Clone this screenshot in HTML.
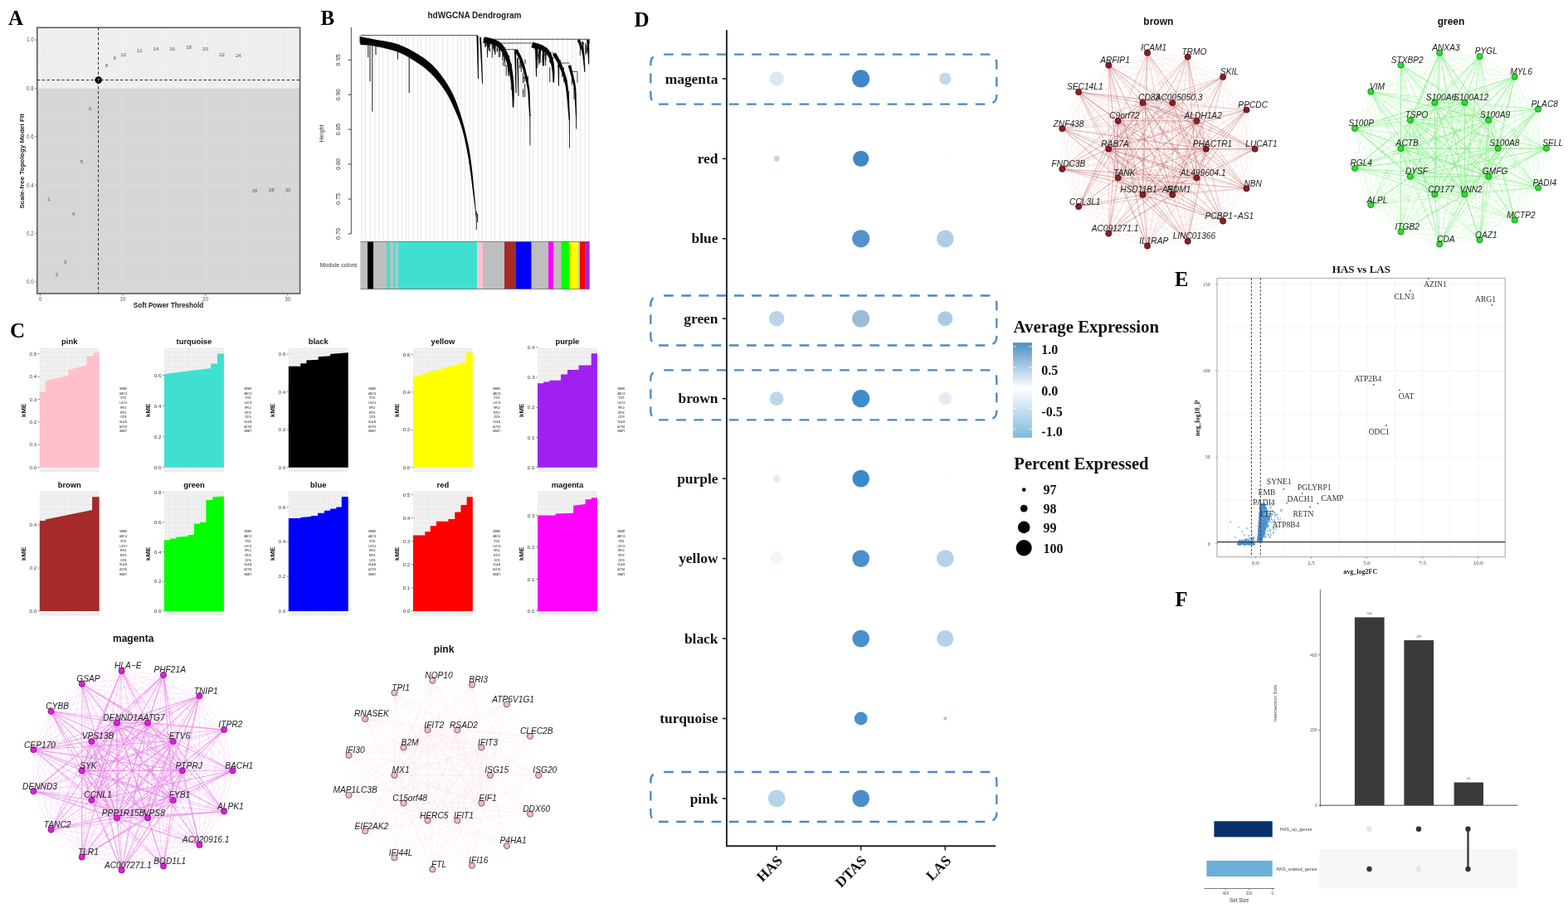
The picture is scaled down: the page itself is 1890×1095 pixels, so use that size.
<!DOCTYPE html>
<html><head><meta charset="utf-8"><title>hdWGCNA figure</title>
<style>
html,body{margin:0;padding:0;background:#fff;}
body{width:1890px;height:1095px;overflow:hidden;}
svg{display:block;}
.S{font-family:'Liberation Sans', Arial, sans-serif;}
.Sb{font-family:'Liberation Sans', Arial, sans-serif;font-weight:bold;}
.Si{font-family:'Liberation Sans', Arial, sans-serif;font-style:italic;}
.R{font-family:'Liberation Serif', 'Times New Roman', serif;}
.Rb{font-family:'Liberation Serif', 'Times New Roman', serif;font-weight:bold;}
</style></head>
<body>
<svg width="1890" height="1095" viewBox="0 0 1890 1095">
<rect width="1890" height="1095" fill="#fff"/>
<text class="Rb" x="10" y="29.6" font-size="25">A</text>
<rect x="44.8" y="33.3" width="316.8" height="73.2" fill="#eeeeee"/>
<rect x="44.8" y="106.5" width="316.8" height="247.5" fill="#d6d6d6"/>
<line x1="48.6" y1="33.3" x2="48.6" y2="106.5" stroke="#f7f7f7" stroke-width="0.9"/>
<line x1="48.6" y1="106.5" x2="48.6" y2="354" stroke="#dcdcdc" stroke-width="0.9"/>
<line x1="98.3" y1="33.3" x2="98.3" y2="106.5" stroke="#f7f7f7" stroke-width="0.5"/>
<line x1="98.3" y1="106.5" x2="98.3" y2="354" stroke="#dcdcdc" stroke-width="0.5"/>
<line x1="148" y1="33.3" x2="148" y2="106.5" stroke="#f7f7f7" stroke-width="0.9"/>
<line x1="148" y1="106.5" x2="148" y2="354" stroke="#dcdcdc" stroke-width="0.9"/>
<line x1="197.7" y1="33.3" x2="197.7" y2="106.5" stroke="#f7f7f7" stroke-width="0.5"/>
<line x1="197.7" y1="106.5" x2="197.7" y2="354" stroke="#dcdcdc" stroke-width="0.5"/>
<line x1="247.4" y1="33.3" x2="247.4" y2="106.5" stroke="#f7f7f7" stroke-width="0.9"/>
<line x1="247.4" y1="106.5" x2="247.4" y2="354" stroke="#dcdcdc" stroke-width="0.9"/>
<line x1="297.1" y1="33.3" x2="297.1" y2="106.5" stroke="#f7f7f7" stroke-width="0.5"/>
<line x1="297.1" y1="106.5" x2="297.1" y2="354" stroke="#dcdcdc" stroke-width="0.5"/>
<line x1="346.8" y1="33.3" x2="346.8" y2="106.5" stroke="#f7f7f7" stroke-width="0.9"/>
<line x1="346.8" y1="106.5" x2="346.8" y2="354" stroke="#dcdcdc" stroke-width="0.9"/>
<line x1="44.8" y1="77.3" x2="361.6" y2="77.3" stroke="#f7f7f7" stroke-width="0.5"/>
<line x1="44.8" y1="48.1" x2="361.6" y2="48.1" stroke="#f7f7f7" stroke-width="0.9"/>
<line x1="44.8" y1="340.1" x2="361.6" y2="340.1" stroke="#dcdcdc" stroke-width="0.9"/>
<line x1="44.8" y1="310.9" x2="361.6" y2="310.9" stroke="#dcdcdc" stroke-width="0.5"/>
<line x1="44.8" y1="281.7" x2="361.6" y2="281.7" stroke="#dcdcdc" stroke-width="0.9"/>
<line x1="44.8" y1="252.5" x2="361.6" y2="252.5" stroke="#dcdcdc" stroke-width="0.5"/>
<line x1="44.8" y1="223.3" x2="361.6" y2="223.3" stroke="#dcdcdc" stroke-width="0.9"/>
<line x1="44.8" y1="194.1" x2="361.6" y2="194.1" stroke="#dcdcdc" stroke-width="0.5"/>
<line x1="44.8" y1="164.9" x2="361.6" y2="164.9" stroke="#dcdcdc" stroke-width="0.9"/>
<line x1="44.8" y1="135.7" x2="361.6" y2="135.7" stroke="#dcdcdc" stroke-width="0.5"/>
<rect x="44.8" y="33.3" width="316.8" height="320.7" fill="none" stroke="#5a5a5a" stroke-width="1.6"/>
<line x1="44.8" y1="96.5" x2="361.6" y2="96.5" stroke="#2a2a2a" stroke-width="1" stroke-dasharray="3.3,2.6"/>
<line x1="118.5" y1="33.3" x2="118.5" y2="354" stroke="#2a2a2a" stroke-width="1" stroke-dasharray="3.3,2.6"/>
<text class="S" x="59" y="241.6" font-size="6" text-anchor="middle" fill="#555">1</text>
<text class="S" x="68.4" y="332.9" font-size="6" text-anchor="middle" fill="#555">2</text>
<text class="S" x="78.4" y="318.3" font-size="6" text-anchor="middle" fill="#555">3</text>
<text class="S" x="88.5" y="260.4" font-size="6" text-anchor="middle" fill="#555">4</text>
<text class="S" x="98.5" y="196.9" font-size="6" text-anchor="middle" fill="#555">5</text>
<text class="S" x="108.6" y="133.4" font-size="6" text-anchor="middle" fill="#555">6</text>
<text class="S" x="128.4" y="80.6" font-size="6" text-anchor="middle" fill="#555">8</text>
<text class="S" x="138.1" y="71.6" font-size="6" text-anchor="middle" fill="#555">9</text>
<text class="S" x="148.5" y="68.1" font-size="6" text-anchor="middle" fill="#555">10</text>
<text class="S" x="167.9" y="62.9" font-size="6" text-anchor="middle" fill="#555">12</text>
<text class="S" x="188.1" y="61.2" font-size="6" text-anchor="middle" fill="#555">14</text>
<text class="S" x="207.5" y="61.2" font-size="6" text-anchor="middle" fill="#555">16</text>
<text class="S" x="227.6" y="58.8" font-size="6" text-anchor="middle" fill="#555">18</text>
<text class="S" x="247.4" y="60.5" font-size="6" text-anchor="middle" fill="#555">20</text>
<text class="S" x="267.5" y="68.1" font-size="6" text-anchor="middle" fill="#555">22</text>
<text class="S" x="287.3" y="68.8" font-size="6" text-anchor="middle" fill="#555">24</text>
<text class="S" x="307.1" y="232.2" font-size="6" text-anchor="middle" fill="#555">26</text>
<text class="S" x="327.2" y="231.2" font-size="6" text-anchor="middle" fill="#555">28</text>
<text class="S" x="347" y="230.5" font-size="6" text-anchor="middle" fill="#555">30</text>
<circle cx="118.7" cy="96.5" r="4.3" fill="#000"/>
<text class="S" x="118.7" y="98.6" font-size="5.5" text-anchor="middle" fill="#ddd">7</text>
<line x1="42.3" y1="340.1" x2="44.8" y2="340.1" stroke="#555" stroke-width="0.8"/>
<text class="S" x="40.8" y="342.3" font-size="6.3" text-anchor="end" fill="#555">0.0</text>
<line x1="42.3" y1="281.7" x2="44.8" y2="281.7" stroke="#555" stroke-width="0.8"/>
<text class="S" x="40.8" y="283.9" font-size="6.3" text-anchor="end" fill="#555">0.2</text>
<line x1="42.3" y1="223.3" x2="44.8" y2="223.3" stroke="#555" stroke-width="0.8"/>
<text class="S" x="40.8" y="225.5" font-size="6.3" text-anchor="end" fill="#555">0.4</text>
<line x1="42.3" y1="164.9" x2="44.8" y2="164.9" stroke="#555" stroke-width="0.8"/>
<text class="S" x="40.8" y="167.1" font-size="6.3" text-anchor="end" fill="#555">0.6</text>
<line x1="42.3" y1="106.5" x2="44.8" y2="106.5" stroke="#555" stroke-width="0.8"/>
<text class="S" x="40.8" y="108.7" font-size="6.3" text-anchor="end" fill="#555">0.8</text>
<line x1="42.3" y1="48.1" x2="44.8" y2="48.1" stroke="#555" stroke-width="0.8"/>
<text class="S" x="40.8" y="50.3" font-size="6.3" text-anchor="end" fill="#555">1.0</text>
<line x1="48.6" y1="354" x2="48.6" y2="356.5" stroke="#555" stroke-width="0.8"/>
<text class="S" x="48.6" y="363" font-size="6.3" text-anchor="middle" fill="#555">0</text>
<line x1="148" y1="354" x2="148" y2="356.5" stroke="#555" stroke-width="0.8"/>
<text class="S" x="148" y="363" font-size="6.3" text-anchor="middle" fill="#555">10</text>
<line x1="247.4" y1="354" x2="247.4" y2="356.5" stroke="#555" stroke-width="0.8"/>
<text class="S" x="247.4" y="363" font-size="6.3" text-anchor="middle" fill="#555">20</text>
<line x1="346.8" y1="354" x2="346.8" y2="356.5" stroke="#555" stroke-width="0.8"/>
<text class="S" x="346.8" y="363" font-size="6.3" text-anchor="middle" fill="#555">30</text>
<text class="Sb" x="203" y="371.3" font-size="8.2" text-anchor="middle" fill="#222">Soft Power Threshold</text>
<text class="Sb" x="28.8" y="194.3" font-size="8.1" text-anchor="middle" fill="#222" transform="rotate(-90 28.8 194.3)">Scale-free Topology Model Fit</text>
<text class="Rb" x="386.5" y="30.2" font-size="25">B</text>
<text class="Sb" x="572" y="21.7" font-size="10" text-anchor="middle" fill="#222">hdWGCNA Dendrogram</text>
<line x1="423.3" y1="33" x2="423.3" y2="282" stroke="#333" stroke-width="0.9"/>
<line x1="419.5" y1="72.3" x2="423.3" y2="72.3" stroke="#333" stroke-width="0.9"/>
<text class="S" x="410" y="72.3" font-size="7.3" text-anchor="middle" fill="#333" transform="rotate(-90 410 72.3)">0.95</text>
<line x1="419.5" y1="114.2" x2="423.3" y2="114.2" stroke="#333" stroke-width="0.9"/>
<text class="S" x="410" y="114.2" font-size="7.3" text-anchor="middle" fill="#333" transform="rotate(-90 410 114.2)">0.90</text>
<line x1="419.5" y1="156.1" x2="423.3" y2="156.1" stroke="#333" stroke-width="0.9"/>
<text class="S" x="410" y="156.1" font-size="7.3" text-anchor="middle" fill="#333" transform="rotate(-90 410 156.1)">0.85</text>
<line x1="419.5" y1="198" x2="423.3" y2="198" stroke="#333" stroke-width="0.9"/>
<text class="S" x="410" y="198" font-size="7.3" text-anchor="middle" fill="#333" transform="rotate(-90 410 198)">0.80</text>
<line x1="419.5" y1="240" x2="423.3" y2="240" stroke="#333" stroke-width="0.9"/>
<text class="S" x="410" y="240" font-size="7.3" text-anchor="middle" fill="#333" transform="rotate(-90 410 240)">0.75</text>
<line x1="419.5" y1="282" x2="423.3" y2="282" stroke="#333" stroke-width="0.9"/>
<text class="S" x="410" y="282" font-size="7.3" text-anchor="middle" fill="#333" transform="rotate(-90 410 282)">0.70</text>
<text class="S" x="390" y="161" font-size="7.3" text-anchor="middle" fill="#333" transform="rotate(-90 390 161)">Height</text>
<path d="M436 44V289M440.43 44V289M446.22 44V289M451.87 44V289M457.12 44V289M461.68 44V289M467.74 44V289M473.84 44V289M479.17 44V289M484.49 44V289M489.1 44V289M493.11 44V289M498.07 44V289M503.6 44V289M507.78 44V289M513.84 44V289M518.44 44V289M523.05 44V289M527.16 44V289M533.75 44V289M539.67 44V289M545.95 44V289M551.55 44V289M555.64 44V289M560.49 44V289M565.79 44V289M570.09 44V289M576.56 44V289M581.52 44V289M585.92 44V289M592.05 44V289M596.37 44V289M602.79 44V289M607.96 44V289M613.4 44V289M618.29 44V289M623.55 44V289M628.04 44V289M632.13 44V289M638.39 44V289M643 44V289M649.02 44V289M653.57 44V289M660.09 44V289M666.41 44V289M672.37 44V289M678.36 44V289M683.87 44V289M689.76 44V289M694.08 44V289M699.32 44V289M705.47 44V289M709.99 44V289" stroke="#e2e2e2" stroke-width="0.9" fill="none"/>
<path d="M434.5 42.6H575.5M582.3 47.3H710.3V53M604 52H641M609.7 59.7H622M662.4 63.8H667.9M676 76H686.4M688.4 86.4H696M696 86.4V100" stroke="#222" stroke-width="0.8" fill="none"/>
<path d="M434.3 44.3 L435.06 44.44 L435.97 44.6 L437 44.79 L438.16 45 L439.44 45.23 L440.82 45.48 L442.3 45.75 L443.87 46.04 L445.52 46.36 L447.25 46.69 L449.05 47.03 L450.9 47.4 L452.87 47.78 L455.02 48.15 L457.3 48.54 L459.7 48.94 L462.17 49.37 L464.71 49.81 L467.26 50.29 L469.81 50.8 L472.33 51.35 L474.79 51.95 L477.16 52.6 L479.4 53.3 L481.56 54.06 L483.68 54.88 L485.77 55.76 L487.83 56.67 L489.85 57.63 L491.84 58.62 L493.8 59.65 L495.73 60.69 L497.62 61.76 L499.48 62.83 L501.3 63.92 L503.1 65 L504.86 66.08 L506.57 67.15 L508.23 68.22 L509.87 69.31 L511.47 70.41 L513.04 71.54 L514.58 72.7 L516.11 73.9 L517.62 75.16 L519.12 76.47 L520.61 77.85 L522.1 79.3 L523.59 80.83 L525.07 82.44 L526.55 84.12 L528.02 85.85 L529.47 87.64 L530.9 89.46 L532.31 91.32 L533.68 93.2 L535.02 95.1 L536.33 97.01 L537.59 98.91 L538.8 100.8 L539.96 102.67 L541.08 104.54 L542.15 106.4 L543.18 108.27 L544.18 110.15 L545.15 112.06 L546.09 114 L547.02 115.98 L547.93 118.01 L548.82 120.1 L549.71 122.26 L550.6 124.5 L551.48 126.81 L552.34 129.19 L553.19 131.63 L554.02 134.13 L554.84 136.67 L555.64 139.26 L556.42 141.89 L557.19 144.56 L557.94 147.26 L558.68 149.99 L559.4 152.74 L560.1 155.5 L560.79 158.26 L561.46 161.01 L562.11 163.77 L562.75 166.54 L563.37 169.34 L563.98 172.19 L564.57 175.09 L565.14 178.07 L565.7 181.14 L566.25 184.31 L566.78 187.59 L567.3 191 L567.81 194.64 L568.31 198.57 L568.8 202.71 L569.27 207 L569.73 211.38 L570.17 215.78 L570.6 220.14 L571.01 224.39 L571.39 228.46 L571.75 232.3 L572.09 235.84 L572.4 239 L572.68 241.87 L572.94 244.55 L573.16 247.05 L573.37 249.37 L573.55 251.52 L573.72 253.5 L573.87 255.31 L574 256.96 L574.11 258.45 L574.22 259.79 L574.31 260.97 L574.4 262 L573.8 262 L573.68 260.97 L573.54 259.78 L573.38 258.44 L573.21 256.94 L573.01 255.29 L572.8 253.47 L572.56 251.48 L572.3 249.33 L572.02 247.01 L571.71 244.52 L571.37 241.85 L571 239 L570.6 235.86 L570.15 232.36 L569.68 228.55 L569.17 224.52 L568.64 220.31 L568.09 216 L567.52 211.65 L566.94 207.31 L566.35 203.07 L565.77 198.98 L565.18 195.1 L564.6 191.5 L564.02 188.11 L563.44 184.8 L562.85 181.59 L562.25 178.46 L561.65 175.42 L561.04 172.47 L560.42 169.6 L559.79 166.81 L559.16 164.11 L558.51 161.49 L557.86 158.96 L557.2 156.5 L556.53 154.16 L555.87 151.97 L555.2 149.91 L554.53 147.94 L553.85 146.07 L553.16 144.25 L552.46 142.48 L551.73 140.72 L550.99 138.97 L550.22 137.19 L549.43 135.38 L548.6 133.5 L547.75 131.58 L546.9 129.64 L546.03 127.7 L545.15 125.76 L544.24 123.82 L543.31 121.88 L542.35 119.94 L541.36 118.02 L540.34 116.11 L539.27 114.22 L538.16 112.35 L537 110.5 L535.79 108.66 L534.51 106.81 L533.19 104.95 L531.83 103.1 L530.43 101.27 L529 99.46 L527.55 97.67 L526.08 95.93 L524.61 94.23 L523.13 92.59 L521.66 91.01 L520.2 89.5 L518.76 88.07 L517.33 86.71 L515.91 85.41 L514.48 84.17 L513.05 82.98 L511.6 81.83 L510.13 80.7 L508.63 79.59 L507.09 78.5 L505.51 77.41 L503.89 76.31 L502.2 75.2 L500.46 74.07 L498.69 72.94 L496.88 71.8 L495.03 70.67 L493.15 69.55 L491.23 68.44 L489.28 67.37 L487.29 66.32 L485.27 65.32 L483.21 64.36 L481.12 63.45 L479 62.6 L476.79 61.8 L474.47 61.05 L472.05 60.33 L469.57 59.65 L467.06 59.01 L464.54 58.41 L462.04 57.85 L459.6 57.33 L457.23 56.84 L454.97 56.39 L452.85 55.98 L450.9 55.6 L449.06 55.27 L447.28 55 L445.55 54.78 L443.9 54.61 L442.33 54.47 L440.84 54.36 L439.46 54.28 L438.18 54.21 L437.01 54.16 L435.97 54.11 L435.07 54.06 L434.3 54Z" fill="#050505"/>
<path d="M574.2 255V277M572.6 258H575.6V268" stroke="#222" stroke-width="1" fill="none"/>
<path d="M448.8 50V134.5M443.8 50V69M453 52V66M479.4 58V71.6M493.2 64V112M446 50V98" stroke="#1a1a1a" stroke-width="1" fill="none"/>
<path d="M434.5 44V52" stroke="#111" stroke-width="2" fill="none"/>
<path d="M574.4 43.02 L574.44 44.33 L574.49 45.98 L574.55 47.92 L574.61 50.09 L574.68 52.46 L574.76 54.96 L574.83 57.54 L574.91 60.16 L574.99 62.77 L575.07 65.32 L575.14 67.75 L575.21 70.02 L575.28 72.25 L575.35 74.59 L575.43 76.99 L575.51 79.42 L575.58 81.84 L575.66 84.2 L575.73 86.47 L575.8 88.6 L575.86 90.57 L575.91 92.31 L575.96 93.81 L576 95.01 L577 94.99 L576.99 93.79 L576.98 92.29 L576.96 90.54 L576.94 88.58 L576.93 86.44 L576.91 84.17 L576.89 81.81 L576.86 79.39 L576.84 76.96 L576.82 74.56 L576.81 72.22 L576.79 69.98 L576.77 67.72 L576.75 65.29 L576.74 62.74 L576.72 60.13 L576.7 57.51 L576.68 54.92 L576.66 52.42 L576.65 50.06 L576.63 47.88 L576.62 45.94 L576.61 44.29 L576.6 42.98Z" fill="#060606"/>
<path d="M578 45.05 L578.09 46.51 L578.2 48.36 L578.33 50.54 L578.48 52.98 L578.64 55.63 L578.81 58.43 L578.98 61.32 L579.15 64.24 L579.32 67.13 L579.49 69.93 L579.64 72.59 L579.77 75.03 L579.89 77.41 L580.02 79.87 L580.14 82.38 L580.27 84.89 L580.38 87.38 L580.5 89.8 L580.6 92.11 L580.7 94.29 L580.79 96.28 L580.87 98.06 L580.94 99.59 L581 100.82 L582 100.78 L581.96 99.55 L581.92 98.02 L581.87 96.24 L581.82 94.25 L581.76 92.07 L581.69 89.75 L581.62 87.33 L581.55 84.84 L581.47 82.32 L581.39 79.81 L581.31 77.35 L581.23 74.97 L581.14 72.52 L581.04 69.86 L580.93 67.05 L580.81 64.16 L580.69 61.24 L580.57 58.34 L580.45 55.54 L580.34 52.89 L580.23 50.44 L580.14 48.26 L580.06 46.41 L580 44.95Z" fill="#060606"/>
<path d="M582.22 51.67 L582.91 51.79 L583.78 51.94 L584.78 52.09 L585.88 52.26 L587.07 52.45 L588.3 52.65 L589.54 52.87 L590.77 53.1 L591.94 53.35 L593.03 53.6 L593.98 53.86 L594.79 54.12 L595.55 54.41 L596.28 54.7 L596.95 54.98 L597.55 55.26 L598.1 55.54 L598.61 55.83 L599.1 56.15 L599.58 56.49 L600.06 56.88 L600.57 57.33 L601.09 57.86 L601.64 58.45 L602.22 59.12 L602.8 59.88 L603.41 60.72 L604.02 61.62 L604.64 62.59 L605.25 63.59 L605.85 64.64 L606.44 65.71 L607.01 66.79 L607.56 67.87 L608.08 68.95 L608.57 70.01 L609.03 71.04 L609.45 72.06 L609.85 73.07 L610.22 74.08 L610.58 75.11 L610.92 76.15 L611.24 77.24 L611.57 78.36 L611.88 79.53 L612.2 80.76 L612.52 82.06 L612.85 83.44 L613.18 84.88 L613.52 86.37 L613.85 87.91 L614.18 89.49 L614.51 91.12 L614.83 92.79 L615.14 94.5 L615.43 96.25 L615.71 98.04 L615.97 99.87 L616.21 101.73 L616.43 103.62 L616.62 105.64 L616.8 107.88 L616.96 110.27 L617.1 112.75 L617.23 115.28 L617.34 117.8 L617.44 120.24 L617.53 122.56 L617.61 124.71 L617.68 126.62 L617.74 128.24 L617.8 129.51 L619.4 129.49 L619.42 128.22 L619.45 126.6 L619.49 124.69 L619.54 122.55 L619.59 120.22 L619.64 117.77 L619.68 115.24 L619.7 112.69 L619.71 110.18 L619.69 107.75 L619.65 105.47 L619.57 103.38 L619.46 101.43 L619.33 99.51 L619.18 97.63 L619 95.78 L618.81 93.98 L618.6 92.21 L618.37 90.49 L618.14 88.81 L617.9 87.17 L617.65 85.58 L617.4 84.05 L617.15 82.56 L616.9 81.14 L616.65 79.78 L616.4 78.48 L616.14 77.23 L615.87 76.02 L615.58 74.85 L615.28 73.69 L614.96 72.55 L614.62 71.42 L614.25 70.29 L613.86 69.15 L613.43 67.99 L612.97 66.82 L612.48 65.63 L611.96 64.42 L611.41 63.22 L610.84 62.02 L610.25 60.84 L609.64 59.69 L609.01 58.56 L608.37 57.48 L607.71 56.44 L607.04 55.46 L606.36 54.55 L605.68 53.72 L605 52.96 L604.31 52.26 L603.61 51.62 L602.88 51.02 L602.14 50.48 L601.38 49.98 L600.6 49.52 L599.8 49.09 L598.98 48.68 L598.14 48.29 L597.21 47.88 L596.12 47.45 L594.92 47.04 L593.65 46.66 L592.34 46.3 L591.02 45.97 L589.7 45.66 L588.43 45.37 L587.23 45.11 L586.13 44.87 L585.16 44.66 L584.38 44.48 L583.78 44.33Z" fill="#060606"/>
<path d="M586.82 50.19 L586.88 50.47 L586.95 50.83 L587.04 51.25 L587.14 51.72 L587.25 52.24 L587.37 52.79 L587.49 53.36 L587.62 53.94 L587.76 54.52 L587.89 55.09 L588.03 55.65 L588.17 56.17 L588.31 56.7 L588.47 57.25 L588.64 57.82 L588.82 58.4 L589 58.97 L589.18 59.54 L589.35 60.08 L589.52 60.6 L589.67 61.07 L589.81 61.48 L589.93 61.84 L590.02 62.12 L590.98 61.88 L590.93 61.58 L590.85 61.21 L590.76 60.78 L590.66 60.29 L590.56 59.77 L590.45 59.21 L590.33 58.63 L590.22 58.05 L590.11 57.46 L590.01 56.89 L589.92 56.34 L589.83 55.83 L589.76 55.31 L589.69 54.77 L589.63 54.2 L589.56 53.62 L589.5 53.03 L589.44 52.46 L589.39 51.91 L589.34 51.39 L589.29 50.91 L589.25 50.48 L589.22 50.11 L589.18 49.81Z" fill="#060606"/>
<path d="M594.9 52.09 L594.94 52.38 L594.99 52.72 L595.04 53.12 L595.1 53.57 L595.16 54.06 L595.23 54.59 L595.3 55.14 L595.37 55.71 L595.45 56.29 L595.52 56.88 L595.59 57.48 L595.66 58.06 L595.73 58.68 L595.8 59.36 L595.88 60.09 L595.96 60.86 L596.05 61.64 L596.13 62.41 L596.21 63.17 L596.28 63.89 L596.35 64.55 L596.41 65.14 L596.46 65.64 L596.5 66.03 L597.5 65.97 L597.49 65.58 L597.48 65.07 L597.47 64.48 L597.46 63.82 L597.45 63.1 L597.44 62.34 L597.42 61.55 L597.41 60.77 L597.39 60 L597.37 59.26 L597.36 58.57 L597.34 57.94 L597.32 57.35 L597.3 56.74 L597.28 56.14 L597.26 55.55 L597.23 54.97 L597.21 54.41 L597.18 53.88 L597.16 53.39 L597.14 52.94 L597.12 52.54 L597.11 52.19 L597.1 51.91Z" fill="#060606"/>
<path d="M619.9 60.03 L619.94 60.96 L619.98 62.07 L620.03 63.34 L620.08 64.77 L620.15 66.34 L620.21 68.03 L620.28 69.83 L620.35 71.73 L620.42 73.71 L620.49 75.76 L620.56 77.87 L620.63 80.02 L620.7 82.36 L620.78 85.02 L620.86 87.92 L620.94 90.97 L621.03 94.11 L621.11 97.26 L621.19 100.34 L621.27 103.27 L621.34 105.98 L621.4 108.39 L621.46 110.42 L621.5 112.01 L622.5 111.99 L622.49 110.41 L622.49 108.37 L622.48 105.96 L622.47 103.25 L622.46 100.32 L622.45 97.24 L622.44 94.09 L622.43 90.95 L622.41 87.89 L622.4 85 L622.39 82.33 L622.37 79.98 L622.35 77.83 L622.33 75.72 L622.31 73.67 L622.28 71.68 L622.25 69.78 L622.23 67.97 L622.2 66.28 L622.17 64.71 L622.15 63.28 L622.13 62.01 L622.11 60.9 L622.1 59.97Z" fill="#060606"/>
<path d="M611 72.05 L611.04 72.53 L611.08 73.14 L611.14 73.84 L611.2 74.64 L611.26 75.5 L611.33 76.42 L611.4 77.37 L611.47 78.34 L611.55 79.31 L611.62 80.26 L611.69 81.17 L611.75 82.04 L611.82 82.9 L611.88 83.82 L611.96 84.77 L612.03 85.74 L612.1 86.7 L612.17 87.66 L612.24 88.57 L612.31 89.44 L612.37 90.23 L612.42 90.94 L612.46 91.54 L612.5 92.02 L613.5 91.98 L613.49 91.49 L613.47 90.89 L613.45 90.18 L613.43 89.38 L613.41 88.51 L613.39 87.59 L613.37 86.64 L613.34 85.67 L613.32 84.7 L613.29 83.75 L613.27 82.83 L613.25 81.96 L613.23 81.1 L613.2 80.18 L613.18 79.22 L613.16 78.25 L613.13 77.28 L613.11 76.33 L613.09 75.41 L613.06 74.55 L613.04 73.75 L613.03 73.04 L613.01 72.43 L613 71.95Z" fill="#060606"/>
<path d="M620.23 61.24 L620.54 61.8 L620.94 62.49 L621.39 63.26 L621.89 64.13 L622.44 65.06 L623.01 66.06 L623.59 67.11 L624.18 68.2 L624.77 69.31 L625.33 70.44 L625.85 71.56 L626.34 72.67 L626.8 73.8 L627.26 74.98 L627.71 76.18 L628.16 77.43 L628.6 78.7 L629.03 80 L629.46 81.33 L629.89 82.69 L630.3 84.08 L630.72 85.49 L631.12 86.92 L631.52 88.37 L631.92 89.87 L632.32 91.43 L632.73 93.03 L633.13 94.66 L633.52 96.32 L633.91 97.99 L634.28 99.67 L634.63 101.34 L634.97 103 L635.27 104.63 L635.55 106.22 L635.8 107.76 L636.01 109.27 L636.18 110.76 L636.33 112.24 L636.45 113.72 L636.55 115.18 L636.63 116.63 L636.7 118.07 L636.77 119.49 L636.83 120.9 L636.9 122.3 L636.98 123.68 L637.06 125.05 L637.16 126.43 L637.26 127.86 L637.36 129.32 L637.47 130.78 L637.57 132.22 L637.66 133.63 L637.75 134.98 L637.84 136.24 L637.92 137.4 L637.99 138.43 L638.05 139.32 L638.1 140.04 L639.5 139.96 L639.47 139.25 L639.44 138.36 L639.4 137.32 L639.36 136.16 L639.31 134.89 L639.26 133.55 L639.21 132.14 L639.16 130.69 L639.1 129.22 L639.05 127.76 L638.99 126.33 L638.94 124.95 L638.89 123.6 L638.86 122.23 L638.84 120.84 L638.82 119.43 L638.8 118 L638.77 116.55 L638.73 115.08 L638.68 113.59 L638.6 112.08 L638.5 110.55 L638.37 109 L638.2 107.44 L638 105.85 L637.76 104.21 L637.5 102.54 L637.22 100.85 L636.91 99.14 L636.59 97.43 L636.26 95.73 L635.91 94.04 L635.55 92.37 L635.2 90.74 L634.84 89.15 L634.48 87.63 L634.12 86.13 L633.76 84.66 L633.38 83.22 L633 81.79 L632.61 80.39 L632.22 79.01 L631.81 77.66 L631.4 76.34 L630.98 75.04 L630.55 73.78 L630.11 72.54 L629.66 71.33 L629.18 70.12 L628.65 68.89 L628.09 67.68 L627.52 66.49 L626.94 65.34 L626.37 64.24 L625.81 63.19 L625.29 62.22 L624.81 61.34 L624.39 60.56 L624.04 59.9 L623.77 59.36Z" fill="#060606"/>
<path d="M638.3 138 L638.33 141.12 L638.35 144.24 L638.38 147.35 L638.4 150.47 L638.43 153.59 L638.45 156.7 L638.48 159.82 L638.5 162.94 L638.53 166.05 L638.55 169.17 L638.58 172.29 L638.6 175.4 L639.4 175.4 L639.39 172.28 L639.38 169.16 L639.37 166.05 L639.37 162.93 L639.36 159.81 L639.35 156.7 L639.34 153.58 L639.33 150.46 L639.32 147.35 L639.32 144.23 L639.31 141.11 L639.3 138Z" fill="#060606"/>
<path d="M623.2 70.02 L623.24 71.24 L623.29 72.79 L623.35 74.61 L623.41 76.66 L623.49 78.88 L623.56 81.22 L623.64 83.63 L623.72 86.07 L623.79 88.47 L623.86 90.8 L623.93 93 L623.99 95.01 L624.05 96.96 L624.1 98.96 L624.16 100.99 L624.22 103.03 L624.27 105.03 L624.32 106.97 L624.37 108.83 L624.41 110.57 L624.46 112.17 L624.49 113.59 L624.52 114.82 L624.55 115.81 L625.45 115.79 L625.44 114.8 L625.43 113.58 L625.41 112.15 L625.39 110.55 L625.38 108.81 L625.35 106.95 L625.33 105.01 L625.31 103 L625.29 100.97 L625.26 98.94 L625.24 96.93 L625.21 94.99 L625.18 92.97 L625.15 90.77 L625.11 88.44 L625.07 86.04 L625.03 83.6 L624.99 81.18 L624.95 78.84 L624.91 76.62 L624.88 74.57 L624.85 72.75 L624.82 71.2 L624.8 69.98Z" fill="#060606"/>
<path d="M640.33 57.39 L640.9 57.51 L641.63 57.65 L642.45 57.8 L643.35 57.96 L644.31 58.14 L645.32 58.33 L646.34 58.54 L647.36 58.76 L648.34 58.99 L649.25 59.23 L650.07 59.48 L650.81 59.74 L651.53 60.03 L652.25 60.33 L652.95 60.64 L653.62 60.95 L654.25 61.27 L654.86 61.6 L655.44 61.95 L655.99 62.32 L656.53 62.71 L657.04 63.14 L657.54 63.6 L658.03 64.1 L658.51 64.66 L658.98 65.28 L659.45 65.96 L659.91 66.68 L660.36 67.44 L660.8 68.24 L661.22 69.08 L661.63 69.94 L662.01 70.83 L662.39 71.73 L662.74 72.65 L663.07 73.57 L663.38 74.49 L663.66 75.45 L663.92 76.43 L664.17 77.45 L664.39 78.49 L664.6 79.56 L664.79 80.63 L664.97 81.72 L665.14 82.82 L665.3 83.92 L665.45 85.02 L665.59 86.11 L665.72 87.23 L665.84 88.42 L665.94 89.67 L666.02 90.95 L666.09 92.24 L666.16 93.51 L666.21 94.74 L666.26 95.9 L666.3 96.98 L666.33 97.93 L666.37 98.75 L666.4 99.4 L668 99.4 L668.03 98.75 L668.07 97.94 L668.12 96.99 L668.17 95.92 L668.23 94.75 L668.29 93.51 L668.35 92.23 L668.39 90.92 L668.43 89.6 L668.44 88.31 L668.44 87.07 L668.41 85.89 L668.36 84.77 L668.31 83.64 L668.25 82.5 L668.18 81.36 L668.1 80.22 L668 79.08 L667.88 77.94 L667.74 76.81 L667.58 75.7 L667.39 74.59 L667.18 73.5 L666.93 72.43 L666.66 71.39 L666.36 70.36 L666.05 69.34 L665.71 68.32 L665.34 67.31 L664.95 66.32 L664.53 65.35 L664.09 64.4 L663.61 63.47 L663.1 62.58 L662.56 61.72 L661.97 60.9 L661.35 60.12 L660.7 59.39 L660.03 58.72 L659.32 58.09 L658.6 57.5 L657.87 56.96 L657.11 56.45 L656.35 55.98 L655.58 55.53 L654.81 55.1 L654.02 54.68 L653.19 54.26 L652.25 53.83 L651.22 53.41 L650.15 53.02 L649.06 52.65 L647.96 52.3 L646.88 51.98 L645.84 51.68 L644.86 51.41 L643.97 51.16 L643.19 50.94 L642.56 50.76 L642.07 50.61Z" fill="#060606"/>
<path d="M644.9 58.02 L644.93 58.84 L644.97 59.86 L645.01 61.06 L645.06 62.41 L645.11 63.87 L645.17 65.42 L645.22 67.04 L645.28 68.68 L645.34 70.33 L645.39 71.96 L645.45 73.52 L645.5 75.01 L645.54 76.51 L645.59 78.1 L645.64 79.76 L645.69 81.45 L645.74 83.15 L645.79 84.82 L645.83 86.43 L645.87 87.95 L645.91 89.35 L645.95 90.6 L645.98 91.66 L646 92.51 L647 92.49 L647.01 91.65 L647.01 90.58 L647.02 89.34 L647.03 87.94 L647.04 86.42 L647.05 84.81 L647.06 83.14 L647.07 81.44 L647.08 79.74 L647.09 78.08 L647.1 76.49 L647.1 74.99 L647.11 73.5 L647.11 71.93 L647.11 70.3 L647.11 68.65 L647.11 67 L647.11 65.39 L647.11 63.83 L647.1 62.37 L647.1 61.02 L647.1 59.82 L647.1 58.8 L647.1 57.98Z" fill="#060606"/>
<path d="M649.7 58.03 L649.73 58.46 L649.76 59.01 L649.79 59.64 L649.84 60.36 L649.88 61.14 L649.93 61.96 L649.98 62.82 L650.03 63.69 L650.08 64.56 L650.12 65.41 L650.16 66.23 L650.2 67.01 L650.23 67.78 L650.27 68.61 L650.3 69.46 L650.33 70.33 L650.35 71.2 L650.38 72.06 L650.41 72.89 L650.43 73.66 L650.45 74.38 L650.47 75.02 L650.49 75.56 L650.5 76 L651.5 76 L651.52 75.57 L651.53 75.02 L651.56 74.38 L651.59 73.67 L651.61 72.89 L651.64 72.06 L651.67 71.21 L651.7 70.33 L651.73 69.46 L651.76 68.6 L651.78 67.77 L651.8 66.99 L651.82 66.21 L651.83 65.38 L651.84 64.52 L651.85 63.65 L651.86 62.77 L651.87 61.91 L651.88 61.09 L651.88 60.31 L651.89 59.59 L651.89 58.95 L651.9 58.41 L651.9 57.97Z" fill="#060606"/>
<path d="M653.9 60 L653.91 60.48 L653.93 61.09 L653.95 61.8 L653.98 62.59 L654 63.46 L654.03 64.38 L654.06 65.33 L654.09 66.3 L654.12 67.27 L654.15 68.22 L654.17 69.13 L654.2 70 L654.23 70.87 L654.25 71.78 L654.28 72.73 L654.31 73.7 L654.34 74.67 L654.37 75.62 L654.4 76.54 L654.42 77.41 L654.45 78.2 L654.47 78.91 L654.49 79.52 L654.5 80 L655.5 80 L655.51 79.52 L655.53 78.91 L655.55 78.2 L655.58 77.41 L655.6 76.54 L655.63 75.62 L655.66 74.67 L655.69 73.7 L655.72 72.73 L655.75 71.78 L655.77 70.87 L655.8 70 L655.83 69.13 L655.85 68.22 L655.88 67.27 L655.91 66.3 L655.94 65.33 L655.97 64.38 L656 63.46 L656.02 62.59 L656.05 61.8 L656.07 61.09 L656.09 60.48 L656.1 60Z" fill="#060606"/>
<path d="M665.93 65.58 L666.35 66.32 L666.88 67.21 L667.49 68.21 L668.16 69.32 L668.9 70.52 L669.66 71.82 L670.46 73.19 L671.25 74.62 L672.04 76.1 L672.81 77.62 L673.53 79.15 L674.2 80.72 L674.86 82.32 L675.53 83.93 L676.19 85.56 L676.85 87.21 L677.5 88.92 L678.14 90.69 L678.76 92.55 L679.37 94.51 L679.95 96.59 L680.51 98.81 L681.03 101.18 L681.53 103.73 L681.99 106.62 L682.44 109.96 L682.88 113.62 L683.29 117.52 L683.68 121.55 L684.05 125.6 L684.39 129.56 L684.7 133.35 L684.98 136.86 L685.24 139.98 L685.46 142.61 L685.65 144.66 L687.15 144.54 L687.03 142.5 L686.9 139.87 L686.76 136.75 L686.6 133.23 L686.43 129.43 L686.23 125.44 L686.01 121.37 L685.76 117.32 L685.49 113.38 L685.18 109.66 L684.85 106.26 L684.47 103.27 L684.06 100.62 L683.6 98.14 L683.11 95.81 L682.58 93.63 L682.03 91.56 L681.45 89.61 L680.85 87.75 L680.24 85.96 L679.63 84.24 L679.02 82.57 L678.41 80.93 L677.8 79.28 L677.15 77.61 L676.43 75.93 L675.68 74.3 L674.91 72.71 L674.13 71.19 L673.36 69.74 L672.62 68.38 L671.92 67.13 L671.28 65.99 L670.71 64.98 L670.24 64.13 L669.87 63.42Z" fill="#060606"/>
<path d="M685.9 140 L685.91 143.23 L685.92 146.47 L685.92 149.7 L685.93 152.93 L685.94 156.17 L685.95 159.4 L685.96 162.63 L685.97 165.87 L685.98 169.1 L685.98 172.33 L685.99 175.57 L686 178.8 L686.8 178.8 L686.81 175.57 L686.82 172.33 L686.82 169.1 L686.83 165.87 L686.84 162.63 L686.85 159.4 L686.86 156.17 L686.87 152.93 L686.88 149.7 L686.88 146.47 L686.89 143.23 L686.9 140Z" fill="#060606"/>
<path d="M672.5 72 L672.51 72.77 L672.52 73.75 L672.54 74.89 L672.55 76.17 L672.57 77.56 L672.59 79.03 L672.61 80.56 L672.63 82.11 L672.65 83.66 L672.67 85.18 L672.69 86.63 L672.7 88 L672.72 89.36 L672.74 90.79 L672.76 92.27 L672.78 93.78 L672.8 95.28 L672.81 96.75 L672.83 98.17 L672.85 99.5 L672.86 100.73 L672.88 101.82 L672.89 102.75 L672.9 103.5 L673.9 103.5 L673.91 102.75 L673.92 101.82 L673.94 100.73 L673.95 99.5 L673.97 98.17 L673.99 96.75 L674 95.28 L674.02 93.78 L674.04 92.27 L674.06 90.79 L674.08 89.36 L674.1 88 L674.11 86.63 L674.13 85.18 L674.15 83.66 L674.17 82.11 L674.19 80.56 L674.21 79.03 L674.23 77.56 L674.25 76.17 L674.26 74.89 L674.28 73.75 L674.29 72.77 L674.3 72Z" fill="#060606"/>
<path d="M684.7 79.23 L685.04 80.45 L685.48 81.98 L686 83.77 L686.59 85.78 L687.22 87.96 L687.88 90.26 L688.54 92.63 L689.19 95.01 L689.8 97.36 L690.36 99.63 L690.85 101.76 L691.24 103.71 L691.55 105.54 L691.81 107.35 L692.03 109.13 L692.21 110.89 L692.35 112.63 L692.47 114.34 L692.57 116.03 L692.65 117.69 L692.73 119.32 L692.81 120.93 L692.9 122.5 L693 124.04 L693.11 125.58 L693.21 127.15 L693.31 128.72 L693.4 130.29 L693.49 131.82 L693.56 133.31 L693.63 134.72 L693.7 136.04 L693.76 137.25 L693.81 138.33 L693.86 139.26 L693.9 140.02 L695.1 139.98 L695.09 139.22 L695.08 138.29 L695.06 137.21 L695.05 136 L695.03 134.67 L695.01 133.26 L694.99 131.77 L694.96 130.23 L694.93 128.66 L694.89 127.07 L694.85 125.5 L694.8 123.96 L694.75 122.42 L694.72 120.86 L694.7 119.26 L694.68 117.62 L694.66 115.95 L694.62 114.25 L694.56 112.5 L694.48 110.73 L694.37 108.92 L694.22 107.08 L694.02 105.2 L693.76 103.29 L693.43 101.26 L693.01 99.05 L692.53 96.72 L691.99 94.32 L691.43 91.89 L690.85 89.48 L690.28 87.14 L689.72 84.94 L689.21 82.9 L688.76 81.09 L688.38 79.57 L688.1 78.37Z" fill="#060606"/>
<path d="M694 138.01 L694.03 139.46 L694.05 140.92 L694.08 142.38 L694.1 143.84 L694.13 145.3 L694.15 146.76 L694.18 148.21 L694.2 149.67 L694.23 151.13 L694.25 152.59 L694.28 154.05 L694.3 155.5 L695.1 155.5 L695.09 154.04 L695.08 152.58 L695.07 151.12 L695.07 149.66 L695.06 148.2 L695.05 146.74 L695.04 145.29 L695.03 143.83 L695.02 142.37 L695.02 140.91 L695.01 139.45 L695 137.99Z" fill="#060606"/>
<path d="M695.67 48.64 L695.81 48.97 L695.99 49.38 L696.19 49.83 L696.42 50.34 L696.67 50.9 L696.93 51.49 L697.2 52.11 L697.48 52.76 L697.76 53.43 L698.03 54.11 L698.3 54.8 L698.57 55.5 L698.84 56.2 L699.12 56.89 L699.41 57.54 L699.69 58.19 L699.97 58.85 L700.25 59.53 L700.52 60.25 L700.8 61.04 L701.06 61.9 L701.32 62.87 L701.58 63.96 L701.82 65.18 L702.07 66.62 L702.32 68.34 L702.57 70.27 L702.83 72.34 L703.08 74.5 L703.32 76.69 L703.54 78.84 L703.76 80.9 L703.95 82.81 L704.13 84.51 L704.28 85.94 L704.4 87.04 L705.4 86.96 L705.34 85.86 L705.28 84.43 L705.22 82.72 L705.14 80.8 L705.05 78.73 L704.96 76.56 L704.86 74.36 L704.74 72.18 L704.62 70.07 L704.48 68.11 L704.34 66.34 L704.18 64.82 L704 63.52 L703.8 62.34 L703.58 61.27 L703.35 60.3 L703.1 59.41 L702.85 58.6 L702.6 57.85 L702.35 57.14 L702.1 56.47 L701.87 55.82 L701.65 55.18 L701.43 54.5 L701.21 53.78 L700.97 53.04 L700.73 52.32 L700.48 51.61 L700.24 50.92 L700 50.26 L699.77 49.64 L699.56 49.07 L699.36 48.54 L699.19 48.08 L699.04 47.68 L698.93 47.36Z" fill="#060606"/>
<path d="M707.1 48.09 L707.15 48.65 L707.22 49.33 L707.3 50.12 L707.38 50.99 L707.47 51.95 L707.57 52.99 L707.67 54.08 L707.78 55.22 L707.88 56.39 L707.98 57.6 L708.08 58.82 L708.17 60.04 L708.26 61.36 L708.35 62.83 L708.45 64.43 L708.55 66.1 L708.65 67.81 L708.75 69.52 L708.84 71.19 L708.93 72.78 L709.02 74.24 L709.09 75.55 L709.15 76.65 L709.2 77.51 L710.2 77.49 L710.2 76.62 L710.21 75.52 L710.21 74.21 L710.22 72.74 L710.23 71.15 L710.24 69.48 L710.24 67.77 L710.25 66.05 L710.25 64.37 L710.25 62.77 L710.24 61.29 L710.23 59.96 L710.22 58.72 L710.19 57.49 L710.17 56.27 L710.14 55.08 L710.1 53.93 L710.07 52.83 L710.03 51.79 L710 50.82 L709.97 49.94 L709.94 49.15 L709.91 48.48 L709.9 47.91Z" fill="#060606"/>
<path d="M701.1 50.09 L701.16 50.57 L701.23 51.16 L701.32 51.84 L701.41 52.61 L701.51 53.44 L701.62 54.33 L701.73 55.27 L701.85 56.23 L701.96 57.2 L702.07 58.17 L702.18 59.13 L702.28 60.07 L702.39 61.03 L702.5 62.08 L702.61 63.2 L702.73 64.35 L702.85 65.52 L702.97 66.67 L703.08 67.8 L703.18 68.86 L703.28 69.84 L703.37 70.71 L703.44 71.46 L703.5 72.04 L704.5 71.96 L704.46 71.37 L704.41 70.63 L704.36 69.75 L704.3 68.77 L704.23 67.7 L704.16 66.58 L704.08 65.41 L704.01 64.24 L703.93 63.08 L703.86 61.96 L703.78 60.91 L703.72 59.93 L703.65 59 L703.57 58.03 L703.49 57.05 L703.41 56.07 L703.33 55.1 L703.26 54.17 L703.18 53.27 L703.11 52.43 L703.04 51.66 L702.98 50.97 L702.94 50.39 L702.9 49.91Z" fill="#060606"/>
<path d="M589.18 51.45V60.23M585.16 52.61V56.75M584.93 52.52V54.54M590.94 51.21V53.34M590.79 53.48V55.73M587.57 52.88V69.25M593.23 52.19V69.44M584.75 53.58V56.92M586.31 51.35V54.88M597.06 51.54V58.95M594.22 52.12V58.92M585 51.18V53.86M594.89 52.28V55.86M605.86 58.17V61.61M607.94 59.89V62.85M605.74 58.68V72.93M607.29 57.02V74.39M601.18 57.93V69.1M601.52 58.42V60.45M606.68 60.35V67.61M608.75 57.2V66.93M615.97 87.6V92.93M617.2 94.89V100.49M616.32 77.21V87.09M616.24 95.86V108.67M628.28 77.72V86.87M626.18 79.23V81.69M626.94 71.18V82.62M627.03 74.95V79.4M632.97 71.61V76.84M630.4 87.67V100.41M659.42 57.67V62.43M649.82 61.31V77.98M645.87 57.06V59.92M647.43 58.91V66.46M647.99 56.02V60.83M650.02 59.4V75.93M656.12 59.09V67.2M655.85 56.32V71.27M657.82 61.25V73.43M650.46 58.39V60.57M655.05 56.37V58.45M646.97 56.97V60.82M644 56V58.37M644.93 58.18V60.19M659.61 59.68V62.04M663.51 72.25V76.37M662.74 81.28V99.06M664.8 74.71V76.83M662.61 72.17V75.29M666.97 68.91V70.91M679.51 81.51V83.85M675.43 72.49V78.95M679.79 87.54V97.29M672.61 78.6V81.05M677.72 81.59V93.3M673.3 76.01V88.55M679.85 87.35V99.74M678.18 85.32V88.14M683.11 95.82V97.84M680.17 94.15V97.22M684.16 109.04V114.24M685.62 109.74V126.33M682.19 92.85V95.67M689.18 94.09V102.32M693.4 106.81V112.49M691.92 105.99V108.11M691.96 108.2V119.99M692.5 99.56V102.07M705.89 53.99V66.25M707.72 54.75V59.33M707.47 58.7V61.16M699.27 51.81V66.91M706.07 51.75V64.68M707.8 57.89V61.85M703.49 51.57V53.58M707.71 57.8V64.23M602.67 54.6V68.76M600.52 53.27V56.28M589.86 53.44V60.95M589.19 54.51V56.79M602.2 54.12V59.48M595.67 57.43V62.26M602.35 55.01V61.54M594.47 52.11V57.21M587.66 52.02V64.24M587.45 54.84V65.26M595.13 53.96V60.25M595.11 56.71V58.89M595.21 53.49V56.72M599.45 55.05V62.09M599.2 57.47V62.62M596.25 55.03V61.23M658.16 61.62V68.17M654.08 65.53V75.35M661.65 65.54V68.62M655.63 65.55V78.84M647.61 58.97V64.1M646.38 59.93V62.01M657.72 64.27V79.15M647.93 63.73V72.7M647.72 65.06V82.04M649.17 65.62V70.16M654.26 65.92V79.01M648.07 61.45V67.71M651.44 59.57V63.19M658.72 58.16V65.07M653.37 58.14V61.9M612.24 71.22V73.29M615.85 76.19V93.3M607.05 66.78V68.81M613.79 66.87V69.14M610.22 78.41V91.14M608.59 64.69V80.21M611.71 74.61V76.74M606.58 74.39V79.28M630.58 108.77V117.21M636.41 91.67V105.4M630.53 107.26V112.55M632.71 101.06V116.8M632.14 92.58V99.03M631.91 92.19V94.61" stroke="#111" stroke-width="0.9" fill="none"/>
<rect x="434.3" y="291.4" width="8.85" height="57.2" fill="#bebebe"/>
<rect x="443" y="291.4" width="7.35" height="57.2" fill="#000000"/>
<rect x="450.2" y="291.4" width="15.95" height="57.2" fill="#bebebe"/>
<rect x="466" y="291.4" width="4.15" height="57.2" fill="#40e0d0"/>
<rect x="470" y="291.4" width="3.65" height="57.2" fill="#bebebe"/>
<rect x="473.5" y="291.4" width="2.65" height="57.2" fill="#40e0d0"/>
<rect x="476" y="291.4" width="3.65" height="57.2" fill="#bebebe"/>
<rect x="479.5" y="291.4" width="95.85" height="57.2" fill="#40e0d0"/>
<rect x="575.2" y="291.4" width="6.95" height="57.2" fill="#ffc0cb"/>
<rect x="582" y="291.4" width="26.15" height="57.2" fill="#bebebe"/>
<rect x="608" y="291.4" width="13.75" height="57.2" fill="#a52a2a"/>
<rect x="621.6" y="291.4" width="19.15" height="57.2" fill="#0000ff"/>
<rect x="640.6" y="291.4" width="20.55" height="57.2" fill="#bebebe"/>
<rect x="661" y="291.4" width="6.45" height="57.2" fill="#ff00ff"/>
<rect x="667.3" y="291.4" width="9.15" height="57.2" fill="#bebebe"/>
<rect x="676.3" y="291.4" width="9.75" height="57.2" fill="#00ff00"/>
<rect x="685.9" y="291.4" width="11.25" height="57.2" fill="#ffff00"/>
<rect x="697" y="291.4" width="2.15" height="57.2" fill="#bebebe"/>
<rect x="699" y="291.4" width="6.85" height="57.2" fill="#ff0000"/>
<rect x="705.7" y="291.4" width="4.95" height="57.2" fill="#a020f0"/>
<path d="M434.3 291.4H710.5M434.3 348.6H710.5" stroke="#555" stroke-width="0.7"/>
<text class="S" x="408" y="321.8" font-size="7.2" text-anchor="middle" fill="#333">Module colors</text>
<text class="Rb" x="12" y="407.3" font-size="25">C</text>
<rect x="47.8" y="419.5" width="71.9" height="149.7" fill="#ebebeb"/>
<path d="M47.8 419.5V569.2M51.39 419.5V569.2M54.99 419.5V569.2M58.58 419.5V569.2M62.18 419.5V569.2M65.78 419.5V569.2M69.37 419.5V569.2M72.97 419.5V569.2M76.56 419.5V569.2M80.16 419.5V569.2M83.75 419.5V569.2M87.34 419.5V569.2M90.94 419.5V569.2M94.53 419.5V569.2M98.13 419.5V569.2M101.72 419.5V569.2M105.32 419.5V569.2M108.92 419.5V569.2M112.51 419.5V569.2M116.11 419.5V569.2M119.7 419.5V569.2M47.8 422.5H119.7M47.8 428H119.7M47.8 433.5H119.7M47.8 439H119.7M47.8 444.5H119.7M47.8 450H119.7M47.8 455.5H119.7M47.8 461H119.7M47.8 466.5H119.7M47.8 472H119.7M47.8 477.5H119.7M47.8 483H119.7M47.8 488.5H119.7M47.8 494H119.7M47.8 499.5H119.7M47.8 505H119.7M47.8 510.5H119.7M47.8 516H119.7M47.8 521.5H119.7M47.8 527H119.7M47.8 532.5H119.7M47.8 538H119.7M47.8 543.5H119.7M47.8 549H119.7M47.8 554.5H119.7M47.8 560H119.7M47.8 565.5H119.7" stroke="#fafafa" stroke-width="0.6" fill="none"/>
<path d="M47.8 563.7 L47.8 472.46 L54.63 472.46 L54.63 459.58 L82.31 452.73 L82.31 445.88 L104.6 440.4 L104.6 429.44 L112.51 429.44 L112.51 425.33 L119.7 425.33 L119.7 563.7Z" fill="#ffc0cb"/>
<line x1="45.6" y1="563.7" x2="47.8" y2="563.7" stroke="#444" stroke-width="0.6"/>
<text class="S" x="44.2" y="565.8" font-size="6.2" text-anchor="end" fill="#3a3a3a">0.0</text>
<line x1="45.6" y1="536.3" x2="47.8" y2="536.3" stroke="#444" stroke-width="0.6"/>
<text class="S" x="44.2" y="538.4" font-size="6.2" text-anchor="end" fill="#3a3a3a">0.1</text>
<line x1="45.6" y1="508.9" x2="47.8" y2="508.9" stroke="#444" stroke-width="0.6"/>
<text class="S" x="44.2" y="511" font-size="6.2" text-anchor="end" fill="#3a3a3a">0.2</text>
<line x1="45.6" y1="481.5" x2="47.8" y2="481.5" stroke="#444" stroke-width="0.6"/>
<text class="S" x="44.2" y="483.6" font-size="6.2" text-anchor="end" fill="#3a3a3a">0.3</text>
<line x1="45.6" y1="454.1" x2="47.8" y2="454.1" stroke="#444" stroke-width="0.6"/>
<text class="S" x="44.2" y="456.2" font-size="6.2" text-anchor="end" fill="#3a3a3a">0.4</text>
<line x1="45.6" y1="426.7" x2="47.8" y2="426.7" stroke="#444" stroke-width="0.6"/>
<text class="S" x="44.2" y="428.8" font-size="6.2" text-anchor="end" fill="#3a3a3a">0.5</text>
<text class="Sb" x="83.75" y="414.5" font-size="9.4" text-anchor="middle" fill="#111">pink</text>
<text class="Sb" x="31.3" y="494.85" font-size="7.8" text-anchor="middle" fill="#111" transform="rotate(-90 31.3 494.85)">kME</text>
<text class="Sb" x="148.7" y="469.9" font-size="2.8" text-anchor="middle" fill="#555">GENE1</text>
<text class="Sb" x="148.7" y="475.62" font-size="2.8" text-anchor="middle" fill="#555">ABC12</text>
<text class="Sb" x="148.7" y="481.34" font-size="2.8" text-anchor="middle" fill="#555">XYZ3</text>
<text class="Sb" x="148.7" y="487.06" font-size="2.8" text-anchor="middle" fill="#555">LOC10</text>
<text class="Sb" x="148.7" y="492.78" font-size="2.8" text-anchor="middle" fill="#555">RPL5</text>
<text class="Sb" x="148.7" y="498.5" font-size="2.8" text-anchor="middle" fill="#555">MT1X</text>
<text class="Sb" x="148.7" y="504.22" font-size="2.8" text-anchor="middle" fill="#555">CD74</text>
<text class="Sb" x="148.7" y="509.94" font-size="2.8" text-anchor="middle" fill="#555">HLA-B</text>
<text class="Sb" x="148.7" y="515.66" font-size="2.8" text-anchor="middle" fill="#555">ACTG1</text>
<text class="Sb" x="148.7" y="521.38" font-size="2.8" text-anchor="middle" fill="#555">NEAT1</text>
<rect x="198" y="419.5" width="71.9" height="149.7" fill="#ebebeb"/>
<path d="M198 419.5V569.2M201.59 419.5V569.2M205.19 419.5V569.2M208.78 419.5V569.2M212.38 419.5V569.2M215.97 419.5V569.2M219.57 419.5V569.2M223.16 419.5V569.2M226.76 419.5V569.2M230.35 419.5V569.2M233.95 419.5V569.2M237.54 419.5V569.2M241.14 419.5V569.2M244.73 419.5V569.2M248.33 419.5V569.2M251.92 419.5V569.2M255.52 419.5V569.2M259.12 419.5V569.2M262.71 419.5V569.2M266.3 419.5V569.2M269.9 419.5V569.2M198 422.5H269.9M198 428H269.9M198 433.5H269.9M198 439H269.9M198 444.5H269.9M198 450H269.9M198 455.5H269.9M198 461H269.9M198 466.5H269.9M198 472H269.9M198 477.5H269.9M198 483H269.9M198 488.5H269.9M198 494H269.9M198 499.5H269.9M198 505H269.9M198 510.5H269.9M198 516H269.9M198 521.5H269.9M198 527H269.9M198 532.5H269.9M198 538H269.9M198 543.5H269.9M198 549H269.9M198 554.5H269.9M198 560H269.9M198 565.5H269.9" stroke="#fafafa" stroke-width="0.6" fill="none"/>
<path d="M198 563.7 L198 450.92 L254.08 444.05 L254.08 438.49 L261.99 438.49 L261.99 426.43 L269.9 426.43 L269.9 563.7Z" fill="#40e0d0"/>
<line x1="195.8" y1="563.7" x2="198" y2="563.7" stroke="#444" stroke-width="0.6"/>
<text class="S" x="194.4" y="565.8" font-size="6.2" text-anchor="end" fill="#3a3a3a">0.0</text>
<line x1="195.8" y1="526.6" x2="198" y2="526.6" stroke="#444" stroke-width="0.6"/>
<text class="S" x="194.4" y="528.7" font-size="6.2" text-anchor="end" fill="#3a3a3a">0.2</text>
<line x1="195.8" y1="489.5" x2="198" y2="489.5" stroke="#444" stroke-width="0.6"/>
<text class="S" x="194.4" y="491.6" font-size="6.2" text-anchor="end" fill="#3a3a3a">0.4</text>
<line x1="195.8" y1="452.4" x2="198" y2="452.4" stroke="#444" stroke-width="0.6"/>
<text class="S" x="194.4" y="454.5" font-size="6.2" text-anchor="end" fill="#3a3a3a">0.6</text>
<text class="Sb" x="233.95" y="414.5" font-size="9.4" text-anchor="middle" fill="#111">turquoise</text>
<text class="Sb" x="181.5" y="494.85" font-size="7.8" text-anchor="middle" fill="#111" transform="rotate(-90 181.5 494.85)">kME</text>
<text class="Sb" x="298.9" y="469.9" font-size="2.8" text-anchor="middle" fill="#555">GENE1</text>
<text class="Sb" x="298.9" y="475.62" font-size="2.8" text-anchor="middle" fill="#555">ABC12</text>
<text class="Sb" x="298.9" y="481.34" font-size="2.8" text-anchor="middle" fill="#555">XYZ3</text>
<text class="Sb" x="298.9" y="487.06" font-size="2.8" text-anchor="middle" fill="#555">LOC10</text>
<text class="Sb" x="298.9" y="492.78" font-size="2.8" text-anchor="middle" fill="#555">RPL5</text>
<text class="Sb" x="298.9" y="498.5" font-size="2.8" text-anchor="middle" fill="#555">MT1X</text>
<text class="Sb" x="298.9" y="504.22" font-size="2.8" text-anchor="middle" fill="#555">CD74</text>
<text class="Sb" x="298.9" y="509.94" font-size="2.8" text-anchor="middle" fill="#555">HLA-B</text>
<text class="Sb" x="298.9" y="515.66" font-size="2.8" text-anchor="middle" fill="#555">ACTG1</text>
<text class="Sb" x="298.9" y="521.38" font-size="2.8" text-anchor="middle" fill="#555">NEAT1</text>
<rect x="347.8" y="419.5" width="71.9" height="149.7" fill="#ebebeb"/>
<path d="M347.8 419.5V569.2M351.4 419.5V569.2M354.99 419.5V569.2M358.59 419.5V569.2M362.18 419.5V569.2M365.78 419.5V569.2M369.37 419.5V569.2M372.97 419.5V569.2M376.56 419.5V569.2M380.16 419.5V569.2M383.75 419.5V569.2M387.35 419.5V569.2M390.94 419.5V569.2M394.54 419.5V569.2M398.13 419.5V569.2M401.73 419.5V569.2M405.32 419.5V569.2M408.92 419.5V569.2M412.51 419.5V569.2M416.11 419.5V569.2M419.7 419.5V569.2M347.8 422.5H419.7M347.8 428H419.7M347.8 433.5H419.7M347.8 439H419.7M347.8 444.5H419.7M347.8 450H419.7M347.8 455.5H419.7M347.8 461H419.7M347.8 466.5H419.7M347.8 472H419.7M347.8 477.5H419.7M347.8 483H419.7M347.8 488.5H419.7M347.8 494H419.7M347.8 499.5H419.7M347.8 505H419.7M347.8 510.5H419.7M347.8 516H419.7M347.8 521.5H419.7M347.8 527H419.7M347.8 532.5H419.7M347.8 538H419.7M347.8 543.5H419.7M347.8 549H419.7M347.8 554.5H419.7M347.8 560H419.7M347.8 565.5H419.7" stroke="#fafafa" stroke-width="0.6" fill="none"/>
<path d="M347.8 563.7 L347.8 441.72 L362.18 441.72 L362.18 438.3 L369.37 438.3 L369.37 434.42 L383.75 433.74 L383.75 430.32 L398.13 429.18 L398.13 426.9 L419.7 425.3 L419.7 563.7Z" fill="#000000"/>
<line x1="345.6" y1="563.7" x2="347.8" y2="563.7" stroke="#444" stroke-width="0.6"/>
<text class="S" x="344.2" y="565.8" font-size="6.2" text-anchor="end" fill="#3a3a3a">0.0</text>
<line x1="345.6" y1="518.1" x2="347.8" y2="518.1" stroke="#444" stroke-width="0.6"/>
<text class="S" x="344.2" y="520.2" font-size="6.2" text-anchor="end" fill="#3a3a3a">0.2</text>
<line x1="345.6" y1="472.5" x2="347.8" y2="472.5" stroke="#444" stroke-width="0.6"/>
<text class="S" x="344.2" y="474.6" font-size="6.2" text-anchor="end" fill="#3a3a3a">0.4</text>
<line x1="345.6" y1="426.9" x2="347.8" y2="426.9" stroke="#444" stroke-width="0.6"/>
<text class="S" x="344.2" y="429" font-size="6.2" text-anchor="end" fill="#3a3a3a">0.6</text>
<text class="Sb" x="383.75" y="414.5" font-size="9.4" text-anchor="middle" fill="#111">black</text>
<text class="Sb" x="331.3" y="494.85" font-size="7.8" text-anchor="middle" fill="#111" transform="rotate(-90 331.3 494.85)">kME</text>
<text class="Sb" x="448.7" y="469.9" font-size="2.8" text-anchor="middle" fill="#555">GENE1</text>
<text class="Sb" x="448.7" y="475.62" font-size="2.8" text-anchor="middle" fill="#555">ABC12</text>
<text class="Sb" x="448.7" y="481.34" font-size="2.8" text-anchor="middle" fill="#555">XYZ3</text>
<text class="Sb" x="448.7" y="487.06" font-size="2.8" text-anchor="middle" fill="#555">LOC10</text>
<text class="Sb" x="448.7" y="492.78" font-size="2.8" text-anchor="middle" fill="#555">RPL5</text>
<text class="Sb" x="448.7" y="498.5" font-size="2.8" text-anchor="middle" fill="#555">MT1X</text>
<text class="Sb" x="448.7" y="504.22" font-size="2.8" text-anchor="middle" fill="#555">CD74</text>
<text class="Sb" x="448.7" y="509.94" font-size="2.8" text-anchor="middle" fill="#555">HLA-B</text>
<text class="Sb" x="448.7" y="515.66" font-size="2.8" text-anchor="middle" fill="#555">ACTG1</text>
<text class="Sb" x="448.7" y="521.38" font-size="2.8" text-anchor="middle" fill="#555">NEAT1</text>
<rect x="497.9" y="419.5" width="71.9" height="149.7" fill="#ebebeb"/>
<path d="M497.9 419.5V569.2M501.5 419.5V569.2M505.09 419.5V569.2M508.68 419.5V569.2M512.28 419.5V569.2M515.88 419.5V569.2M519.47 419.5V569.2M523.06 419.5V569.2M526.66 419.5V569.2M530.25 419.5V569.2M533.85 419.5V569.2M537.44 419.5V569.2M541.04 419.5V569.2M544.63 419.5V569.2M548.23 419.5V569.2M551.82 419.5V569.2M555.42 419.5V569.2M559.01 419.5V569.2M562.61 419.5V569.2M566.2 419.5V569.2M569.8 419.5V569.2M497.9 422.5H569.8M497.9 428H569.8M497.9 433.5H569.8M497.9 439H569.8M497.9 444.5H569.8M497.9 450H569.8M497.9 455.5H569.8M497.9 461H569.8M497.9 466.5H569.8M497.9 472H569.8M497.9 477.5H569.8M497.9 483H569.8M497.9 488.5H569.8M497.9 494H569.8M497.9 499.5H569.8M497.9 505H569.8M497.9 510.5H569.8M497.9 516H569.8M497.9 521.5H569.8M497.9 527H569.8M497.9 532.5H569.8M497.9 538H569.8M497.9 543.5H569.8M497.9 549H569.8M497.9 554.5H569.8M497.9 560H569.8M497.9 565.5H569.8" stroke="#fafafa" stroke-width="0.6" fill="none"/>
<path d="M497.9 563.7 L497.9 454.74 L561.89 436.58 L561.89 425.23 L569.8 425.23 L569.8 563.7Z" fill="#ffff00"/>
<line x1="495.7" y1="563.7" x2="497.9" y2="563.7" stroke="#444" stroke-width="0.6"/>
<text class="S" x="494.3" y="565.8" font-size="6.2" text-anchor="end" fill="#3a3a3a">0.0</text>
<line x1="495.7" y1="518.3" x2="497.9" y2="518.3" stroke="#444" stroke-width="0.6"/>
<text class="S" x="494.3" y="520.4" font-size="6.2" text-anchor="end" fill="#3a3a3a">0.2</text>
<line x1="495.7" y1="472.9" x2="497.9" y2="472.9" stroke="#444" stroke-width="0.6"/>
<text class="S" x="494.3" y="475" font-size="6.2" text-anchor="end" fill="#3a3a3a">0.4</text>
<line x1="495.7" y1="427.5" x2="497.9" y2="427.5" stroke="#444" stroke-width="0.6"/>
<text class="S" x="494.3" y="429.6" font-size="6.2" text-anchor="end" fill="#3a3a3a">0.6</text>
<text class="Sb" x="533.85" y="414.5" font-size="9.4" text-anchor="middle" fill="#111">yellow</text>
<text class="Sb" x="481.4" y="494.85" font-size="7.8" text-anchor="middle" fill="#111" transform="rotate(-90 481.4 494.85)">kME</text>
<text class="Sb" x="598.8" y="469.9" font-size="2.8" text-anchor="middle" fill="#555">GENE1</text>
<text class="Sb" x="598.8" y="475.62" font-size="2.8" text-anchor="middle" fill="#555">ABC12</text>
<text class="Sb" x="598.8" y="481.34" font-size="2.8" text-anchor="middle" fill="#555">XYZ3</text>
<text class="Sb" x="598.8" y="487.06" font-size="2.8" text-anchor="middle" fill="#555">LOC10</text>
<text class="Sb" x="598.8" y="492.78" font-size="2.8" text-anchor="middle" fill="#555">RPL5</text>
<text class="Sb" x="598.8" y="498.5" font-size="2.8" text-anchor="middle" fill="#555">MT1X</text>
<text class="Sb" x="598.8" y="504.22" font-size="2.8" text-anchor="middle" fill="#555">CD74</text>
<text class="Sb" x="598.8" y="509.94" font-size="2.8" text-anchor="middle" fill="#555">HLA-B</text>
<text class="Sb" x="598.8" y="515.66" font-size="2.8" text-anchor="middle" fill="#555">ACTG1</text>
<text class="Sb" x="598.8" y="521.38" font-size="2.8" text-anchor="middle" fill="#555">NEAT1</text>
<rect x="648" y="419.5" width="71.9" height="149.7" fill="#ebebeb"/>
<path d="M648 419.5V569.2M651.6 419.5V569.2M655.19 419.5V569.2M658.78 419.5V569.2M662.38 419.5V569.2M665.98 419.5V569.2M669.57 419.5V569.2M673.16 419.5V569.2M676.76 419.5V569.2M680.36 419.5V569.2M683.95 419.5V569.2M687.54 419.5V569.2M691.14 419.5V569.2M694.74 419.5V569.2M698.33 419.5V569.2M701.92 419.5V569.2M705.52 419.5V569.2M709.12 419.5V569.2M712.71 419.5V569.2M716.3 419.5V569.2M719.9 419.5V569.2M648 422.5H719.9M648 428H719.9M648 433.5H719.9M648 439H719.9M648 444.5H719.9M648 450H719.9M648 455.5H719.9M648 461H719.9M648 466.5H719.9M648 472H719.9M648 477.5H719.9M648 483H719.9M648 488.5H719.9M648 494H719.9M648 499.5H719.9M648 505H719.9M648 510.5H719.9M648 516H719.9M648 521.5H719.9M648 527H719.9M648 532.5H719.9M648 538H719.9M648 543.5H719.9M648 549H719.9M648 554.5H719.9M648 560H719.9M648 565.5H719.9" stroke="#fafafa" stroke-width="0.6" fill="none"/>
<path d="M648 563.7 L648 462.34 L655.19 462.34 L655.19 460.53 L662.38 460.53 L662.38 458.72 L676.04 458.72 L676.04 451.48 L683.95 451.48 L683.95 446.05 L697.61 446.05 L697.61 440.62 L712.71 440.62 L712.71 426.14 L719.9 426.14 L719.9 563.7Z" fill="#a020f0"/>
<line x1="645.8" y1="563.7" x2="648" y2="563.7" stroke="#444" stroke-width="0.6"/>
<text class="S" x="644.4" y="565.8" font-size="6.2" text-anchor="end" fill="#3a3a3a">0.0</text>
<line x1="645.8" y1="527.5" x2="648" y2="527.5" stroke="#444" stroke-width="0.6"/>
<text class="S" x="644.4" y="529.6" font-size="6.2" text-anchor="end" fill="#3a3a3a">0.1</text>
<line x1="645.8" y1="491.3" x2="648" y2="491.3" stroke="#444" stroke-width="0.6"/>
<text class="S" x="644.4" y="493.4" font-size="6.2" text-anchor="end" fill="#3a3a3a">0.2</text>
<line x1="645.8" y1="455.1" x2="648" y2="455.1" stroke="#444" stroke-width="0.6"/>
<text class="S" x="644.4" y="457.2" font-size="6.2" text-anchor="end" fill="#3a3a3a">0.3</text>
<line x1="645.8" y1="418.9" x2="648" y2="418.9" stroke="#444" stroke-width="0.6"/>
<text class="S" x="644.4" y="421" font-size="6.2" text-anchor="end" fill="#3a3a3a">0.4</text>
<text class="Sb" x="683.95" y="414.5" font-size="9.4" text-anchor="middle" fill="#111">purple</text>
<text class="Sb" x="631.5" y="494.85" font-size="7.8" text-anchor="middle" fill="#111" transform="rotate(-90 631.5 494.85)">kME</text>
<text class="Sb" x="748.9" y="469.9" font-size="2.8" text-anchor="middle" fill="#555">GENE1</text>
<text class="Sb" x="748.9" y="475.62" font-size="2.8" text-anchor="middle" fill="#555">ABC12</text>
<text class="Sb" x="748.9" y="481.34" font-size="2.8" text-anchor="middle" fill="#555">XYZ3</text>
<text class="Sb" x="748.9" y="487.06" font-size="2.8" text-anchor="middle" fill="#555">LOC10</text>
<text class="Sb" x="748.9" y="492.78" font-size="2.8" text-anchor="middle" fill="#555">RPL5</text>
<text class="Sb" x="748.9" y="498.5" font-size="2.8" text-anchor="middle" fill="#555">MT1X</text>
<text class="Sb" x="748.9" y="504.22" font-size="2.8" text-anchor="middle" fill="#555">CD74</text>
<text class="Sb" x="748.9" y="509.94" font-size="2.8" text-anchor="middle" fill="#555">HLA-B</text>
<text class="Sb" x="748.9" y="515.66" font-size="2.8" text-anchor="middle" fill="#555">ACTG1</text>
<text class="Sb" x="748.9" y="521.38" font-size="2.8" text-anchor="middle" fill="#555">NEAT1</text>
<rect x="47.8" y="592.2" width="71.9" height="150.3" fill="#ebebeb"/>
<path d="M47.8 592.2V742.5M51.39 592.2V742.5M54.99 592.2V742.5M58.58 592.2V742.5M62.18 592.2V742.5M65.78 592.2V742.5M69.37 592.2V742.5M72.97 592.2V742.5M76.56 592.2V742.5M80.16 592.2V742.5M83.75 592.2V742.5M87.34 592.2V742.5M90.94 592.2V742.5M94.53 592.2V742.5M98.13 592.2V742.5M101.72 592.2V742.5M105.32 592.2V742.5M108.92 592.2V742.5M112.51 592.2V742.5M116.11 592.2V742.5M119.7 592.2V742.5M47.8 595.2H119.7M47.8 600.7H119.7M47.8 606.2H119.7M47.8 611.7H119.7M47.8 617.2H119.7M47.8 622.7H119.7M47.8 628.2H119.7M47.8 633.7H119.7M47.8 639.2H119.7M47.8 644.7H119.7M47.8 650.2H119.7M47.8 655.7H119.7M47.8 661.2H119.7M47.8 666.7H119.7M47.8 672.2H119.7M47.8 677.7H119.7M47.8 683.2H119.7M47.8 688.7H119.7M47.8 694.2H119.7M47.8 699.7H119.7M47.8 705.2H119.7M47.8 710.7H119.7M47.8 716.2H119.7M47.8 721.7H119.7M47.8 727.2H119.7M47.8 732.7H119.7M47.8 738.2H119.7" stroke="#fafafa" stroke-width="0.6" fill="none"/>
<path d="M47.8 736.9 L47.8 627.91 L54.63 627.91 L54.63 626.61 L111.07 614.93 L111.07 599.37 L119.7 599.37 L119.7 736.9Z" fill="#a52a2a"/>
<line x1="45.6" y1="736.9" x2="47.8" y2="736.9" stroke="#444" stroke-width="0.6"/>
<text class="S" x="44.2" y="739" font-size="6.2" text-anchor="end" fill="#3a3a3a">0.0</text>
<line x1="45.6" y1="685" x2="47.8" y2="685" stroke="#444" stroke-width="0.6"/>
<text class="S" x="44.2" y="687.1" font-size="6.2" text-anchor="end" fill="#3a3a3a">0.2</text>
<line x1="45.6" y1="633.1" x2="47.8" y2="633.1" stroke="#444" stroke-width="0.6"/>
<text class="S" x="44.2" y="635.2" font-size="6.2" text-anchor="end" fill="#3a3a3a">0.4</text>
<text class="Sb" x="83.75" y="587.5" font-size="9.4" text-anchor="middle" fill="#111">brown</text>
<text class="Sb" x="31.3" y="667.85" font-size="7.8" text-anchor="middle" fill="#111" transform="rotate(-90 31.3 667.85)">kME</text>
<text class="Sb" x="148.7" y="642.4" font-size="2.8" text-anchor="middle" fill="#555">GENE1</text>
<text class="Sb" x="148.7" y="648.12" font-size="2.8" text-anchor="middle" fill="#555">ABC12</text>
<text class="Sb" x="148.7" y="653.84" font-size="2.8" text-anchor="middle" fill="#555">XYZ3</text>
<text class="Sb" x="148.7" y="659.56" font-size="2.8" text-anchor="middle" fill="#555">LOC10</text>
<text class="Sb" x="148.7" y="665.28" font-size="2.8" text-anchor="middle" fill="#555">RPL5</text>
<text class="Sb" x="148.7" y="671" font-size="2.8" text-anchor="middle" fill="#555">MT1X</text>
<text class="Sb" x="148.7" y="676.72" font-size="2.8" text-anchor="middle" fill="#555">CD74</text>
<text class="Sb" x="148.7" y="682.44" font-size="2.8" text-anchor="middle" fill="#555">HLA-B</text>
<text class="Sb" x="148.7" y="688.16" font-size="2.8" text-anchor="middle" fill="#555">ACTG1</text>
<text class="Sb" x="148.7" y="693.88" font-size="2.8" text-anchor="middle" fill="#555">NEAT1</text>
<rect x="198" y="592.2" width="71.9" height="150.3" fill="#ebebeb"/>
<path d="M198 592.2V742.5M201.59 592.2V742.5M205.19 592.2V742.5M208.78 592.2V742.5M212.38 592.2V742.5M215.97 592.2V742.5M219.57 592.2V742.5M223.16 592.2V742.5M226.76 592.2V742.5M230.35 592.2V742.5M233.95 592.2V742.5M237.54 592.2V742.5M241.14 592.2V742.5M244.73 592.2V742.5M248.33 592.2V742.5M251.92 592.2V742.5M255.52 592.2V742.5M259.12 592.2V742.5M262.71 592.2V742.5M266.3 592.2V742.5M269.9 592.2V742.5M198 595.2H269.9M198 600.7H269.9M198 606.2H269.9M198 611.7H269.9M198 617.2H269.9M198 622.7H269.9M198 628.2H269.9M198 633.7H269.9M198 639.2H269.9M198 644.7H269.9M198 650.2H269.9M198 655.7H269.9M198 661.2H269.9M198 666.7H269.9M198 672.2H269.9M198 677.7H269.9M198 683.2H269.9M198 688.7H269.9M198 694.2H269.9M198 699.7H269.9M198 705.2H269.9M198 710.7H269.9M198 716.2H269.9M198 721.7H269.9M198 727.2H269.9M198 732.7H269.9M198 738.2H269.9" stroke="#fafafa" stroke-width="0.6" fill="none"/>
<path d="M198 736.9 L198 651.22 L205.19 651.22 L205.19 649.43 L212.38 649.43 L212.38 647.65 L226.76 646.76 L226.76 644.97 L233.95 644.97 L233.95 631.59 L241.14 631.59 L241.14 629.8 L248.33 629.8 L248.33 603.02 L256.24 603.02 L256.24 599.45 L269.9 598.56 L269.9 736.9Z" fill="#00ff00"/>
<line x1="195.8" y1="736.9" x2="198" y2="736.9" stroke="#444" stroke-width="0.6"/>
<text class="S" x="194.4" y="739" font-size="6.2" text-anchor="end" fill="#3a3a3a">0.0</text>
<line x1="195.8" y1="701.2" x2="198" y2="701.2" stroke="#444" stroke-width="0.6"/>
<text class="S" x="194.4" y="703.3" font-size="6.2" text-anchor="end" fill="#3a3a3a">0.2</text>
<line x1="195.8" y1="665.5" x2="198" y2="665.5" stroke="#444" stroke-width="0.6"/>
<text class="S" x="194.4" y="667.6" font-size="6.2" text-anchor="end" fill="#3a3a3a">0.4</text>
<line x1="195.8" y1="629.8" x2="198" y2="629.8" stroke="#444" stroke-width="0.6"/>
<text class="S" x="194.4" y="631.9" font-size="6.2" text-anchor="end" fill="#3a3a3a">0.6</text>
<line x1="195.8" y1="594.1" x2="198" y2="594.1" stroke="#444" stroke-width="0.6"/>
<text class="S" x="194.4" y="596.2" font-size="6.2" text-anchor="end" fill="#3a3a3a">0.8</text>
<text class="Sb" x="233.95" y="587.5" font-size="9.4" text-anchor="middle" fill="#111">green</text>
<text class="Sb" x="181.5" y="667.85" font-size="7.8" text-anchor="middle" fill="#111" transform="rotate(-90 181.5 667.85)">kME</text>
<text class="Sb" x="298.9" y="642.4" font-size="2.8" text-anchor="middle" fill="#555">GENE1</text>
<text class="Sb" x="298.9" y="648.12" font-size="2.8" text-anchor="middle" fill="#555">ABC12</text>
<text class="Sb" x="298.9" y="653.84" font-size="2.8" text-anchor="middle" fill="#555">XYZ3</text>
<text class="Sb" x="298.9" y="659.56" font-size="2.8" text-anchor="middle" fill="#555">LOC10</text>
<text class="Sb" x="298.9" y="665.28" font-size="2.8" text-anchor="middle" fill="#555">RPL5</text>
<text class="Sb" x="298.9" y="671" font-size="2.8" text-anchor="middle" fill="#555">MT1X</text>
<text class="Sb" x="298.9" y="676.72" font-size="2.8" text-anchor="middle" fill="#555">CD74</text>
<text class="Sb" x="298.9" y="682.44" font-size="2.8" text-anchor="middle" fill="#555">HLA-B</text>
<text class="Sb" x="298.9" y="688.16" font-size="2.8" text-anchor="middle" fill="#555">ACTG1</text>
<text class="Sb" x="298.9" y="693.88" font-size="2.8" text-anchor="middle" fill="#555">NEAT1</text>
<rect x="347.8" y="592.2" width="71.9" height="150.3" fill="#ebebeb"/>
<path d="M347.8 592.2V742.5M351.4 592.2V742.5M354.99 592.2V742.5M358.59 592.2V742.5M362.18 592.2V742.5M365.78 592.2V742.5M369.37 592.2V742.5M372.97 592.2V742.5M376.56 592.2V742.5M380.16 592.2V742.5M383.75 592.2V742.5M387.35 592.2V742.5M390.94 592.2V742.5M394.54 592.2V742.5M398.13 592.2V742.5M401.73 592.2V742.5M405.32 592.2V742.5M408.92 592.2V742.5M412.51 592.2V742.5M416.11 592.2V742.5M419.7 592.2V742.5M347.8 595.2H419.7M347.8 600.7H419.7M347.8 606.2H419.7M347.8 611.7H419.7M347.8 617.2H419.7M347.8 622.7H419.7M347.8 628.2H419.7M347.8 633.7H419.7M347.8 639.2H419.7M347.8 644.7H419.7M347.8 650.2H419.7M347.8 655.7H419.7M347.8 661.2H419.7M347.8 666.7H419.7M347.8 672.2H419.7M347.8 677.7H419.7M347.8 683.2H419.7M347.8 688.7H419.7M347.8 694.2H419.7M347.8 699.7H419.7M347.8 705.2H419.7M347.8 710.7H419.7M347.8 716.2H419.7M347.8 721.7H419.7M347.8 727.2H419.7M347.8 732.7H419.7M347.8 738.2H419.7" stroke="#fafafa" stroke-width="0.6" fill="none"/>
<path d="M347.8 736.9 L347.8 625.08 L362.18 625.08 L362.18 624.04 L375.12 623 L375.12 621.95 L383.03 621.95 L383.03 618.81 L390.94 618.81 L390.94 615.68 L398.13 615.68 L398.13 613.59 L405.32 613.59 L405.32 611.5 L411.79 611.5 L411.79 598.96 L419.7 598.96 L419.7 736.9Z" fill="#0000ff"/>
<line x1="345.6" y1="736.9" x2="347.8" y2="736.9" stroke="#444" stroke-width="0.6"/>
<text class="S" x="344.2" y="739" font-size="6.2" text-anchor="end" fill="#3a3a3a">0.0</text>
<line x1="345.6" y1="695.1" x2="347.8" y2="695.1" stroke="#444" stroke-width="0.6"/>
<text class="S" x="344.2" y="697.2" font-size="6.2" text-anchor="end" fill="#3a3a3a">0.2</text>
<line x1="345.6" y1="653.3" x2="347.8" y2="653.3" stroke="#444" stroke-width="0.6"/>
<text class="S" x="344.2" y="655.4" font-size="6.2" text-anchor="end" fill="#3a3a3a">0.4</text>
<line x1="345.6" y1="611.5" x2="347.8" y2="611.5" stroke="#444" stroke-width="0.6"/>
<text class="S" x="344.2" y="613.6" font-size="6.2" text-anchor="end" fill="#3a3a3a">0.6</text>
<text class="Sb" x="383.75" y="587.5" font-size="9.4" text-anchor="middle" fill="#111">blue</text>
<text class="Sb" x="331.3" y="667.85" font-size="7.8" text-anchor="middle" fill="#111" transform="rotate(-90 331.3 667.85)">kME</text>
<text class="Sb" x="448.7" y="642.4" font-size="2.8" text-anchor="middle" fill="#555">GENE1</text>
<text class="Sb" x="448.7" y="648.12" font-size="2.8" text-anchor="middle" fill="#555">ABC12</text>
<text class="Sb" x="448.7" y="653.84" font-size="2.8" text-anchor="middle" fill="#555">XYZ3</text>
<text class="Sb" x="448.7" y="659.56" font-size="2.8" text-anchor="middle" fill="#555">LOC10</text>
<text class="Sb" x="448.7" y="665.28" font-size="2.8" text-anchor="middle" fill="#555">RPL5</text>
<text class="Sb" x="448.7" y="671" font-size="2.8" text-anchor="middle" fill="#555">MT1X</text>
<text class="Sb" x="448.7" y="676.72" font-size="2.8" text-anchor="middle" fill="#555">CD74</text>
<text class="Sb" x="448.7" y="682.44" font-size="2.8" text-anchor="middle" fill="#555">HLA-B</text>
<text class="Sb" x="448.7" y="688.16" font-size="2.8" text-anchor="middle" fill="#555">ACTG1</text>
<text class="Sb" x="448.7" y="693.88" font-size="2.8" text-anchor="middle" fill="#555">NEAT1</text>
<rect x="497.9" y="592.2" width="71.9" height="150.3" fill="#ebebeb"/>
<path d="M497.9 592.2V742.5M501.5 592.2V742.5M505.09 592.2V742.5M508.68 592.2V742.5M512.28 592.2V742.5M515.88 592.2V742.5M519.47 592.2V742.5M523.06 592.2V742.5M526.66 592.2V742.5M530.25 592.2V742.5M533.85 592.2V742.5M537.44 592.2V742.5M541.04 592.2V742.5M544.63 592.2V742.5M548.23 592.2V742.5M551.82 592.2V742.5M555.42 592.2V742.5M559.01 592.2V742.5M562.61 592.2V742.5M566.2 592.2V742.5M569.8 592.2V742.5M497.9 595.2H569.8M497.9 600.7H569.8M497.9 606.2H569.8M497.9 611.7H569.8M497.9 617.2H569.8M497.9 622.7H569.8M497.9 628.2H569.8M497.9 633.7H569.8M497.9 639.2H569.8M497.9 644.7H569.8M497.9 650.2H569.8M497.9 655.7H569.8M497.9 661.2H569.8M497.9 666.7H569.8M497.9 672.2H569.8M497.9 677.7H569.8M497.9 683.2H569.8M497.9 688.7H569.8M497.9 694.2H569.8M497.9 699.7H569.8M497.9 705.2H569.8M497.9 710.7H569.8M497.9 716.2H569.8M497.9 721.7H569.8M497.9 727.2H569.8M497.9 732.7H569.8M497.9 738.2H569.8" stroke="#fafafa" stroke-width="0.6" fill="none"/>
<path d="M497.9 736.9 L497.9 645.57 L512.28 645.57 L512.28 641.36 L518.75 641.36 L518.75 634.34 L525.94 634.34 L525.94 628.71 L540.32 628.71 L540.32 625.9 L548.23 625.9 L548.23 617.48 L555.42 617.48 L555.42 609.04 L562.61 609.04 L562.61 599.21 L569.8 599.21 L569.8 736.9Z" fill="#ff0000"/>
<line x1="495.7" y1="736.9" x2="497.9" y2="736.9" stroke="#444" stroke-width="0.6"/>
<text class="S" x="494.3" y="739" font-size="6.2" text-anchor="end" fill="#3a3a3a">0.0</text>
<line x1="495.7" y1="708.8" x2="497.9" y2="708.8" stroke="#444" stroke-width="0.6"/>
<text class="S" x="494.3" y="710.9" font-size="6.2" text-anchor="end" fill="#3a3a3a">0.1</text>
<line x1="495.7" y1="680.7" x2="497.9" y2="680.7" stroke="#444" stroke-width="0.6"/>
<text class="S" x="494.3" y="682.8" font-size="6.2" text-anchor="end" fill="#3a3a3a">0.2</text>
<line x1="495.7" y1="652.6" x2="497.9" y2="652.6" stroke="#444" stroke-width="0.6"/>
<text class="S" x="494.3" y="654.7" font-size="6.2" text-anchor="end" fill="#3a3a3a">0.3</text>
<line x1="495.7" y1="624.5" x2="497.9" y2="624.5" stroke="#444" stroke-width="0.6"/>
<text class="S" x="494.3" y="626.6" font-size="6.2" text-anchor="end" fill="#3a3a3a">0.4</text>
<line x1="495.7" y1="596.4" x2="497.9" y2="596.4" stroke="#444" stroke-width="0.6"/>
<text class="S" x="494.3" y="598.5" font-size="6.2" text-anchor="end" fill="#3a3a3a">0.5</text>
<text class="Sb" x="533.85" y="587.5" font-size="9.4" text-anchor="middle" fill="#111">red</text>
<text class="Sb" x="481.4" y="667.85" font-size="7.8" text-anchor="middle" fill="#111" transform="rotate(-90 481.4 667.85)">kME</text>
<text class="Sb" x="598.8" y="642.4" font-size="2.8" text-anchor="middle" fill="#555">GENE1</text>
<text class="Sb" x="598.8" y="648.12" font-size="2.8" text-anchor="middle" fill="#555">ABC12</text>
<text class="Sb" x="598.8" y="653.84" font-size="2.8" text-anchor="middle" fill="#555">XYZ3</text>
<text class="Sb" x="598.8" y="659.56" font-size="2.8" text-anchor="middle" fill="#555">LOC10</text>
<text class="Sb" x="598.8" y="665.28" font-size="2.8" text-anchor="middle" fill="#555">RPL5</text>
<text class="Sb" x="598.8" y="671" font-size="2.8" text-anchor="middle" fill="#555">MT1X</text>
<text class="Sb" x="598.8" y="676.72" font-size="2.8" text-anchor="middle" fill="#555">CD74</text>
<text class="Sb" x="598.8" y="682.44" font-size="2.8" text-anchor="middle" fill="#555">HLA-B</text>
<text class="Sb" x="598.8" y="688.16" font-size="2.8" text-anchor="middle" fill="#555">ACTG1</text>
<text class="Sb" x="598.8" y="693.88" font-size="2.8" text-anchor="middle" fill="#555">NEAT1</text>
<rect x="648" y="592.2" width="71.9" height="150.3" fill="#ebebeb"/>
<path d="M648 592.2V742.5M651.6 592.2V742.5M655.19 592.2V742.5M658.78 592.2V742.5M662.38 592.2V742.5M665.98 592.2V742.5M669.57 592.2V742.5M673.16 592.2V742.5M676.76 592.2V742.5M680.36 592.2V742.5M683.95 592.2V742.5M687.54 592.2V742.5M691.14 592.2V742.5M694.74 592.2V742.5M698.33 592.2V742.5M701.92 592.2V742.5M705.52 592.2V742.5M709.12 592.2V742.5M712.71 592.2V742.5M716.3 592.2V742.5M719.9 592.2V742.5M648 595.2H719.9M648 600.7H719.9M648 606.2H719.9M648 611.7H719.9M648 617.2H719.9M648 622.7H719.9M648 628.2H719.9M648 633.7H719.9M648 639.2H719.9M648 644.7H719.9M648 650.2H719.9M648 655.7H719.9M648 661.2H719.9M648 666.7H719.9M648 672.2H719.9M648 677.7H719.9M648 683.2H719.9M648 688.7H719.9M648 694.2H719.9M648 699.7H719.9M648 705.2H719.9M648 710.7H719.9M648 716.2H719.9M648 721.7H719.9M648 727.2H719.9M648 732.7H719.9M648 738.2H719.9" stroke="#fafafa" stroke-width="0.6" fill="none"/>
<path d="M648 736.9 L648 621.4 L669.57 621.4 L669.57 619.48 L691.14 618.7 L691.14 609.85 L705.52 607.92 L705.52 602.15 L712.71 602.15 L712.71 600.23 L719.9 600.23 L719.9 736.9Z" fill="#ff00ff"/>
<line x1="645.8" y1="736.9" x2="648" y2="736.9" stroke="#444" stroke-width="0.6"/>
<text class="S" x="644.4" y="739" font-size="6.2" text-anchor="end" fill="#3a3a3a">0.0</text>
<line x1="645.8" y1="698.4" x2="648" y2="698.4" stroke="#444" stroke-width="0.6"/>
<text class="S" x="644.4" y="700.5" font-size="6.2" text-anchor="end" fill="#3a3a3a">0.1</text>
<line x1="645.8" y1="659.9" x2="648" y2="659.9" stroke="#444" stroke-width="0.6"/>
<text class="S" x="644.4" y="662" font-size="6.2" text-anchor="end" fill="#3a3a3a">0.2</text>
<line x1="645.8" y1="621.4" x2="648" y2="621.4" stroke="#444" stroke-width="0.6"/>
<text class="S" x="644.4" y="623.5" font-size="6.2" text-anchor="end" fill="#3a3a3a">0.3</text>
<text class="Sb" x="683.95" y="587.5" font-size="9.4" text-anchor="middle" fill="#111">magenta</text>
<text class="Sb" x="631.5" y="667.85" font-size="7.8" text-anchor="middle" fill="#111" transform="rotate(-90 631.5 667.85)">kME</text>
<text class="Sb" x="748.9" y="642.4" font-size="2.8" text-anchor="middle" fill="#555">GENE1</text>
<text class="Sb" x="748.9" y="648.12" font-size="2.8" text-anchor="middle" fill="#555">ABC12</text>
<text class="Sb" x="748.9" y="653.84" font-size="2.8" text-anchor="middle" fill="#555">XYZ3</text>
<text class="Sb" x="748.9" y="659.56" font-size="2.8" text-anchor="middle" fill="#555">LOC10</text>
<text class="Sb" x="748.9" y="665.28" font-size="2.8" text-anchor="middle" fill="#555">RPL5</text>
<text class="Sb" x="748.9" y="671" font-size="2.8" text-anchor="middle" fill="#555">MT1X</text>
<text class="Sb" x="748.9" y="676.72" font-size="2.8" text-anchor="middle" fill="#555">CD74</text>
<text class="Sb" x="748.9" y="682.44" font-size="2.8" text-anchor="middle" fill="#555">HLA-B</text>
<text class="Sb" x="748.9" y="688.16" font-size="2.8" text-anchor="middle" fill="#555">ACTG1</text>
<text class="Sb" x="748.9" y="693.88" font-size="2.8" text-anchor="middle" fill="#555">NEAT1</text>
<text class="Sb" x="160.7" y="773.7" font-size="12" text-anchor="middle" fill="#111">magenta</text>
<path d="M146.6 808.9L197 814M146.6 808.9L98.7 824.7M146.6 808.9L240.5 839.2M146.6 808.9L61.5 857.8M146.6 808.9L270.1 879.9M146.6 808.9L40.3 904.1M146.6 808.9L280.5 929.3M146.6 808.9L40.3 954.2M146.6 808.9L270.1 978.5M146.6 808.9L61.5 1000.6M146.6 808.9L240.5 1018.9M146.6 808.9L98.7 1033.7M146.6 808.9L197 1044.4M146.6 808.9L146.6 1049.4M197 814L98.7 824.7M197 814L240.5 839.2M197 814L61.5 857.8M197 814L270.1 879.9M197 814L40.3 904.1M197 814L280.5 929.3M197 814L40.3 954.2M197 814L270.1 978.5M197 814L61.5 1000.6M197 814L240.5 1018.9M197 814L98.7 1033.7M197 814L197 1044.4M197 814L146.6 1049.4M98.7 824.7L240.5 839.2M98.7 824.7L61.5 857.8M98.7 824.7L270.1 879.9M98.7 824.7L40.3 904.1M98.7 824.7L280.5 929.3M98.7 824.7L40.3 954.2M98.7 824.7L270.1 978.5M98.7 824.7L61.5 1000.6M98.7 824.7L240.5 1018.9M98.7 824.7L98.7 1033.7M98.7 824.7L197 1044.4M98.7 824.7L146.6 1049.4M240.5 839.2L61.5 857.8M240.5 839.2L270.1 879.9M240.5 839.2L40.3 904.1M240.5 839.2L280.5 929.3M240.5 839.2L40.3 954.2M240.5 839.2L270.1 978.5M240.5 839.2L61.5 1000.6M240.5 839.2L240.5 1018.9M240.5 839.2L98.7 1033.7M240.5 839.2L197 1044.4M240.5 839.2L146.6 1049.4M61.5 857.8L270.1 879.9M61.5 857.8L40.3 904.1M61.5 857.8L280.5 929.3M61.5 857.8L40.3 954.2M61.5 857.8L270.1 978.5M61.5 857.8L61.5 1000.6M61.5 857.8L240.5 1018.9M61.5 857.8L98.7 1033.7M61.5 857.8L197 1044.4M61.5 857.8L146.6 1049.4M270.1 879.9L40.3 904.1M270.1 879.9L280.5 929.3M270.1 879.9L40.3 954.2M270.1 879.9L270.1 978.5M270.1 879.9L61.5 1000.6M270.1 879.9L240.5 1018.9M270.1 879.9L98.7 1033.7M270.1 879.9L197 1044.4M270.1 879.9L146.6 1049.4M40.3 904.1L280.5 929.3M40.3 904.1L40.3 954.2M40.3 904.1L270.1 978.5M40.3 904.1L61.5 1000.6M40.3 904.1L240.5 1018.9M40.3 904.1L98.7 1033.7M40.3 904.1L197 1044.4M40.3 904.1L146.6 1049.4M280.5 929.3L40.3 954.2M280.5 929.3L270.1 978.5M280.5 929.3L61.5 1000.6M280.5 929.3L240.5 1018.9M280.5 929.3L98.7 1033.7M280.5 929.3L197 1044.4M280.5 929.3L146.6 1049.4M40.3 954.2L270.1 978.5M40.3 954.2L61.5 1000.6M40.3 954.2L240.5 1018.9M40.3 954.2L98.7 1033.7M40.3 954.2L197 1044.4M40.3 954.2L146.6 1049.4M270.1 978.5L61.5 1000.6M270.1 978.5L240.5 1018.9M270.1 978.5L98.7 1033.7M270.1 978.5L197 1044.4M270.1 978.5L146.6 1049.4M61.5 1000.6L240.5 1018.9M61.5 1000.6L98.7 1033.7M61.5 1000.6L197 1044.4M61.5 1000.6L146.6 1049.4M240.5 1018.9L98.7 1033.7M240.5 1018.9L197 1044.4M240.5 1018.9L146.6 1049.4M98.7 1033.7L197 1044.4M98.7 1033.7L146.6 1049.4M197 1044.4L146.6 1049.4" stroke="#e870e8" stroke-opacity="0.2" stroke-width="0.85" fill="none"/>
<path d="M146.6 808.9L140.9 871.7M146.6 808.9L178.1 871.7M146.6 808.9L110.3 894M146.6 808.9L208.7 894M146.6 808.9L98.7 929.3M146.6 808.9L220 929.3M146.6 808.9L110.3 965M146.6 808.9L208.7 965M146.6 808.9L140.9 986.4M146.6 808.9L178.1 986.4M197 814L140.9 871.7M197 814L178.1 871.7M197 814L110.3 894M197 814L208.7 894M197 814L98.7 929.3M197 814L220 929.3M197 814L110.3 965M197 814L208.7 965M197 814L140.9 986.4M197 814L178.1 986.4M98.7 824.7L140.9 871.7M98.7 824.7L178.1 871.7M98.7 824.7L110.3 894M98.7 824.7L208.7 894M98.7 824.7L98.7 929.3M98.7 824.7L220 929.3M98.7 824.7L110.3 965M98.7 824.7L208.7 965M98.7 824.7L140.9 986.4M98.7 824.7L178.1 986.4M240.5 839.2L140.9 871.7M240.5 839.2L178.1 871.7M240.5 839.2L110.3 894M240.5 839.2L208.7 894M240.5 839.2L98.7 929.3M240.5 839.2L220 929.3M240.5 839.2L110.3 965M240.5 839.2L208.7 965M240.5 839.2L140.9 986.4M240.5 839.2L178.1 986.4M61.5 857.8L140.9 871.7M61.5 857.8L178.1 871.7M61.5 857.8L110.3 894M61.5 857.8L208.7 894M61.5 857.8L98.7 929.3M61.5 857.8L220 929.3M61.5 857.8L110.3 965M61.5 857.8L208.7 965M61.5 857.8L140.9 986.4M61.5 857.8L178.1 986.4M140.9 871.7L270.1 879.9M140.9 871.7L40.3 904.1M140.9 871.7L280.5 929.3M140.9 871.7L40.3 954.2M140.9 871.7L270.1 978.5M140.9 871.7L61.5 1000.6M140.9 871.7L240.5 1018.9M140.9 871.7L98.7 1033.7M140.9 871.7L197 1044.4M140.9 871.7L146.6 1049.4M178.1 871.7L270.1 879.9M178.1 871.7L40.3 904.1M178.1 871.7L280.5 929.3M178.1 871.7L40.3 954.2M178.1 871.7L270.1 978.5M178.1 871.7L61.5 1000.6M178.1 871.7L240.5 1018.9M178.1 871.7L98.7 1033.7M178.1 871.7L197 1044.4M178.1 871.7L146.6 1049.4M270.1 879.9L110.3 894M270.1 879.9L208.7 894M270.1 879.9L98.7 929.3M270.1 879.9L220 929.3M270.1 879.9L110.3 965M270.1 879.9L208.7 965M270.1 879.9L140.9 986.4M270.1 879.9L178.1 986.4M110.3 894L40.3 904.1M110.3 894L280.5 929.3M110.3 894L40.3 954.2M110.3 894L270.1 978.5M110.3 894L61.5 1000.6M110.3 894L240.5 1018.9M110.3 894L98.7 1033.7M110.3 894L197 1044.4M110.3 894L146.6 1049.4M208.7 894L40.3 904.1M208.7 894L280.5 929.3M208.7 894L40.3 954.2M208.7 894L270.1 978.5M208.7 894L61.5 1000.6M208.7 894L240.5 1018.9M208.7 894L98.7 1033.7M208.7 894L197 1044.4M208.7 894L146.6 1049.4M40.3 904.1L98.7 929.3M40.3 904.1L220 929.3M40.3 904.1L110.3 965M40.3 904.1L208.7 965M40.3 904.1L140.9 986.4M40.3 904.1L178.1 986.4M98.7 929.3L280.5 929.3M98.7 929.3L40.3 954.2M98.7 929.3L270.1 978.5M98.7 929.3L61.5 1000.6M98.7 929.3L240.5 1018.9M98.7 929.3L98.7 1033.7M98.7 929.3L197 1044.4M98.7 929.3L146.6 1049.4M220 929.3L280.5 929.3M220 929.3L40.3 954.2M220 929.3L270.1 978.5M220 929.3L61.5 1000.6M220 929.3L240.5 1018.9M220 929.3L98.7 1033.7M220 929.3L197 1044.4M220 929.3L146.6 1049.4M280.5 929.3L110.3 965M280.5 929.3L208.7 965M280.5 929.3L140.9 986.4M280.5 929.3L178.1 986.4M40.3 954.2L110.3 965M40.3 954.2L208.7 965M40.3 954.2L140.9 986.4M40.3 954.2L178.1 986.4M110.3 965L270.1 978.5M110.3 965L61.5 1000.6M110.3 965L240.5 1018.9M110.3 965L98.7 1033.7M110.3 965L197 1044.4M110.3 965L146.6 1049.4M208.7 965L270.1 978.5M208.7 965L61.5 1000.6M208.7 965L240.5 1018.9M208.7 965L98.7 1033.7M208.7 965L197 1044.4M208.7 965L146.6 1049.4M270.1 978.5L140.9 986.4M270.1 978.5L178.1 986.4M140.9 986.4L61.5 1000.6M140.9 986.4L240.5 1018.9M140.9 986.4L98.7 1033.7M140.9 986.4L197 1044.4M140.9 986.4L146.6 1049.4M178.1 986.4L61.5 1000.6M178.1 986.4L240.5 1018.9M178.1 986.4L98.7 1033.7M178.1 986.4L197 1044.4M178.1 986.4L146.6 1049.4" stroke="#e870e8" stroke-opacity="0.36" stroke-width="0.85" fill="none"/>
<path d="M140.9 871.7L178.1 871.7M140.9 871.7L110.3 894M140.9 871.7L208.7 894M140.9 871.7L98.7 929.3M140.9 871.7L220 929.3M140.9 871.7L110.3 965M140.9 871.7L208.7 965M140.9 871.7L140.9 986.4M140.9 871.7L178.1 986.4M178.1 871.7L110.3 894M178.1 871.7L208.7 894M178.1 871.7L98.7 929.3M178.1 871.7L220 929.3M178.1 871.7L110.3 965M178.1 871.7L208.7 965M178.1 871.7L140.9 986.4M178.1 871.7L178.1 986.4M110.3 894L208.7 894M110.3 894L98.7 929.3M110.3 894L220 929.3M110.3 894L110.3 965M110.3 894L208.7 965M110.3 894L140.9 986.4M110.3 894L178.1 986.4M208.7 894L98.7 929.3M208.7 894L220 929.3M208.7 894L110.3 965M208.7 894L208.7 965M208.7 894L140.9 986.4M208.7 894L178.1 986.4M98.7 929.3L220 929.3M98.7 929.3L110.3 965M98.7 929.3L208.7 965M98.7 929.3L140.9 986.4M98.7 929.3L178.1 986.4M220 929.3L110.3 965M220 929.3L208.7 965M220 929.3L140.9 986.4M220 929.3L178.1 986.4M110.3 965L208.7 965M110.3 965L140.9 986.4M110.3 965L178.1 986.4M208.7 965L140.9 986.4M208.7 965L178.1 986.4M140.9 986.4L178.1 986.4" stroke="#e870e8" stroke-opacity="0.41" stroke-width="0.85" fill="none"/>
<path d="M146.6 808.9L178.1 871.7M146.6 808.9L208.7 894M146.6 808.9L208.7 965M197 814L110.3 965M197 814L208.7 965M98.7 824.7L98.7 929.3M240.5 839.2L178.1 871.7M240.5 839.2L220 929.3M61.5 857.8L178.1 871.7M140.9 871.7L208.7 894M140.9 871.7L220 929.3M140.9 871.7L110.3 965M140.9 871.7L98.7 1033.7M140.9 871.7L197 1044.4M178.1 871.7L110.3 894M178.1 871.7L178.1 986.4M178.1 871.7L197 1044.4M270.1 879.9L110.3 894M270.1 879.9L208.7 894M270.1 879.9L220 929.3M270.1 879.9L140.9 986.4M110.3 894L40.3 904.1M110.3 894L280.5 929.3M110.3 894L40.3 954.2M110.3 894L178.1 986.4M110.3 894L61.5 1000.6M110.3 894L98.7 1033.7M208.7 894L280.5 929.3M208.7 894L40.3 954.2M208.7 894L240.5 1018.9M40.3 904.1L220 929.3M40.3 904.1L110.3 965M40.3 904.1L178.1 986.4M98.7 929.3L280.5 929.3M98.7 929.3L110.3 965M98.7 929.3L208.7 965M98.7 929.3L197 1044.4M220 929.3L208.7 965M220 929.3L178.1 986.4M220 929.3L146.6 1049.4M280.5 929.3L208.7 965M280.5 929.3L140.9 986.4M40.3 954.2L110.3 965M40.3 954.2L208.7 965M110.3 965L178.1 986.4M110.3 965L240.5 1018.9M208.7 965L270.1 978.5M208.7 965L140.9 986.4M140.9 986.4L178.1 986.4M140.9 986.4L98.7 1033.7" stroke="#8a8a8a" stroke-opacity="0.1" stroke-width="0.6" fill="none"/>
<path d="M146.6 808.9L178.1 871.7M146.6 808.9L110.3 894M146.6 808.9L98.7 929.3M197 814L140.9 871.7M197 814L110.3 894M197 814L208.7 894M197 814L110.3 965M197 814L208.7 965M197 814L140.9 986.4M98.7 824.7L178.1 871.7M98.7 824.7L208.7 894M98.7 824.7L208.7 965M98.7 824.7L140.9 986.4M240.5 839.2L140.9 871.7M240.5 839.2L110.3 894M240.5 839.2L208.7 894M240.5 839.2L98.7 929.3M240.5 839.2L220 929.3M240.5 839.2L110.3 965M240.5 839.2L178.1 986.4M61.5 857.8L140.9 871.7M61.5 857.8L110.3 894M61.5 857.8L98.7 929.3M61.5 857.8L220 929.3M61.5 857.8L140.9 986.4M61.5 857.8L178.1 986.4M140.9 871.7L178.1 871.7M140.9 871.7L110.3 894M140.9 871.7L208.7 894M140.9 871.7L98.7 929.3M140.9 871.7L220 929.3M140.9 871.7L40.3 954.2M140.9 871.7L110.3 965M140.9 871.7L140.9 986.4M140.9 871.7L178.1 986.4M140.9 871.7L61.5 1000.6M140.9 871.7L240.5 1018.9M140.9 871.7L98.7 1033.7M178.1 871.7L270.1 879.9M178.1 871.7L208.7 894M178.1 871.7L40.3 904.1M178.1 871.7L220 929.3M178.1 871.7L110.3 965M178.1 871.7L270.1 978.5M178.1 871.7L61.5 1000.6M178.1 871.7L146.6 1049.4M270.1 879.9L220 929.3M270.1 879.9L140.9 986.4M110.3 894L40.3 904.1M110.3 894L98.7 929.3M110.3 894L208.7 965M110.3 894L270.1 978.5M110.3 894L140.9 986.4M110.3 894L178.1 986.4M110.3 894L146.6 1049.4M208.7 894L40.3 904.1M208.7 894L98.7 929.3M208.7 894L280.5 929.3M208.7 894L110.3 965M208.7 894L270.1 978.5M208.7 894L140.9 986.4M208.7 894L178.1 986.4M208.7 894L98.7 1033.7M208.7 894L146.6 1049.4M40.3 904.1L98.7 929.3M40.3 904.1L220 929.3M40.3 904.1L208.7 965M40.3 904.1L140.9 986.4M98.7 929.3L220 929.3M98.7 929.3L110.3 965M98.7 929.3L208.7 965M98.7 929.3L140.9 986.4M98.7 929.3L98.7 1033.7M220 929.3L208.7 965M220 929.3L140.9 986.4M220 929.3L240.5 1018.9M220 929.3L146.6 1049.4M280.5 929.3L110.3 965M280.5 929.3L208.7 965M280.5 929.3L140.9 986.4M40.3 954.2L110.3 965M40.3 954.2L140.9 986.4M40.3 954.2L178.1 986.4M110.3 965L140.9 986.4M110.3 965L146.6 1049.4M208.7 965L61.5 1000.6M208.7 965L98.7 1033.7M208.7 965L197 1044.4M208.7 965L146.6 1049.4M270.1 978.5L140.9 986.4M270.1 978.5L178.1 986.4M140.9 986.4L61.5 1000.6M140.9 986.4L240.5 1018.9M140.9 986.4L197 1044.4M140.9 986.4L146.6 1049.4M178.1 986.4L98.7 1033.7M178.1 986.4L197 1044.4" stroke="#de5ade" stroke-opacity="0.36" stroke-width="1.1" fill="none"/>
<circle cx="146.6" cy="808.9" r="3.6" fill="#e01ce0" stroke="#5a1a5a" stroke-width="0.7"/>
<circle cx="197" cy="814" r="3.6" fill="#e01ce0" stroke="#5a1a5a" stroke-width="0.7"/>
<circle cx="98.7" cy="824.7" r="3.6" fill="#e01ce0" stroke="#5a1a5a" stroke-width="0.7"/>
<circle cx="240.5" cy="839.2" r="3.6" fill="#e01ce0" stroke="#5a1a5a" stroke-width="0.7"/>
<circle cx="61.5" cy="857.8" r="3.6" fill="#e01ce0" stroke="#5a1a5a" stroke-width="0.7"/>
<circle cx="140.9" cy="871.7" r="3.6" fill="#e01ce0" stroke="#5a1a5a" stroke-width="0.7"/>
<circle cx="178.1" cy="871.7" r="3.6" fill="#e01ce0" stroke="#5a1a5a" stroke-width="0.7"/>
<circle cx="270.1" cy="879.9" r="3.6" fill="#e01ce0" stroke="#5a1a5a" stroke-width="0.7"/>
<circle cx="110.3" cy="894" r="3.6" fill="#e01ce0" stroke="#5a1a5a" stroke-width="0.7"/>
<circle cx="208.7" cy="894" r="3.6" fill="#e01ce0" stroke="#5a1a5a" stroke-width="0.7"/>
<circle cx="40.3" cy="904.1" r="3.6" fill="#e01ce0" stroke="#5a1a5a" stroke-width="0.7"/>
<circle cx="98.7" cy="929.3" r="3.6" fill="#e01ce0" stroke="#5a1a5a" stroke-width="0.7"/>
<circle cx="220" cy="929.3" r="3.6" fill="#e01ce0" stroke="#5a1a5a" stroke-width="0.7"/>
<circle cx="280.5" cy="929.3" r="3.6" fill="#e01ce0" stroke="#5a1a5a" stroke-width="0.7"/>
<circle cx="40.3" cy="954.2" r="3.6" fill="#e01ce0" stroke="#5a1a5a" stroke-width="0.7"/>
<circle cx="110.3" cy="965" r="3.6" fill="#e01ce0" stroke="#5a1a5a" stroke-width="0.7"/>
<circle cx="208.7" cy="965" r="3.6" fill="#e01ce0" stroke="#5a1a5a" stroke-width="0.7"/>
<circle cx="270.1" cy="978.5" r="3.6" fill="#e01ce0" stroke="#5a1a5a" stroke-width="0.7"/>
<circle cx="140.9" cy="986.4" r="3.6" fill="#e01ce0" stroke="#5a1a5a" stroke-width="0.7"/>
<circle cx="178.1" cy="986.4" r="3.6" fill="#e01ce0" stroke="#5a1a5a" stroke-width="0.7"/>
<circle cx="61.5" cy="1000.6" r="3.6" fill="#e01ce0" stroke="#5a1a5a" stroke-width="0.7"/>
<circle cx="240.5" cy="1018.9" r="3.6" fill="#e01ce0" stroke="#5a1a5a" stroke-width="0.7"/>
<circle cx="98.7" cy="1033.7" r="3.6" fill="#e01ce0" stroke="#5a1a5a" stroke-width="0.7"/>
<circle cx="197" cy="1044.4" r="3.6" fill="#e01ce0" stroke="#5a1a5a" stroke-width="0.7"/>
<circle cx="146.6" cy="1049.4" r="3.6" fill="#e01ce0" stroke="#5a1a5a" stroke-width="0.7"/>
<text class="Si" x="154.3" y="806.3" font-size="10.2" text-anchor="middle" fill="#222">HLA−E</text>
<text class="Si" x="204.7" y="811.4" font-size="10.2" text-anchor="middle" fill="#222">PHF21A</text>
<text class="Si" x="106.4" y="822.1" font-size="10.2" text-anchor="middle" fill="#222">GSAP</text>
<text class="Si" x="248.2" y="836.6" font-size="10.2" text-anchor="middle" fill="#222">TNIP1</text>
<text class="Si" x="69.2" y="855.2" font-size="10.2" text-anchor="middle" fill="#222">CYBB</text>
<text class="Si" x="148.6" y="869.1" font-size="10.2" text-anchor="middle" fill="#222">DENND1A</text>
<text class="Si" x="185.8" y="869.1" font-size="10.2" text-anchor="middle" fill="#222">ATG7</text>
<text class="Si" x="277.8" y="877.3" font-size="10.2" text-anchor="middle" fill="#222">ITPR2</text>
<text class="Si" x="118" y="891.4" font-size="10.2" text-anchor="middle" fill="#222">VPS13B</text>
<text class="Si" x="216.4" y="891.4" font-size="10.2" text-anchor="middle" fill="#222">ETV6</text>
<text class="Si" x="48" y="901.5" font-size="10.2" text-anchor="middle" fill="#222">CEP170</text>
<text class="Si" x="106.4" y="926.7" font-size="10.2" text-anchor="middle" fill="#222">SYK</text>
<text class="Si" x="227.7" y="926.7" font-size="10.2" text-anchor="middle" fill="#222">PTPRJ</text>
<text class="Si" x="288.2" y="926.7" font-size="10.2" text-anchor="middle" fill="#222">BACH1</text>
<text class="Si" x="48" y="951.6" font-size="10.2" text-anchor="middle" fill="#222">DENND3</text>
<text class="Si" x="118" y="962.4" font-size="10.2" text-anchor="middle" fill="#222">CCNL1</text>
<text class="Si" x="216.4" y="962.4" font-size="10.2" text-anchor="middle" fill="#222">FYB1</text>
<text class="Si" x="277.8" y="975.9" font-size="10.2" text-anchor="middle" fill="#222">ALPK1</text>
<text class="Si" x="148.6" y="983.8" font-size="10.2" text-anchor="middle" fill="#222">PPP1R15B</text>
<text class="Si" x="185.8" y="983.8" font-size="10.2" text-anchor="middle" fill="#222">VPS8</text>
<text class="Si" x="69.2" y="998" font-size="10.2" text-anchor="middle" fill="#222">TANC2</text>
<text class="Si" x="248.2" y="1016.3" font-size="10.2" text-anchor="middle" fill="#222">AC020916.1</text>
<text class="Si" x="106.4" y="1031.1" font-size="10.2" text-anchor="middle" fill="#222">TLR1</text>
<text class="Si" x="204.7" y="1041.8" font-size="10.2" text-anchor="middle" fill="#222">BOD1L1</text>
<text class="Si" x="154.3" y="1046.8" font-size="10.2" text-anchor="middle" fill="#222">AC007271.1</text>
<text class="Sb" x="535" y="787.2" font-size="12" text-anchor="middle" fill="#111">pink</text>
<path d="M521.3 820.6L569 825.8M521.3 820.6L475.4 835.5M521.3 820.6L610.9 849.3M521.3 820.6L440.2 867M521.3 820.6L639 887.8M521.3 820.6L420.4 910.8M521.3 820.6L649.1 934.9M521.3 820.6L420.4 958.8M521.3 820.6L639 981.7M521.3 820.6L440.2 1002.2M521.3 820.6L610.9 1020M521.3 820.6L475.4 1034.3M521.3 820.6L569 1043.8M521.3 820.6L521.3 1048.4M569 825.8L475.4 835.5M569 825.8L610.9 849.3M569 825.8L440.2 867M569 825.8L639 887.8M569 825.8L420.4 910.8M569 825.8L649.1 934.9M569 825.8L420.4 958.8M569 825.8L639 981.7M569 825.8L440.2 1002.2M569 825.8L610.9 1020M569 825.8L475.4 1034.3M569 825.8L569 1043.8M569 825.8L521.3 1048.4M475.4 835.5L610.9 849.3M475.4 835.5L440.2 867M475.4 835.5L639 887.8M475.4 835.5L420.4 910.8M475.4 835.5L649.1 934.9M475.4 835.5L420.4 958.8M475.4 835.5L639 981.7M475.4 835.5L440.2 1002.2M475.4 835.5L610.9 1020M475.4 835.5L475.4 1034.3M475.4 835.5L569 1043.8M475.4 835.5L521.3 1048.4M610.9 849.3L440.2 867M610.9 849.3L639 887.8M610.9 849.3L420.4 910.8M610.9 849.3L649.1 934.9M610.9 849.3L420.4 958.8M610.9 849.3L639 981.7M610.9 849.3L440.2 1002.2M610.9 849.3L610.9 1020M610.9 849.3L475.4 1034.3M610.9 849.3L569 1043.8M610.9 849.3L521.3 1048.4M440.2 867L639 887.8M440.2 867L420.4 910.8M440.2 867L649.1 934.9M440.2 867L420.4 958.8M440.2 867L639 981.7M440.2 867L440.2 1002.2M440.2 867L610.9 1020M440.2 867L475.4 1034.3M440.2 867L569 1043.8M440.2 867L521.3 1048.4M639 887.8L420.4 910.8M639 887.8L649.1 934.9M639 887.8L420.4 958.8M639 887.8L639 981.7M639 887.8L440.2 1002.2M639 887.8L610.9 1020M639 887.8L475.4 1034.3M639 887.8L569 1043.8M639 887.8L521.3 1048.4M420.4 910.8L649.1 934.9M420.4 910.8L420.4 958.8M420.4 910.8L639 981.7M420.4 910.8L440.2 1002.2M420.4 910.8L610.9 1020M420.4 910.8L475.4 1034.3M420.4 910.8L569 1043.8M420.4 910.8L521.3 1048.4M649.1 934.9L420.4 958.8M649.1 934.9L639 981.7M649.1 934.9L440.2 1002.2M649.1 934.9L610.9 1020M649.1 934.9L475.4 1034.3M649.1 934.9L569 1043.8M649.1 934.9L521.3 1048.4M420.4 958.8L639 981.7M420.4 958.8L440.2 1002.2M420.4 958.8L610.9 1020M420.4 958.8L475.4 1034.3M420.4 958.8L569 1043.8M420.4 958.8L521.3 1048.4M639 981.7L440.2 1002.2M639 981.7L610.9 1020M639 981.7L475.4 1034.3M639 981.7L569 1043.8M639 981.7L521.3 1048.4M440.2 1002.2L610.9 1020M440.2 1002.2L475.4 1034.3M440.2 1002.2L569 1043.8M440.2 1002.2L521.3 1048.4M610.9 1020L475.4 1034.3M610.9 1020L569 1043.8M610.9 1020L521.3 1048.4M475.4 1034.3L569 1043.8M475.4 1034.3L521.3 1048.4M569 1043.8L521.3 1048.4" stroke="#f3b3c0" stroke-opacity="0.09" stroke-width="0.6" fill="none"/>
<path d="M521.3 820.6L515.5 880.2M521.3 820.6L551.3 880.2M521.3 820.6L486.4 901.3M521.3 820.6L580.3 901.3M521.3 820.6L475.4 934.9M521.3 820.6L591 934.9M521.3 820.6L486.4 968.6M521.3 820.6L580.3 968.6M521.3 820.6L515.5 989.4M521.3 820.6L551.3 989.4M569 825.8L515.5 880.2M569 825.8L551.3 880.2M569 825.8L486.4 901.3M569 825.8L580.3 901.3M569 825.8L475.4 934.9M569 825.8L591 934.9M569 825.8L486.4 968.6M569 825.8L580.3 968.6M569 825.8L515.5 989.4M569 825.8L551.3 989.4M475.4 835.5L515.5 880.2M475.4 835.5L551.3 880.2M475.4 835.5L486.4 901.3M475.4 835.5L580.3 901.3M475.4 835.5L475.4 934.9M475.4 835.5L591 934.9M475.4 835.5L486.4 968.6M475.4 835.5L580.3 968.6M475.4 835.5L515.5 989.4M475.4 835.5L551.3 989.4M610.9 849.3L515.5 880.2M610.9 849.3L551.3 880.2M610.9 849.3L486.4 901.3M610.9 849.3L580.3 901.3M610.9 849.3L475.4 934.9M610.9 849.3L591 934.9M610.9 849.3L486.4 968.6M610.9 849.3L580.3 968.6M610.9 849.3L515.5 989.4M610.9 849.3L551.3 989.4M440.2 867L515.5 880.2M440.2 867L551.3 880.2M440.2 867L486.4 901.3M440.2 867L580.3 901.3M440.2 867L475.4 934.9M440.2 867L591 934.9M440.2 867L486.4 968.6M440.2 867L580.3 968.6M440.2 867L515.5 989.4M440.2 867L551.3 989.4M515.5 880.2L639 887.8M515.5 880.2L420.4 910.8M515.5 880.2L649.1 934.9M515.5 880.2L420.4 958.8M515.5 880.2L639 981.7M515.5 880.2L440.2 1002.2M515.5 880.2L610.9 1020M515.5 880.2L475.4 1034.3M515.5 880.2L569 1043.8M515.5 880.2L521.3 1048.4M551.3 880.2L639 887.8M551.3 880.2L420.4 910.8M551.3 880.2L649.1 934.9M551.3 880.2L420.4 958.8M551.3 880.2L639 981.7M551.3 880.2L440.2 1002.2M551.3 880.2L610.9 1020M551.3 880.2L475.4 1034.3M551.3 880.2L569 1043.8M551.3 880.2L521.3 1048.4M639 887.8L486.4 901.3M639 887.8L580.3 901.3M639 887.8L475.4 934.9M639 887.8L591 934.9M639 887.8L486.4 968.6M639 887.8L580.3 968.6M639 887.8L515.5 989.4M639 887.8L551.3 989.4M486.4 901.3L420.4 910.8M486.4 901.3L649.1 934.9M486.4 901.3L420.4 958.8M486.4 901.3L639 981.7M486.4 901.3L440.2 1002.2M486.4 901.3L610.9 1020M486.4 901.3L475.4 1034.3M486.4 901.3L569 1043.8M486.4 901.3L521.3 1048.4M580.3 901.3L420.4 910.8M580.3 901.3L649.1 934.9M580.3 901.3L420.4 958.8M580.3 901.3L639 981.7M580.3 901.3L440.2 1002.2M580.3 901.3L610.9 1020M580.3 901.3L475.4 1034.3M580.3 901.3L569 1043.8M580.3 901.3L521.3 1048.4M420.4 910.8L475.4 934.9M420.4 910.8L591 934.9M420.4 910.8L486.4 968.6M420.4 910.8L580.3 968.6M420.4 910.8L515.5 989.4M420.4 910.8L551.3 989.4M475.4 934.9L649.1 934.9M475.4 934.9L420.4 958.8M475.4 934.9L639 981.7M475.4 934.9L440.2 1002.2M475.4 934.9L610.9 1020M475.4 934.9L475.4 1034.3M475.4 934.9L569 1043.8M475.4 934.9L521.3 1048.4M591 934.9L649.1 934.9M591 934.9L420.4 958.8M591 934.9L639 981.7M591 934.9L440.2 1002.2M591 934.9L610.9 1020M591 934.9L475.4 1034.3M591 934.9L569 1043.8M591 934.9L521.3 1048.4M649.1 934.9L486.4 968.6M649.1 934.9L580.3 968.6M649.1 934.9L515.5 989.4M649.1 934.9L551.3 989.4M420.4 958.8L486.4 968.6M420.4 958.8L580.3 968.6M420.4 958.8L515.5 989.4M420.4 958.8L551.3 989.4M486.4 968.6L639 981.7M486.4 968.6L440.2 1002.2M486.4 968.6L610.9 1020M486.4 968.6L475.4 1034.3M486.4 968.6L569 1043.8M486.4 968.6L521.3 1048.4M580.3 968.6L639 981.7M580.3 968.6L440.2 1002.2M580.3 968.6L610.9 1020M580.3 968.6L475.4 1034.3M580.3 968.6L569 1043.8M580.3 968.6L521.3 1048.4M639 981.7L515.5 989.4M639 981.7L551.3 989.4M515.5 989.4L440.2 1002.2M515.5 989.4L610.9 1020M515.5 989.4L475.4 1034.3M515.5 989.4L569 1043.8M515.5 989.4L521.3 1048.4M551.3 989.4L440.2 1002.2M551.3 989.4L610.9 1020M551.3 989.4L475.4 1034.3M551.3 989.4L569 1043.8M551.3 989.4L521.3 1048.4" stroke="#f3b3c0" stroke-opacity="0.2" stroke-width="0.6" fill="none"/>
<path d="M515.5 880.2L551.3 880.2M515.5 880.2L486.4 901.3M515.5 880.2L580.3 901.3M515.5 880.2L475.4 934.9M515.5 880.2L591 934.9M515.5 880.2L486.4 968.6M515.5 880.2L580.3 968.6M515.5 880.2L515.5 989.4M515.5 880.2L551.3 989.4M551.3 880.2L486.4 901.3M551.3 880.2L580.3 901.3M551.3 880.2L475.4 934.9M551.3 880.2L591 934.9M551.3 880.2L486.4 968.6M551.3 880.2L580.3 968.6M551.3 880.2L515.5 989.4M551.3 880.2L551.3 989.4M486.4 901.3L580.3 901.3M486.4 901.3L475.4 934.9M486.4 901.3L591 934.9M486.4 901.3L486.4 968.6M486.4 901.3L580.3 968.6M486.4 901.3L515.5 989.4M486.4 901.3L551.3 989.4M580.3 901.3L475.4 934.9M580.3 901.3L591 934.9M580.3 901.3L486.4 968.6M580.3 901.3L580.3 968.6M580.3 901.3L515.5 989.4M580.3 901.3L551.3 989.4M475.4 934.9L591 934.9M475.4 934.9L486.4 968.6M475.4 934.9L580.3 968.6M475.4 934.9L515.5 989.4M475.4 934.9L551.3 989.4M591 934.9L486.4 968.6M591 934.9L580.3 968.6M591 934.9L515.5 989.4M591 934.9L551.3 989.4M486.4 968.6L580.3 968.6M486.4 968.6L515.5 989.4M486.4 968.6L551.3 989.4M580.3 968.6L515.5 989.4M580.3 968.6L551.3 989.4M515.5 989.4L551.3 989.4" stroke="#f3b3c0" stroke-opacity="0.23" stroke-width="0.6" fill="none"/>
<circle cx="521.3" cy="820.6" r="3.6" fill="#f2b8c6" stroke="#4a3035" stroke-width="0.7"/>
<circle cx="569" cy="825.8" r="3.6" fill="#f2b8c6" stroke="#4a3035" stroke-width="0.7"/>
<circle cx="475.4" cy="835.5" r="3.6" fill="#f2b8c6" stroke="#4a3035" stroke-width="0.7"/>
<circle cx="610.9" cy="849.3" r="3.6" fill="#f2b8c6" stroke="#4a3035" stroke-width="0.7"/>
<circle cx="440.2" cy="867" r="3.6" fill="#f2b8c6" stroke="#4a3035" stroke-width="0.7"/>
<circle cx="515.5" cy="880.2" r="3.6" fill="#f2b8c6" stroke="#4a3035" stroke-width="0.7"/>
<circle cx="551.3" cy="880.2" r="3.6" fill="#f2b8c6" stroke="#4a3035" stroke-width="0.7"/>
<circle cx="639" cy="887.8" r="3.6" fill="#f2b8c6" stroke="#4a3035" stroke-width="0.7"/>
<circle cx="486.4" cy="901.3" r="3.6" fill="#f2b8c6" stroke="#4a3035" stroke-width="0.7"/>
<circle cx="580.3" cy="901.3" r="3.6" fill="#f2b8c6" stroke="#4a3035" stroke-width="0.7"/>
<circle cx="420.4" cy="910.8" r="3.6" fill="#f2b8c6" stroke="#4a3035" stroke-width="0.7"/>
<circle cx="475.4" cy="934.9" r="3.6" fill="#f2b8c6" stroke="#4a3035" stroke-width="0.7"/>
<circle cx="591" cy="934.9" r="3.6" fill="#f2b8c6" stroke="#4a3035" stroke-width="0.7"/>
<circle cx="649.1" cy="934.9" r="3.6" fill="#f2b8c6" stroke="#4a3035" stroke-width="0.7"/>
<circle cx="420.4" cy="958.8" r="3.6" fill="#f2b8c6" stroke="#4a3035" stroke-width="0.7"/>
<circle cx="486.4" cy="968.6" r="3.6" fill="#f2b8c6" stroke="#4a3035" stroke-width="0.7"/>
<circle cx="580.3" cy="968.6" r="3.6" fill="#f2b8c6" stroke="#4a3035" stroke-width="0.7"/>
<circle cx="639" cy="981.7" r="3.6" fill="#f2b8c6" stroke="#4a3035" stroke-width="0.7"/>
<circle cx="515.5" cy="989.4" r="3.6" fill="#f2b8c6" stroke="#4a3035" stroke-width="0.7"/>
<circle cx="551.3" cy="989.4" r="3.6" fill="#f2b8c6" stroke="#4a3035" stroke-width="0.7"/>
<circle cx="440.2" cy="1002.2" r="3.6" fill="#f2b8c6" stroke="#4a3035" stroke-width="0.7"/>
<circle cx="610.9" cy="1020" r="3.6" fill="#f2b8c6" stroke="#4a3035" stroke-width="0.7"/>
<circle cx="475.4" cy="1034.3" r="3.6" fill="#f2b8c6" stroke="#4a3035" stroke-width="0.7"/>
<circle cx="569" cy="1043.8" r="3.6" fill="#f2b8c6" stroke="#4a3035" stroke-width="0.7"/>
<circle cx="521.3" cy="1048.4" r="3.6" fill="#f2b8c6" stroke="#4a3035" stroke-width="0.7"/>
<text class="Si" x="529" y="818" font-size="10.2" text-anchor="middle" fill="#222">NOP10</text>
<text class="Si" x="576.7" y="823.2" font-size="10.2" text-anchor="middle" fill="#222">BRI3</text>
<text class="Si" x="483.1" y="832.9" font-size="10.2" text-anchor="middle" fill="#222">TPI1</text>
<text class="Si" x="618.6" y="846.7" font-size="10.2" text-anchor="middle" fill="#222">ATP6V1G1</text>
<text class="Si" x="447.9" y="864.4" font-size="10.2" text-anchor="middle" fill="#222">RNASEK</text>
<text class="Si" x="523.2" y="877.6" font-size="10.2" text-anchor="middle" fill="#222">IFIT2</text>
<text class="Si" x="559" y="877.6" font-size="10.2" text-anchor="middle" fill="#222">RSAD2</text>
<text class="Si" x="646.7" y="885.2" font-size="10.2" text-anchor="middle" fill="#222">CLEC2B</text>
<text class="Si" x="494.1" y="898.7" font-size="10.2" text-anchor="middle" fill="#222">B2M</text>
<text class="Si" x="588" y="898.7" font-size="10.2" text-anchor="middle" fill="#222">IFIT3</text>
<text class="Si" x="428.1" y="908.2" font-size="10.2" text-anchor="middle" fill="#222">IFI30</text>
<text class="Si" x="483.1" y="932.3" font-size="10.2" text-anchor="middle" fill="#222">MX1</text>
<text class="Si" x="598.7" y="932.3" font-size="10.2" text-anchor="middle" fill="#222">ISG15</text>
<text class="Si" x="656.8" y="932.3" font-size="10.2" text-anchor="middle" fill="#222">ISG20</text>
<text class="Si" x="428.1" y="956.2" font-size="10.2" text-anchor="middle" fill="#222">MAP1LC3B</text>
<text class="Si" x="494.1" y="966" font-size="10.2" text-anchor="middle" fill="#222">C15orf48</text>
<text class="Si" x="588" y="966" font-size="10.2" text-anchor="middle" fill="#222">EIF1</text>
<text class="Si" x="646.7" y="979.1" font-size="10.2" text-anchor="middle" fill="#222">DDX60</text>
<text class="Si" x="523.2" y="986.8" font-size="10.2" text-anchor="middle" fill="#222">HERC5</text>
<text class="Si" x="559" y="986.8" font-size="10.2" text-anchor="middle" fill="#222">IFIT1</text>
<text class="Si" x="447.9" y="999.6" font-size="10.2" text-anchor="middle" fill="#222">EIF2AK2</text>
<text class="Si" x="618.6" y="1017.4" font-size="10.2" text-anchor="middle" fill="#222">P4HA1</text>
<text class="Si" x="483.1" y="1031.7" font-size="10.2" text-anchor="middle" fill="#222">IFI44L</text>
<text class="Si" x="576.7" y="1041.2" font-size="10.2" text-anchor="middle" fill="#222">IFI16</text>
<text class="Si" x="529" y="1045.8" font-size="10.2" text-anchor="middle" fill="#222">FTL</text>
<text class="Rb" x="764.5" y="31.5" font-size="25">D</text>
<rect x="784.3" y="65.7" width="417" height="60" rx="10" ry="10" fill="none" stroke="#4d88c4" stroke-width="2.3" stroke-dasharray="11.7,9.5" stroke-dashoffset="15.4"/>
<rect x="784.3" y="356.5" width="417" height="60" rx="10" ry="10" fill="none" stroke="#4d88c4" stroke-width="2.3" stroke-dasharray="11.7,9.5" stroke-dashoffset="15.4"/>
<rect x="784.3" y="446.4" width="417" height="60" rx="10" ry="10" fill="none" stroke="#4d88c4" stroke-width="2.3" stroke-dasharray="11.7,9.5" stroke-dashoffset="15.4"/>
<rect x="784.3" y="931" width="417" height="60" rx="10" ry="10" fill="none" stroke="#4d88c4" stroke-width="2.3" stroke-dasharray="11.7,9.5" stroke-dashoffset="15.4"/>
<path d="M875.9 36.2V1020.3H1200" stroke="#222" stroke-width="1.9" fill="none"/>
<line x1="870.8" y1="94.9" x2="875.9" y2="94.9" stroke="#222" stroke-width="1.6"/>
<text class="Rb" x="865.5" y="100.5" font-size="17.4" text-anchor="end" fill="#111">magenta</text>
<line x1="870.8" y1="191.35" x2="875.9" y2="191.35" stroke="#222" stroke-width="1.6"/>
<text class="Rb" x="865.5" y="196.95" font-size="17.4" text-anchor="end" fill="#111">red</text>
<line x1="870.8" y1="287.8" x2="875.9" y2="287.8" stroke="#222" stroke-width="1.6"/>
<text class="Rb" x="865.5" y="293.4" font-size="17.4" text-anchor="end" fill="#111">blue</text>
<line x1="870.8" y1="384.25" x2="875.9" y2="384.25" stroke="#222" stroke-width="1.6"/>
<text class="Rb" x="865.5" y="389.85" font-size="17.4" text-anchor="end" fill="#111">green</text>
<line x1="870.8" y1="480.7" x2="875.9" y2="480.7" stroke="#222" stroke-width="1.6"/>
<text class="Rb" x="865.5" y="486.3" font-size="17.4" text-anchor="end" fill="#111">brown</text>
<line x1="870.8" y1="577.15" x2="875.9" y2="577.15" stroke="#222" stroke-width="1.6"/>
<text class="Rb" x="865.5" y="582.75" font-size="17.4" text-anchor="end" fill="#111">purple</text>
<line x1="870.8" y1="673.6" x2="875.9" y2="673.6" stroke="#222" stroke-width="1.6"/>
<text class="Rb" x="865.5" y="679.2" font-size="17.4" text-anchor="end" fill="#111">yellow</text>
<line x1="870.8" y1="770.05" x2="875.9" y2="770.05" stroke="#222" stroke-width="1.6"/>
<text class="Rb" x="865.5" y="775.65" font-size="17.4" text-anchor="end" fill="#111">black</text>
<line x1="870.8" y1="866.5" x2="875.9" y2="866.5" stroke="#222" stroke-width="1.6"/>
<text class="Rb" x="865.5" y="872.1" font-size="17.4" text-anchor="end" fill="#111">turquoise</text>
<line x1="870.8" y1="962.95" x2="875.9" y2="962.95" stroke="#222" stroke-width="1.6"/>
<text class="Rb" x="865.5" y="968.55" font-size="17.4" text-anchor="end" fill="#111">pink</text>
<line x1="936.2" y1="1020.3" x2="936.2" y2="1025.5" stroke="#222" stroke-width="1.6"/>
<line x1="1037.7" y1="1020.3" x2="1037.7" y2="1025.5" stroke="#222" stroke-width="1.6"/>
<line x1="1139.3" y1="1020.3" x2="1139.3" y2="1025.5" stroke="#222" stroke-width="1.6"/>
<text class="Rb" x="944.2" y="1039" font-size="17.4" text-anchor="end" fill="#111" transform="rotate(-45 944.2 1039)">HAS</text>
<text class="Rb" x="1045.7" y="1039" font-size="17.4" text-anchor="end" fill="#111" transform="rotate(-45 1045.7 1039)">DTAS</text>
<text class="Rb" x="1147.3" y="1039" font-size="17.4" text-anchor="end" fill="#111" transform="rotate(-45 1147.3 1039)">LAS</text>
<circle cx="936.2" cy="94.9" r="8.6" fill="#dde8f3"/>
<circle cx="1037.7" cy="94.9" r="10.6" fill="#3f87c5"/>
<circle cx="1139.3" cy="94.9" r="7.3" fill="#c2d9ec"/>
<circle cx="936.2" cy="191.35" r="3.4" fill="#c0d3e5"/>
<circle cx="1037.7" cy="191.35" r="9.6" fill="#3f87c5"/>
<circle cx="1139.3" cy="191.35" r="0.9" fill="#e8eff7"/>
<circle cx="1037.7" cy="287.8" r="10.6" fill="#5592cb"/>
<circle cx="1139.3" cy="287.8" r="10.4" fill="#b0cfe7"/>
<circle cx="936.2" cy="384.25" r="9.2" fill="#bcd2ea"/>
<circle cx="1037.7" cy="384.25" r="10.6" fill="#9cbbdb"/>
<circle cx="1139.3" cy="384.25" r="9" fill="#a8cbe5"/>
<circle cx="936.2" cy="480.7" r="8.4" fill="#bcd6ea"/>
<circle cx="1037.7" cy="480.7" r="10.6" fill="#3f8bc9"/>
<circle cx="1139.3" cy="480.7" r="7.8" fill="#e3ecf6"/>
<circle cx="936.2" cy="577.15" r="4.5" fill="#e4edf6"/>
<circle cx="1037.7" cy="577.15" r="10.3" fill="#3d8ac8"/>
<circle cx="1139.3" cy="577.15" r="0.8" fill="#e8eff7"/>
<circle cx="936.2" cy="673.6" r="8" fill="#f3f7fb"/>
<circle cx="1037.7" cy="673.6" r="10.4" fill="#4a90cc"/>
<circle cx="1139.3" cy="673.6" r="10.4" fill="#b3d3ea"/>
<circle cx="1037.7" cy="770.05" r="10.4" fill="#4a90cc"/>
<circle cx="1139.3" cy="770.05" r="10.1" fill="#b3d3ea"/>
<circle cx="1037.7" cy="866.5" r="7.9" fill="#4a90cc"/>
<circle cx="1139.3" cy="866.5" r="2.1" fill="#a0c4e0"/>
<circle cx="936.2" cy="962.95" r="10.4" fill="#b5d4ea"/>
<circle cx="1037.7" cy="962.95" r="10.4" fill="#4a8fcc"/>
<text class="Rb" x="1221.6" y="400.6" font-size="20.8" fill="#111">Average Expression</text>
<defs><linearGradient id="avg" x1="0" y1="0" x2="0" y2="1"><stop offset="0" stop-color="#4a90c8"/><stop offset="0.48" stop-color="#ffffff"/><stop offset="1" stop-color="#7fb8de"/></linearGradient></defs>
<rect x="1221" y="413.2" width="22.9" height="114.6" fill="url(#avg)"/>
<line x1="1221" y1="418" x2="1225" y2="418" stroke="#fff" stroke-width="0.8"/>
<line x1="1240" y1="418" x2="1243.9" y2="418" stroke="#fff" stroke-width="0.8"/>
<text class="Rb" x="1255.3" y="427" font-size="16" fill="#111">1.0</text>
<line x1="1221" y1="442.8" x2="1225" y2="442.8" stroke="#fff" stroke-width="0.8"/>
<line x1="1240" y1="442.8" x2="1243.9" y2="442.8" stroke="#fff" stroke-width="0.8"/>
<text class="Rb" x="1255.3" y="451.8" font-size="16" fill="#111">0.5</text>
<line x1="1221" y1="467.6" x2="1225" y2="467.6" stroke="#fff" stroke-width="0.8"/>
<line x1="1240" y1="467.6" x2="1243.9" y2="467.6" stroke="#fff" stroke-width="0.8"/>
<text class="Rb" x="1255.3" y="476.6" font-size="16" fill="#111">0.0</text>
<line x1="1221" y1="492.4" x2="1225" y2="492.4" stroke="#fff" stroke-width="0.8"/>
<line x1="1240" y1="492.4" x2="1243.9" y2="492.4" stroke="#fff" stroke-width="0.8"/>
<text class="Rb" x="1255.3" y="501.5" font-size="16" fill="#111">-0.5</text>
<line x1="1221" y1="517.2" x2="1225" y2="517.2" stroke="#fff" stroke-width="0.8"/>
<line x1="1240" y1="517.2" x2="1243.9" y2="517.2" stroke="#fff" stroke-width="0.8"/>
<text class="Rb" x="1255.3" y="526.3" font-size="16" fill="#111">-1.0</text>
<text class="Rb" x="1222.3" y="565.8" font-size="20.6" fill="#111">Percent Expressed</text>
<circle cx="1234.2" cy="590.6" r="2.3" fill="#000"/>
<text class="Rb" x="1257.6" y="596.4" font-size="16" fill="#111">97</text>
<circle cx="1234.2" cy="613.1" r="4.4" fill="#000"/>
<text class="Rb" x="1257.6" y="619" font-size="16" fill="#111">98</text>
<circle cx="1234.2" cy="635.9" r="7.3" fill="#000"/>
<text class="Rb" x="1257.6" y="641.7" font-size="16" fill="#111">99</text>
<circle cx="1234.2" cy="660.7" r="9.6" fill="#000"/>
<text class="Rb" x="1257.6" y="666.6" font-size="16" fill="#111">100</text>
<text class="Sb" x="1396.3" y="29.7" font-size="12" text-anchor="middle" fill="#111">brown</text>
<path d="M1383 63.7L1431.7 68.5M1383 63.7L1336.3 78.7M1383 63.7L1474.2 92.8M1383 63.7L1300.1 111M1383 63.7L1502.5 132.5M1383 63.7L1280.3 155.1M1383 63.7L1512.7 179.7M1383 63.7L1280.3 203.8M1383 63.7L1502.5 227.3M1383 63.7L1300.1 249.1M1383 63.7L1474.2 266.6M1383 63.7L1336.3 281.6M1383 63.7L1431.7 291M1383 63.7L1383 296.6M1431.7 68.5L1336.3 78.7M1431.7 68.5L1474.2 92.8M1431.7 68.5L1300.1 111M1431.7 68.5L1502.5 132.5M1431.7 68.5L1280.3 155.1M1431.7 68.5L1512.7 179.7M1431.7 68.5L1280.3 203.8M1431.7 68.5L1502.5 227.3M1431.7 68.5L1300.1 249.1M1431.7 68.5L1474.2 266.6M1431.7 68.5L1336.3 281.6M1431.7 68.5L1431.7 291M1431.7 68.5L1383 296.6M1336.3 78.7L1474.2 92.8M1336.3 78.7L1300.1 111M1336.3 78.7L1502.5 132.5M1336.3 78.7L1280.3 155.1M1336.3 78.7L1512.7 179.7M1336.3 78.7L1280.3 203.8M1336.3 78.7L1502.5 227.3M1336.3 78.7L1300.1 249.1M1336.3 78.7L1474.2 266.6M1336.3 78.7L1336.3 281.6M1336.3 78.7L1431.7 291M1336.3 78.7L1383 296.6M1474.2 92.8L1300.1 111M1474.2 92.8L1502.5 132.5M1474.2 92.8L1280.3 155.1M1474.2 92.8L1512.7 179.7M1474.2 92.8L1280.3 203.8M1474.2 92.8L1502.5 227.3M1474.2 92.8L1300.1 249.1M1474.2 92.8L1474.2 266.6M1474.2 92.8L1336.3 281.6M1474.2 92.8L1431.7 291M1474.2 92.8L1383 296.6M1300.1 111L1502.5 132.5M1300.1 111L1280.3 155.1M1300.1 111L1512.7 179.7M1300.1 111L1280.3 203.8M1300.1 111L1502.5 227.3M1300.1 111L1300.1 249.1M1300.1 111L1474.2 266.6M1300.1 111L1336.3 281.6M1300.1 111L1431.7 291M1300.1 111L1383 296.6M1502.5 132.5L1280.3 155.1M1502.5 132.5L1512.7 179.7M1502.5 132.5L1280.3 203.8M1502.5 132.5L1502.5 227.3M1502.5 132.5L1300.1 249.1M1502.5 132.5L1474.2 266.6M1502.5 132.5L1336.3 281.6M1502.5 132.5L1431.7 291M1502.5 132.5L1383 296.6M1280.3 155.1L1512.7 179.7M1280.3 155.1L1280.3 203.8M1280.3 155.1L1502.5 227.3M1280.3 155.1L1300.1 249.1M1280.3 155.1L1474.2 266.6M1280.3 155.1L1336.3 281.6M1280.3 155.1L1431.7 291M1280.3 155.1L1383 296.6M1512.7 179.7L1280.3 203.8M1512.7 179.7L1502.5 227.3M1512.7 179.7L1300.1 249.1M1512.7 179.7L1474.2 266.6M1512.7 179.7L1336.3 281.6M1512.7 179.7L1431.7 291M1512.7 179.7L1383 296.6M1280.3 203.8L1502.5 227.3M1280.3 203.8L1300.1 249.1M1280.3 203.8L1474.2 266.6M1280.3 203.8L1336.3 281.6M1280.3 203.8L1431.7 291M1280.3 203.8L1383 296.6M1502.5 227.3L1300.1 249.1M1502.5 227.3L1474.2 266.6M1502.5 227.3L1336.3 281.6M1502.5 227.3L1431.7 291M1502.5 227.3L1383 296.6M1300.1 249.1L1474.2 266.6M1300.1 249.1L1336.3 281.6M1300.1 249.1L1431.7 291M1300.1 249.1L1383 296.6M1474.2 266.6L1336.3 281.6M1474.2 266.6L1431.7 291M1474.2 266.6L1383 296.6M1336.3 281.6L1431.7 291M1336.3 281.6L1383 296.6M1431.7 291L1383 296.6" stroke="#d27474" stroke-opacity="0.14" stroke-width="0.75" fill="none"/>
<path d="M1383 63.7L1377.4 124M1383 63.7L1413.3 124M1383 63.7L1347.6 145.8M1383 63.7L1442.5 145.8M1383 63.7L1336.3 179.7M1383 63.7L1453.8 179.7M1383 63.7L1347.6 214.5M1383 63.7L1442.5 214.5M1383 63.7L1377.4 234.9M1383 63.7L1413.3 234.9M1431.7 68.5L1377.4 124M1431.7 68.5L1413.3 124M1431.7 68.5L1347.6 145.8M1431.7 68.5L1442.5 145.8M1431.7 68.5L1336.3 179.7M1431.7 68.5L1453.8 179.7M1431.7 68.5L1347.6 214.5M1431.7 68.5L1442.5 214.5M1431.7 68.5L1377.4 234.9M1431.7 68.5L1413.3 234.9M1336.3 78.7L1377.4 124M1336.3 78.7L1413.3 124M1336.3 78.7L1347.6 145.8M1336.3 78.7L1442.5 145.8M1336.3 78.7L1336.3 179.7M1336.3 78.7L1453.8 179.7M1336.3 78.7L1347.6 214.5M1336.3 78.7L1442.5 214.5M1336.3 78.7L1377.4 234.9M1336.3 78.7L1413.3 234.9M1474.2 92.8L1377.4 124M1474.2 92.8L1413.3 124M1474.2 92.8L1347.6 145.8M1474.2 92.8L1442.5 145.8M1474.2 92.8L1336.3 179.7M1474.2 92.8L1453.8 179.7M1474.2 92.8L1347.6 214.5M1474.2 92.8L1442.5 214.5M1474.2 92.8L1377.4 234.9M1474.2 92.8L1413.3 234.9M1300.1 111L1377.4 124M1300.1 111L1413.3 124M1300.1 111L1347.6 145.8M1300.1 111L1442.5 145.8M1300.1 111L1336.3 179.7M1300.1 111L1453.8 179.7M1300.1 111L1347.6 214.5M1300.1 111L1442.5 214.5M1300.1 111L1377.4 234.9M1300.1 111L1413.3 234.9M1377.4 124L1502.5 132.5M1377.4 124L1280.3 155.1M1377.4 124L1512.7 179.7M1377.4 124L1280.3 203.8M1377.4 124L1502.5 227.3M1377.4 124L1300.1 249.1M1377.4 124L1474.2 266.6M1377.4 124L1336.3 281.6M1377.4 124L1431.7 291M1377.4 124L1383 296.6M1413.3 124L1502.5 132.5M1413.3 124L1280.3 155.1M1413.3 124L1512.7 179.7M1413.3 124L1280.3 203.8M1413.3 124L1502.5 227.3M1413.3 124L1300.1 249.1M1413.3 124L1474.2 266.6M1413.3 124L1336.3 281.6M1413.3 124L1431.7 291M1413.3 124L1383 296.6M1502.5 132.5L1347.6 145.8M1502.5 132.5L1442.5 145.8M1502.5 132.5L1336.3 179.7M1502.5 132.5L1453.8 179.7M1502.5 132.5L1347.6 214.5M1502.5 132.5L1442.5 214.5M1502.5 132.5L1377.4 234.9M1502.5 132.5L1413.3 234.9M1347.6 145.8L1280.3 155.1M1347.6 145.8L1512.7 179.7M1347.6 145.8L1280.3 203.8M1347.6 145.8L1502.5 227.3M1347.6 145.8L1300.1 249.1M1347.6 145.8L1474.2 266.6M1347.6 145.8L1336.3 281.6M1347.6 145.8L1431.7 291M1347.6 145.8L1383 296.6M1442.5 145.8L1280.3 155.1M1442.5 145.8L1512.7 179.7M1442.5 145.8L1280.3 203.8M1442.5 145.8L1502.5 227.3M1442.5 145.8L1300.1 249.1M1442.5 145.8L1474.2 266.6M1442.5 145.8L1336.3 281.6M1442.5 145.8L1431.7 291M1442.5 145.8L1383 296.6M1280.3 155.1L1336.3 179.7M1280.3 155.1L1453.8 179.7M1280.3 155.1L1347.6 214.5M1280.3 155.1L1442.5 214.5M1280.3 155.1L1377.4 234.9M1280.3 155.1L1413.3 234.9M1336.3 179.7L1512.7 179.7M1336.3 179.7L1280.3 203.8M1336.3 179.7L1502.5 227.3M1336.3 179.7L1300.1 249.1M1336.3 179.7L1474.2 266.6M1336.3 179.7L1336.3 281.6M1336.3 179.7L1431.7 291M1336.3 179.7L1383 296.6M1453.8 179.7L1512.7 179.7M1453.8 179.7L1280.3 203.8M1453.8 179.7L1502.5 227.3M1453.8 179.7L1300.1 249.1M1453.8 179.7L1474.2 266.6M1453.8 179.7L1336.3 281.6M1453.8 179.7L1431.7 291M1453.8 179.7L1383 296.6M1512.7 179.7L1347.6 214.5M1512.7 179.7L1442.5 214.5M1512.7 179.7L1377.4 234.9M1512.7 179.7L1413.3 234.9M1280.3 203.8L1347.6 214.5M1280.3 203.8L1442.5 214.5M1280.3 203.8L1377.4 234.9M1280.3 203.8L1413.3 234.9M1347.6 214.5L1502.5 227.3M1347.6 214.5L1300.1 249.1M1347.6 214.5L1474.2 266.6M1347.6 214.5L1336.3 281.6M1347.6 214.5L1431.7 291M1347.6 214.5L1383 296.6M1442.5 214.5L1502.5 227.3M1442.5 214.5L1300.1 249.1M1442.5 214.5L1474.2 266.6M1442.5 214.5L1336.3 281.6M1442.5 214.5L1431.7 291M1442.5 214.5L1383 296.6M1502.5 227.3L1377.4 234.9M1502.5 227.3L1413.3 234.9M1377.4 234.9L1300.1 249.1M1377.4 234.9L1474.2 266.6M1377.4 234.9L1336.3 281.6M1377.4 234.9L1431.7 291M1377.4 234.9L1383 296.6M1413.3 234.9L1300.1 249.1M1413.3 234.9L1474.2 266.6M1413.3 234.9L1336.3 281.6M1413.3 234.9L1431.7 291M1413.3 234.9L1383 296.6" stroke="#d27474" stroke-opacity="0.3" stroke-width="0.75" fill="none"/>
<path d="M1377.4 124L1413.3 124M1377.4 124L1347.6 145.8M1377.4 124L1442.5 145.8M1377.4 124L1336.3 179.7M1377.4 124L1453.8 179.7M1377.4 124L1347.6 214.5M1377.4 124L1442.5 214.5M1377.4 124L1377.4 234.9M1377.4 124L1413.3 234.9M1413.3 124L1347.6 145.8M1413.3 124L1442.5 145.8M1413.3 124L1336.3 179.7M1413.3 124L1453.8 179.7M1413.3 124L1347.6 214.5M1413.3 124L1442.5 214.5M1413.3 124L1377.4 234.9M1413.3 124L1413.3 234.9M1347.6 145.8L1442.5 145.8M1347.6 145.8L1336.3 179.7M1347.6 145.8L1453.8 179.7M1347.6 145.8L1347.6 214.5M1347.6 145.8L1442.5 214.5M1347.6 145.8L1377.4 234.9M1347.6 145.8L1413.3 234.9M1442.5 145.8L1336.3 179.7M1442.5 145.8L1453.8 179.7M1442.5 145.8L1347.6 214.5M1442.5 145.8L1442.5 214.5M1442.5 145.8L1377.4 234.9M1442.5 145.8L1413.3 234.9M1336.3 179.7L1453.8 179.7M1336.3 179.7L1347.6 214.5M1336.3 179.7L1442.5 214.5M1336.3 179.7L1377.4 234.9M1336.3 179.7L1413.3 234.9M1453.8 179.7L1347.6 214.5M1453.8 179.7L1442.5 214.5M1453.8 179.7L1377.4 234.9M1453.8 179.7L1413.3 234.9M1347.6 214.5L1442.5 214.5M1347.6 214.5L1377.4 234.9M1347.6 214.5L1413.3 234.9M1442.5 214.5L1377.4 234.9M1442.5 214.5L1413.3 234.9M1377.4 234.9L1413.3 234.9" stroke="#d27474" stroke-opacity="0.34" stroke-width="0.75" fill="none"/>
<path d="M1383 63.7L1453.8 179.7M1383 63.7L1377.4 234.9M1383 63.7L1413.3 234.9M1431.7 68.5L1413.3 124M1431.7 68.5L1413.3 234.9M1336.3 78.7L1347.6 214.5M1336.3 78.7L1377.4 234.9M1474.2 92.8L1377.4 124M1474.2 92.8L1413.3 234.9M1300.1 111L1347.6 145.8M1300.1 111L1442.5 145.8M1300.1 111L1377.4 234.9M1377.4 124L1413.3 124M1377.4 124L1442.5 145.8M1377.4 124L1280.3 203.8M1377.4 124L1442.5 214.5M1377.4 124L1377.4 234.9M1413.3 124L1442.5 145.8M1413.3 124L1336.3 179.7M1413.3 124L1377.4 234.9M1413.3 124L1413.3 234.9M1442.5 145.8L1280.3 155.1M1442.5 145.8L1502.5 227.3M1280.3 155.1L1453.8 179.7M1280.3 155.1L1442.5 214.5M1280.3 155.1L1413.3 234.9M1336.3 179.7L1453.8 179.7M1336.3 179.7L1512.7 179.7M1336.3 179.7L1280.3 203.8M1336.3 179.7L1413.3 234.9M1336.3 179.7L1474.2 266.6M1336.3 179.7L1431.7 291M1453.8 179.7L1512.7 179.7M1453.8 179.7L1442.5 214.5M1453.8 179.7L1377.4 234.9M1280.3 203.8L1347.6 214.5M1280.3 203.8L1442.5 214.5M1280.3 203.8L1413.3 234.9M1347.6 214.5L1442.5 214.5M1347.6 214.5L1336.3 281.6M1442.5 214.5L1474.2 266.6M1442.5 214.5L1431.7 291M1502.5 227.3L1413.3 234.9M1377.4 234.9L1474.2 266.6M1377.4 234.9L1336.3 281.6M1377.4 234.9L1431.7 291M1413.3 234.9L1300.1 249.1" stroke="#8a8a8a" stroke-opacity="0.18" stroke-width="0.6" fill="none"/>
<path d="M1383 63.7L1442.5 145.8M1383 63.7L1377.4 234.9M1431.7 68.5L1336.3 179.7M1431.7 68.5L1453.8 179.7M1431.7 68.5L1347.6 214.5M1431.7 68.5L1442.5 214.5M1336.3 78.7L1377.4 124M1336.3 78.7L1442.5 145.8M1336.3 78.7L1453.8 179.7M1336.3 78.7L1347.6 214.5M1336.3 78.7L1377.4 234.9M1336.3 78.7L1413.3 234.9M1474.2 92.8L1413.3 124M1474.2 92.8L1336.3 179.7M1474.2 92.8L1413.3 234.9M1300.1 111L1377.4 124M1300.1 111L1413.3 124M1300.1 111L1347.6 145.8M1300.1 111L1336.3 179.7M1300.1 111L1442.5 214.5M1300.1 111L1413.3 234.9M1377.4 124L1347.6 145.8M1377.4 124L1442.5 145.8M1377.4 124L1512.7 179.7M1377.4 124L1347.6 214.5M1377.4 124L1442.5 214.5M1377.4 124L1502.5 227.3M1377.4 124L1413.3 234.9M1377.4 124L1300.1 249.1M1377.4 124L1474.2 266.6M1413.3 124L1512.7 179.7M1413.3 124L1280.3 203.8M1413.3 124L1347.6 214.5M1413.3 124L1442.5 214.5M1413.3 124L1502.5 227.3M1413.3 124L1474.2 266.6M1502.5 132.5L1336.3 179.7M1502.5 132.5L1453.8 179.7M1502.5 132.5L1442.5 214.5M1502.5 132.5L1377.4 234.9M1502.5 132.5L1413.3 234.9M1347.6 145.8L1442.5 145.8M1347.6 145.8L1347.6 214.5M1347.6 145.8L1502.5 227.3M1347.6 145.8L1300.1 249.1M1347.6 145.8L1474.2 266.6M1347.6 145.8L1336.3 281.6M1347.6 145.8L1431.7 291M1347.6 145.8L1383 296.6M1442.5 145.8L1453.8 179.7M1442.5 145.8L1512.7 179.7M1442.5 145.8L1347.6 214.5M1442.5 145.8L1377.4 234.9M1442.5 145.8L1413.3 234.9M1280.3 155.1L1336.3 179.7M1280.3 155.1L1453.8 179.7M1280.3 155.1L1347.6 214.5M1280.3 155.1L1413.3 234.9M1336.3 179.7L1453.8 179.7M1336.3 179.7L1512.7 179.7M1336.3 179.7L1280.3 203.8M1336.3 179.7L1347.6 214.5M1336.3 179.7L1442.5 214.5M1336.3 179.7L1502.5 227.3M1336.3 179.7L1413.3 234.9M1336.3 179.7L1300.1 249.1M1336.3 179.7L1474.2 266.6M1336.3 179.7L1431.7 291M1453.8 179.7L1347.6 214.5M1453.8 179.7L1442.5 214.5M1453.8 179.7L1502.5 227.3M1453.8 179.7L1336.3 281.6M1453.8 179.7L1431.7 291M1512.7 179.7L1442.5 214.5M1280.3 203.8L1347.6 214.5M1280.3 203.8L1442.5 214.5M1280.3 203.8L1413.3 234.9M1347.6 214.5L1502.5 227.3M1347.6 214.5L1377.4 234.9M1347.6 214.5L1300.1 249.1M1347.6 214.5L1474.2 266.6M1347.6 214.5L1336.3 281.6M1347.6 214.5L1431.7 291M1347.6 214.5L1383 296.6M1442.5 214.5L1377.4 234.9M1377.4 234.9L1300.1 249.1M1377.4 234.9L1474.2 266.6M1377.4 234.9L1336.3 281.6M1377.4 234.9L1431.7 291M1377.4 234.9L1383 296.6M1413.3 234.9L1474.2 266.6M1413.3 234.9L1336.3 281.6" stroke="#c05858" stroke-opacity="0.3" stroke-width="0.98" fill="none"/>
<circle cx="1383" cy="63.7" r="3.6" fill="#8b1e23" stroke="#3a0a0a" stroke-width="0.7"/>
<circle cx="1431.7" cy="68.5" r="3.6" fill="#8b1e23" stroke="#3a0a0a" stroke-width="0.7"/>
<circle cx="1336.3" cy="78.7" r="3.6" fill="#8b1e23" stroke="#3a0a0a" stroke-width="0.7"/>
<circle cx="1474.2" cy="92.8" r="3.6" fill="#8b1e23" stroke="#3a0a0a" stroke-width="0.7"/>
<circle cx="1300.1" cy="111" r="3.6" fill="#8b1e23" stroke="#3a0a0a" stroke-width="0.7"/>
<circle cx="1377.4" cy="124" r="3.6" fill="#8b1e23" stroke="#3a0a0a" stroke-width="0.7"/>
<circle cx="1413.3" cy="124" r="3.6" fill="#8b1e23" stroke="#3a0a0a" stroke-width="0.7"/>
<circle cx="1502.5" cy="132.5" r="3.6" fill="#8b1e23" stroke="#3a0a0a" stroke-width="0.7"/>
<circle cx="1347.6" cy="145.8" r="3.6" fill="#8b1e23" stroke="#3a0a0a" stroke-width="0.7"/>
<circle cx="1442.5" cy="145.8" r="3.6" fill="#8b1e23" stroke="#3a0a0a" stroke-width="0.7"/>
<circle cx="1280.3" cy="155.1" r="3.6" fill="#8b1e23" stroke="#3a0a0a" stroke-width="0.7"/>
<circle cx="1336.3" cy="179.7" r="3.6" fill="#8b1e23" stroke="#3a0a0a" stroke-width="0.7"/>
<circle cx="1453.8" cy="179.7" r="3.6" fill="#8b1e23" stroke="#3a0a0a" stroke-width="0.7"/>
<circle cx="1512.7" cy="179.7" r="3.6" fill="#8b1e23" stroke="#3a0a0a" stroke-width="0.7"/>
<circle cx="1280.3" cy="203.8" r="3.6" fill="#8b1e23" stroke="#3a0a0a" stroke-width="0.7"/>
<circle cx="1347.6" cy="214.5" r="3.6" fill="#8b1e23" stroke="#3a0a0a" stroke-width="0.7"/>
<circle cx="1442.5" cy="214.5" r="3.6" fill="#8b1e23" stroke="#3a0a0a" stroke-width="0.7"/>
<circle cx="1502.5" cy="227.3" r="3.6" fill="#8b1e23" stroke="#3a0a0a" stroke-width="0.7"/>
<circle cx="1377.4" cy="234.9" r="3.6" fill="#8b1e23" stroke="#3a0a0a" stroke-width="0.7"/>
<circle cx="1413.3" cy="234.9" r="3.6" fill="#8b1e23" stroke="#3a0a0a" stroke-width="0.7"/>
<circle cx="1300.1" cy="249.1" r="3.6" fill="#8b1e23" stroke="#3a0a0a" stroke-width="0.7"/>
<circle cx="1474.2" cy="266.6" r="3.6" fill="#8b1e23" stroke="#3a0a0a" stroke-width="0.7"/>
<circle cx="1336.3" cy="281.6" r="3.6" fill="#8b1e23" stroke="#3a0a0a" stroke-width="0.7"/>
<circle cx="1431.7" cy="291" r="3.6" fill="#8b1e23" stroke="#3a0a0a" stroke-width="0.7"/>
<circle cx="1383" cy="296.6" r="3.6" fill="#8b1e23" stroke="#3a0a0a" stroke-width="0.7"/>
<text class="Si" x="1390.7" y="61.1" font-size="10.2" text-anchor="middle" fill="#222">ICAM1</text>
<text class="Si" x="1439.4" y="65.9" font-size="10.2" text-anchor="middle" fill="#222">TRMO</text>
<text class="Si" x="1344" y="76.1" font-size="10.2" text-anchor="middle" fill="#222">ARFIP1</text>
<text class="Si" x="1481.9" y="90.2" font-size="10.2" text-anchor="middle" fill="#222">SKIL</text>
<text class="Si" x="1307.8" y="108.4" font-size="10.2" text-anchor="middle" fill="#222">SEC14L1</text>
<text class="Si" x="1385.1" y="121.4" font-size="10.2" text-anchor="middle" fill="#222">CD83</text>
<text class="Si" x="1421" y="121.4" font-size="10.2" text-anchor="middle" fill="#222">AC005050.3</text>
<text class="Si" x="1510.2" y="129.9" font-size="10.2" text-anchor="middle" fill="#222">PPCDC</text>
<text class="Si" x="1355.3" y="143.2" font-size="10.2" text-anchor="middle" fill="#222">C9orf72</text>
<text class="Si" x="1450.2" y="143.2" font-size="10.2" text-anchor="middle" fill="#222">ALDH1A2</text>
<text class="Si" x="1288" y="152.5" font-size="10.2" text-anchor="middle" fill="#222">ZNF438</text>
<text class="Si" x="1344" y="177.1" font-size="10.2" text-anchor="middle" fill="#222">RAB7A</text>
<text class="Si" x="1461.5" y="177.1" font-size="10.2" text-anchor="middle" fill="#222">PHACTR1</text>
<text class="Si" x="1520.4" y="177.1" font-size="10.2" text-anchor="middle" fill="#222">LUCAT1</text>
<text class="Si" x="1288" y="201.2" font-size="10.2" text-anchor="middle" fill="#222">FNDC3B</text>
<text class="Si" x="1355.3" y="211.9" font-size="10.2" text-anchor="middle" fill="#222">TANK</text>
<text class="Si" x="1450.2" y="211.9" font-size="10.2" text-anchor="middle" fill="#222">AL499604.1</text>
<text class="Si" x="1510.2" y="224.7" font-size="10.2" text-anchor="middle" fill="#222">NBN</text>
<text class="Si" x="1385.1" y="232.3" font-size="10.2" text-anchor="middle" fill="#222">HSD11B1−AS1</text>
<text class="Si" x="1421" y="232.3" font-size="10.2" text-anchor="middle" fill="#222">RDM1</text>
<text class="Si" x="1307.8" y="246.5" font-size="10.2" text-anchor="middle" fill="#222">CCL3L1</text>
<text class="Si" x="1481.9" y="264" font-size="10.2" text-anchor="middle" fill="#222">PCBP1−AS1</text>
<text class="Si" x="1344" y="279" font-size="10.2" text-anchor="middle" fill="#222">AC091271.1</text>
<text class="Si" x="1439.4" y="288.4" font-size="10.2" text-anchor="middle" fill="#222">LINC01366</text>
<text class="Si" x="1390.7" y="294" font-size="10.2" text-anchor="middle" fill="#222">IL1RAP</text>
<text class="Sb" x="1749" y="29.7" font-size="12" text-anchor="middle" fill="#111">green</text>
<path d="M1735.2 63.7L1783.6 67.9M1735.2 63.7L1688.5 78.4M1735.2 63.7L1825.8 92.6M1735.2 63.7L1652.3 110.4M1735.2 63.7L1854.1 131.6M1735.2 63.7L1633 154.8M1735.2 63.7L1864 178.9M1735.2 63.7L1633 202.9M1735.2 63.7L1854.1 226.4M1735.2 63.7L1652.3 247.1M1735.2 63.7L1825.8 265.5M1735.2 63.7L1688.5 279.6M1735.2 63.7L1783.6 289.3M1735.2 63.7L1735.2 294.4M1783.6 67.9L1688.5 78.4M1783.6 67.9L1825.8 92.6M1783.6 67.9L1652.3 110.4M1783.6 67.9L1854.1 131.6M1783.6 67.9L1633 154.8M1783.6 67.9L1864 178.9M1783.6 67.9L1633 202.9M1783.6 67.9L1854.1 226.4M1783.6 67.9L1652.3 247.1M1783.6 67.9L1825.8 265.5M1783.6 67.9L1688.5 279.6M1783.6 67.9L1783.6 289.3M1783.6 67.9L1735.2 294.4M1688.5 78.4L1825.8 92.6M1688.5 78.4L1652.3 110.4M1688.5 78.4L1854.1 131.6M1688.5 78.4L1633 154.8M1688.5 78.4L1864 178.9M1688.5 78.4L1633 202.9M1688.5 78.4L1854.1 226.4M1688.5 78.4L1652.3 247.1M1688.5 78.4L1825.8 265.5M1688.5 78.4L1688.5 279.6M1688.5 78.4L1783.6 289.3M1688.5 78.4L1735.2 294.4M1825.8 92.6L1652.3 110.4M1825.8 92.6L1854.1 131.6M1825.8 92.6L1633 154.8M1825.8 92.6L1864 178.9M1825.8 92.6L1633 202.9M1825.8 92.6L1854.1 226.4M1825.8 92.6L1652.3 247.1M1825.8 92.6L1825.8 265.5M1825.8 92.6L1688.5 279.6M1825.8 92.6L1783.6 289.3M1825.8 92.6L1735.2 294.4M1652.3 110.4L1854.1 131.6M1652.3 110.4L1633 154.8M1652.3 110.4L1864 178.9M1652.3 110.4L1633 202.9M1652.3 110.4L1854.1 226.4M1652.3 110.4L1652.3 247.1M1652.3 110.4L1825.8 265.5M1652.3 110.4L1688.5 279.6M1652.3 110.4L1783.6 289.3M1652.3 110.4L1735.2 294.4M1854.1 131.6L1633 154.8M1854.1 131.6L1864 178.9M1854.1 131.6L1633 202.9M1854.1 131.6L1854.1 226.4M1854.1 131.6L1652.3 247.1M1854.1 131.6L1825.8 265.5M1854.1 131.6L1688.5 279.6M1854.1 131.6L1783.6 289.3M1854.1 131.6L1735.2 294.4M1633 154.8L1864 178.9M1633 154.8L1633 202.9M1633 154.8L1854.1 226.4M1633 154.8L1652.3 247.1M1633 154.8L1825.8 265.5M1633 154.8L1688.5 279.6M1633 154.8L1783.6 289.3M1633 154.8L1735.2 294.4M1864 178.9L1633 202.9M1864 178.9L1854.1 226.4M1864 178.9L1652.3 247.1M1864 178.9L1825.8 265.5M1864 178.9L1688.5 279.6M1864 178.9L1783.6 289.3M1864 178.9L1735.2 294.4M1633 202.9L1854.1 226.4M1633 202.9L1652.3 247.1M1633 202.9L1825.8 265.5M1633 202.9L1688.5 279.6M1633 202.9L1783.6 289.3M1633 202.9L1735.2 294.4M1854.1 226.4L1652.3 247.1M1854.1 226.4L1825.8 265.5M1854.1 226.4L1688.5 279.6M1854.1 226.4L1783.6 289.3M1854.1 226.4L1735.2 294.4M1652.3 247.1L1825.8 265.5M1652.3 247.1L1688.5 279.6M1652.3 247.1L1783.6 289.3M1652.3 247.1L1735.2 294.4M1825.8 265.5L1688.5 279.6M1825.8 265.5L1783.6 289.3M1825.8 265.5L1735.2 294.4M1688.5 279.6L1783.6 289.3M1688.5 279.6L1735.2 294.4M1783.6 289.3L1735.2 294.4" stroke="#7cf07c" stroke-opacity="0.24" stroke-width="0.8" fill="none"/>
<path d="M1735.2 63.7L1729.3 123.7M1735.2 63.7L1765.5 123.7M1735.2 63.7L1699.8 144.9M1735.2 63.7L1794.4 144.9M1735.2 63.7L1688.5 178.9M1735.2 63.7L1805.7 178.9M1735.2 63.7L1699.8 212.9M1735.2 63.7L1794.4 212.9M1735.2 63.7L1729.3 234.4M1735.2 63.7L1765.5 234.4M1783.6 67.9L1729.3 123.7M1783.6 67.9L1765.5 123.7M1783.6 67.9L1699.8 144.9M1783.6 67.9L1794.4 144.9M1783.6 67.9L1688.5 178.9M1783.6 67.9L1805.7 178.9M1783.6 67.9L1699.8 212.9M1783.6 67.9L1794.4 212.9M1783.6 67.9L1729.3 234.4M1783.6 67.9L1765.5 234.4M1688.5 78.4L1729.3 123.7M1688.5 78.4L1765.5 123.7M1688.5 78.4L1699.8 144.9M1688.5 78.4L1794.4 144.9M1688.5 78.4L1688.5 178.9M1688.5 78.4L1805.7 178.9M1688.5 78.4L1699.8 212.9M1688.5 78.4L1794.4 212.9M1688.5 78.4L1729.3 234.4M1688.5 78.4L1765.5 234.4M1825.8 92.6L1729.3 123.7M1825.8 92.6L1765.5 123.7M1825.8 92.6L1699.8 144.9M1825.8 92.6L1794.4 144.9M1825.8 92.6L1688.5 178.9M1825.8 92.6L1805.7 178.9M1825.8 92.6L1699.8 212.9M1825.8 92.6L1794.4 212.9M1825.8 92.6L1729.3 234.4M1825.8 92.6L1765.5 234.4M1652.3 110.4L1729.3 123.7M1652.3 110.4L1765.5 123.7M1652.3 110.4L1699.8 144.9M1652.3 110.4L1794.4 144.9M1652.3 110.4L1688.5 178.9M1652.3 110.4L1805.7 178.9M1652.3 110.4L1699.8 212.9M1652.3 110.4L1794.4 212.9M1652.3 110.4L1729.3 234.4M1652.3 110.4L1765.5 234.4M1729.3 123.7L1854.1 131.6M1729.3 123.7L1633 154.8M1729.3 123.7L1864 178.9M1729.3 123.7L1633 202.9M1729.3 123.7L1854.1 226.4M1729.3 123.7L1652.3 247.1M1729.3 123.7L1825.8 265.5M1729.3 123.7L1688.5 279.6M1729.3 123.7L1783.6 289.3M1729.3 123.7L1735.2 294.4M1765.5 123.7L1854.1 131.6M1765.5 123.7L1633 154.8M1765.5 123.7L1864 178.9M1765.5 123.7L1633 202.9M1765.5 123.7L1854.1 226.4M1765.5 123.7L1652.3 247.1M1765.5 123.7L1825.8 265.5M1765.5 123.7L1688.5 279.6M1765.5 123.7L1783.6 289.3M1765.5 123.7L1735.2 294.4M1854.1 131.6L1699.8 144.9M1854.1 131.6L1794.4 144.9M1854.1 131.6L1688.5 178.9M1854.1 131.6L1805.7 178.9M1854.1 131.6L1699.8 212.9M1854.1 131.6L1794.4 212.9M1854.1 131.6L1729.3 234.4M1854.1 131.6L1765.5 234.4M1699.8 144.9L1633 154.8M1699.8 144.9L1864 178.9M1699.8 144.9L1633 202.9M1699.8 144.9L1854.1 226.4M1699.8 144.9L1652.3 247.1M1699.8 144.9L1825.8 265.5M1699.8 144.9L1688.5 279.6M1699.8 144.9L1783.6 289.3M1699.8 144.9L1735.2 294.4M1794.4 144.9L1633 154.8M1794.4 144.9L1864 178.9M1794.4 144.9L1633 202.9M1794.4 144.9L1854.1 226.4M1794.4 144.9L1652.3 247.1M1794.4 144.9L1825.8 265.5M1794.4 144.9L1688.5 279.6M1794.4 144.9L1783.6 289.3M1794.4 144.9L1735.2 294.4M1633 154.8L1688.5 178.9M1633 154.8L1805.7 178.9M1633 154.8L1699.8 212.9M1633 154.8L1794.4 212.9M1633 154.8L1729.3 234.4M1633 154.8L1765.5 234.4M1688.5 178.9L1864 178.9M1688.5 178.9L1633 202.9M1688.5 178.9L1854.1 226.4M1688.5 178.9L1652.3 247.1M1688.5 178.9L1825.8 265.5M1688.5 178.9L1688.5 279.6M1688.5 178.9L1783.6 289.3M1688.5 178.9L1735.2 294.4M1805.7 178.9L1864 178.9M1805.7 178.9L1633 202.9M1805.7 178.9L1854.1 226.4M1805.7 178.9L1652.3 247.1M1805.7 178.9L1825.8 265.5M1805.7 178.9L1688.5 279.6M1805.7 178.9L1783.6 289.3M1805.7 178.9L1735.2 294.4M1864 178.9L1699.8 212.9M1864 178.9L1794.4 212.9M1864 178.9L1729.3 234.4M1864 178.9L1765.5 234.4M1633 202.9L1699.8 212.9M1633 202.9L1794.4 212.9M1633 202.9L1729.3 234.4M1633 202.9L1765.5 234.4M1699.8 212.9L1854.1 226.4M1699.8 212.9L1652.3 247.1M1699.8 212.9L1825.8 265.5M1699.8 212.9L1688.5 279.6M1699.8 212.9L1783.6 289.3M1699.8 212.9L1735.2 294.4M1794.4 212.9L1854.1 226.4M1794.4 212.9L1652.3 247.1M1794.4 212.9L1825.8 265.5M1794.4 212.9L1688.5 279.6M1794.4 212.9L1783.6 289.3M1794.4 212.9L1735.2 294.4M1854.1 226.4L1729.3 234.4M1854.1 226.4L1765.5 234.4M1729.3 234.4L1652.3 247.1M1729.3 234.4L1825.8 265.5M1729.3 234.4L1688.5 279.6M1729.3 234.4L1783.6 289.3M1729.3 234.4L1735.2 294.4M1765.5 234.4L1652.3 247.1M1765.5 234.4L1825.8 265.5M1765.5 234.4L1688.5 279.6M1765.5 234.4L1783.6 289.3M1765.5 234.4L1735.2 294.4" stroke="#7cf07c" stroke-opacity="0.4" stroke-width="0.8" fill="none"/>
<path d="M1729.3 123.7L1765.5 123.7M1729.3 123.7L1699.8 144.9M1729.3 123.7L1794.4 144.9M1729.3 123.7L1688.5 178.9M1729.3 123.7L1805.7 178.9M1729.3 123.7L1699.8 212.9M1729.3 123.7L1794.4 212.9M1729.3 123.7L1729.3 234.4M1729.3 123.7L1765.5 234.4M1765.5 123.7L1699.8 144.9M1765.5 123.7L1794.4 144.9M1765.5 123.7L1688.5 178.9M1765.5 123.7L1805.7 178.9M1765.5 123.7L1699.8 212.9M1765.5 123.7L1794.4 212.9M1765.5 123.7L1729.3 234.4M1765.5 123.7L1765.5 234.4M1699.8 144.9L1794.4 144.9M1699.8 144.9L1688.5 178.9M1699.8 144.9L1805.7 178.9M1699.8 144.9L1699.8 212.9M1699.8 144.9L1794.4 212.9M1699.8 144.9L1729.3 234.4M1699.8 144.9L1765.5 234.4M1794.4 144.9L1688.5 178.9M1794.4 144.9L1805.7 178.9M1794.4 144.9L1699.8 212.9M1794.4 144.9L1794.4 212.9M1794.4 144.9L1729.3 234.4M1794.4 144.9L1765.5 234.4M1688.5 178.9L1805.7 178.9M1688.5 178.9L1699.8 212.9M1688.5 178.9L1794.4 212.9M1688.5 178.9L1729.3 234.4M1688.5 178.9L1765.5 234.4M1805.7 178.9L1699.8 212.9M1805.7 178.9L1794.4 212.9M1805.7 178.9L1729.3 234.4M1805.7 178.9L1765.5 234.4M1699.8 212.9L1794.4 212.9M1699.8 212.9L1729.3 234.4M1699.8 212.9L1765.5 234.4M1794.4 212.9L1729.3 234.4M1794.4 212.9L1765.5 234.4M1729.3 234.4L1765.5 234.4" stroke="#7cf07c" stroke-opacity="0.46" stroke-width="0.8" fill="none"/>
<path d="M1735.2 63.7L1729.3 123.7M1735.2 63.7L1688.5 178.9M1783.6 67.9L1765.5 123.7M1783.6 67.9L1794.4 144.9M1783.6 67.9L1805.7 178.9M1688.5 78.4L1729.3 123.7M1688.5 78.4L1699.8 144.9M1688.5 78.4L1688.5 178.9M1688.5 78.4L1765.5 234.4M1825.8 92.6L1729.3 123.7M1825.8 92.6L1805.7 178.9M1652.3 110.4L1765.5 123.7M1652.3 110.4L1794.4 144.9M1652.3 110.4L1688.5 178.9M1729.3 123.7L1652.3 247.1M1729.3 123.7L1825.8 265.5M1729.3 123.7L1783.6 289.3M1729.3 123.7L1735.2 294.4M1765.5 123.7L1699.8 144.9M1765.5 123.7L1864 178.9M1765.5 123.7L1633 202.9M1765.5 123.7L1688.5 279.6M1765.5 123.7L1735.2 294.4M1854.1 131.6L1805.7 178.9M1854.1 131.6L1765.5 234.4M1699.8 144.9L1864 178.9M1699.8 144.9L1765.5 234.4M1699.8 144.9L1825.8 265.5M1699.8 144.9L1735.2 294.4M1794.4 144.9L1688.5 178.9M1794.4 144.9L1864 178.9M1794.4 144.9L1854.1 226.4M1794.4 144.9L1729.3 234.4M1794.4 144.9L1688.5 279.6M1794.4 144.9L1783.6 289.3M1633 154.8L1688.5 178.9M1633 154.8L1765.5 234.4M1688.5 178.9L1864 178.9M1688.5 178.9L1699.8 212.9M1688.5 178.9L1794.4 212.9M1688.5 178.9L1854.1 226.4M1688.5 178.9L1652.3 247.1M1688.5 178.9L1825.8 265.5M1805.7 178.9L1864 178.9M1805.7 178.9L1699.8 212.9M1805.7 178.9L1765.5 234.4M1633 202.9L1699.8 212.9M1633 202.9L1794.4 212.9M1633 202.9L1729.3 234.4M1699.8 212.9L1794.4 212.9M1699.8 212.9L1765.5 234.4M1699.8 212.9L1783.6 289.3M1794.4 212.9L1854.1 226.4M1794.4 212.9L1729.3 234.4M1794.4 212.9L1652.3 247.1M1854.1 226.4L1765.5 234.4M1729.3 234.4L1765.5 234.4M1729.3 234.4L1825.8 265.5M1765.5 234.4L1783.6 289.3" stroke="#8a8a8a" stroke-opacity="0.03" stroke-width="0.6" fill="none"/>
<path d="M1735.2 63.7L1765.5 123.7M1735.2 63.7L1699.8 144.9M1735.2 63.7L1794.4 144.9M1735.2 63.7L1688.5 178.9M1735.2 63.7L1729.3 234.4M1735.2 63.7L1765.5 234.4M1783.6 67.9L1729.3 123.7M1783.6 67.9L1699.8 212.9M1783.6 67.9L1765.5 234.4M1688.5 78.4L1729.3 123.7M1688.5 78.4L1794.4 144.9M1688.5 78.4L1688.5 178.9M1825.8 92.6L1729.3 123.7M1825.8 92.6L1765.5 123.7M1825.8 92.6L1805.7 178.9M1825.8 92.6L1699.8 212.9M1825.8 92.6L1729.3 234.4M1652.3 110.4L1794.4 144.9M1652.3 110.4L1729.3 234.4M1652.3 110.4L1765.5 234.4M1729.3 123.7L1765.5 123.7M1729.3 123.7L1633 154.8M1729.3 123.7L1633 202.9M1729.3 123.7L1729.3 234.4M1729.3 123.7L1825.8 265.5M1729.3 123.7L1783.6 289.3M1765.5 123.7L1633 154.8M1765.5 123.7L1688.5 178.9M1765.5 123.7L1854.1 226.4M1765.5 123.7L1765.5 234.4M1854.1 131.6L1699.8 144.9M1854.1 131.6L1805.7 178.9M1854.1 131.6L1794.4 212.9M1854.1 131.6L1729.3 234.4M1854.1 131.6L1765.5 234.4M1699.8 144.9L1633 154.8M1699.8 144.9L1864 178.9M1699.8 144.9L1794.4 212.9M1699.8 144.9L1854.1 226.4M1699.8 144.9L1765.5 234.4M1699.8 144.9L1735.2 294.4M1794.4 144.9L1633 202.9M1794.4 144.9L1652.3 247.1M1794.4 144.9L1825.8 265.5M1794.4 144.9L1783.6 289.3M1633 154.8L1699.8 212.9M1633 154.8L1794.4 212.9M1633 154.8L1729.3 234.4M1688.5 178.9L1805.7 178.9M1688.5 178.9L1864 178.9M1688.5 178.9L1633 202.9M1688.5 178.9L1699.8 212.9M1688.5 178.9L1794.4 212.9M1688.5 178.9L1688.5 279.6M1805.7 178.9L1633 202.9M1805.7 178.9L1699.8 212.9M1805.7 178.9L1794.4 212.9M1805.7 178.9L1765.5 234.4M1805.7 178.9L1735.2 294.4M1864 178.9L1699.8 212.9M1864 178.9L1794.4 212.9M1864 178.9L1765.5 234.4M1633 202.9L1699.8 212.9M1633 202.9L1794.4 212.9M1699.8 212.9L1794.4 212.9M1699.8 212.9L1729.3 234.4M1699.8 212.9L1765.5 234.4M1794.4 212.9L1854.1 226.4M1794.4 212.9L1783.6 289.3M1729.3 234.4L1735.2 294.4M1765.5 234.4L1688.5 279.6M1765.5 234.4L1735.2 294.4" stroke="#74e874" stroke-opacity="0.4" stroke-width="1.04" fill="none"/>
<circle cx="1735.2" cy="63.7" r="3.6" fill="#2ae02a" stroke="#1a5a1a" stroke-width="0.7"/>
<circle cx="1783.6" cy="67.9" r="3.6" fill="#2ae02a" stroke="#1a5a1a" stroke-width="0.7"/>
<circle cx="1688.5" cy="78.4" r="3.6" fill="#2ae02a" stroke="#1a5a1a" stroke-width="0.7"/>
<circle cx="1825.8" cy="92.6" r="3.6" fill="#2ae02a" stroke="#1a5a1a" stroke-width="0.7"/>
<circle cx="1652.3" cy="110.4" r="3.6" fill="#2ae02a" stroke="#1a5a1a" stroke-width="0.7"/>
<circle cx="1729.3" cy="123.7" r="3.6" fill="#2ae02a" stroke="#1a5a1a" stroke-width="0.7"/>
<circle cx="1765.5" cy="123.7" r="3.6" fill="#2ae02a" stroke="#1a5a1a" stroke-width="0.7"/>
<circle cx="1854.1" cy="131.6" r="3.6" fill="#2ae02a" stroke="#1a5a1a" stroke-width="0.7"/>
<circle cx="1699.8" cy="144.9" r="3.6" fill="#2ae02a" stroke="#1a5a1a" stroke-width="0.7"/>
<circle cx="1794.4" cy="144.9" r="3.6" fill="#2ae02a" stroke="#1a5a1a" stroke-width="0.7"/>
<circle cx="1633" cy="154.8" r="3.6" fill="#2ae02a" stroke="#1a5a1a" stroke-width="0.7"/>
<circle cx="1688.5" cy="178.9" r="3.6" fill="#2ae02a" stroke="#1a5a1a" stroke-width="0.7"/>
<circle cx="1805.7" cy="178.9" r="3.6" fill="#2ae02a" stroke="#1a5a1a" stroke-width="0.7"/>
<circle cx="1864" cy="178.9" r="3.6" fill="#2ae02a" stroke="#1a5a1a" stroke-width="0.7"/>
<circle cx="1633" cy="202.9" r="3.6" fill="#2ae02a" stroke="#1a5a1a" stroke-width="0.7"/>
<circle cx="1699.8" cy="212.9" r="3.6" fill="#2ae02a" stroke="#1a5a1a" stroke-width="0.7"/>
<circle cx="1794.4" cy="212.9" r="3.6" fill="#2ae02a" stroke="#1a5a1a" stroke-width="0.7"/>
<circle cx="1854.1" cy="226.4" r="3.6" fill="#2ae02a" stroke="#1a5a1a" stroke-width="0.7"/>
<circle cx="1729.3" cy="234.4" r="3.6" fill="#2ae02a" stroke="#1a5a1a" stroke-width="0.7"/>
<circle cx="1765.5" cy="234.4" r="3.6" fill="#2ae02a" stroke="#1a5a1a" stroke-width="0.7"/>
<circle cx="1652.3" cy="247.1" r="3.6" fill="#2ae02a" stroke="#1a5a1a" stroke-width="0.7"/>
<circle cx="1825.8" cy="265.5" r="3.6" fill="#2ae02a" stroke="#1a5a1a" stroke-width="0.7"/>
<circle cx="1688.5" cy="279.6" r="3.6" fill="#2ae02a" stroke="#1a5a1a" stroke-width="0.7"/>
<circle cx="1783.6" cy="289.3" r="3.6" fill="#2ae02a" stroke="#1a5a1a" stroke-width="0.7"/>
<circle cx="1735.2" cy="294.4" r="3.6" fill="#2ae02a" stroke="#1a5a1a" stroke-width="0.7"/>
<text class="Si" x="1742.9" y="61.1" font-size="10.2" text-anchor="middle" fill="#222">ANXA3</text>
<text class="Si" x="1791.3" y="65.3" font-size="10.2" text-anchor="middle" fill="#222">PYGL</text>
<text class="Si" x="1696.2" y="75.8" font-size="10.2" text-anchor="middle" fill="#222">STXBP2</text>
<text class="Si" x="1833.5" y="90" font-size="10.2" text-anchor="middle" fill="#222">MYL6</text>
<text class="Si" x="1660" y="107.8" font-size="10.2" text-anchor="middle" fill="#222">VIM</text>
<text class="Si" x="1737" y="121.1" font-size="10.2" text-anchor="middle" fill="#222">S100A6</text>
<text class="Si" x="1773.2" y="121.1" font-size="10.2" text-anchor="middle" fill="#222">S100A12</text>
<text class="Si" x="1861.8" y="129" font-size="10.2" text-anchor="middle" fill="#222">PLAC8</text>
<text class="Si" x="1707.5" y="142.3" font-size="10.2" text-anchor="middle" fill="#222">TSPO</text>
<text class="Si" x="1802.1" y="142.3" font-size="10.2" text-anchor="middle" fill="#222">S100A9</text>
<text class="Si" x="1640.7" y="152.2" font-size="10.2" text-anchor="middle" fill="#222">S100P</text>
<text class="Si" x="1696.2" y="176.3" font-size="10.2" text-anchor="middle" fill="#222">ACTB</text>
<text class="Si" x="1813.4" y="176.3" font-size="10.2" text-anchor="middle" fill="#222">S100A8</text>
<text class="Si" x="1871.7" y="176.3" font-size="10.2" text-anchor="middle" fill="#222">SELL</text>
<text class="Si" x="1640.7" y="200.3" font-size="10.2" text-anchor="middle" fill="#222">RGL4</text>
<text class="Si" x="1707.5" y="210.3" font-size="10.2" text-anchor="middle" fill="#222">DYSF</text>
<text class="Si" x="1802.1" y="210.3" font-size="10.2" text-anchor="middle" fill="#222">GMFG</text>
<text class="Si" x="1861.8" y="223.8" font-size="10.2" text-anchor="middle" fill="#222">PADI4</text>
<text class="Si" x="1737" y="231.8" font-size="10.2" text-anchor="middle" fill="#222">CD177</text>
<text class="Si" x="1773.2" y="231.8" font-size="10.2" text-anchor="middle" fill="#222">VNN2</text>
<text class="Si" x="1660" y="244.5" font-size="10.2" text-anchor="middle" fill="#222">ALPL</text>
<text class="Si" x="1833.5" y="262.9" font-size="10.2" text-anchor="middle" fill="#222">MCTP2</text>
<text class="Si" x="1696.2" y="277" font-size="10.2" text-anchor="middle" fill="#222">ITGB2</text>
<text class="Si" x="1791.3" y="286.7" font-size="10.2" text-anchor="middle" fill="#222">OAZ1</text>
<text class="Si" x="1742.9" y="291.8" font-size="10.2" text-anchor="middle" fill="#222">CDA</text>
<text class="Rb" x="1416" y="345.4" font-size="24.5">E</text>
<text class="Rb" x="1640.9" y="328.6" font-size="13" text-anchor="middle" fill="#111">HAS vs LAS</text>
<rect x="1467" y="335.5" width="347.3" height="336.1" fill="#fff"/>
<path d="M1479.75 335.5V671.6M1513.3 335.5V671.6M1546.85 335.5V671.6M1580.4 335.5V671.6M1613.95 335.5V671.6M1647.5 335.5V671.6M1681.05 335.5V671.6M1714.6 335.5V671.6M1748.15 335.5V671.6M1781.7 335.5V671.6M1467 655.6H1814.3M1467 603.5H1814.3M1467 551.4H1814.3M1467 499.3H1814.3M1467 447.2H1814.3M1467 395.1H1814.3M1467 343H1814.3" stroke="#ececec" stroke-width="0.6" fill="none"/>
<rect x="1467" y="335.5" width="347.3" height="336.1" fill="none" stroke="#b4b4b4" stroke-width="1.2"/>
<line x1="1465" y1="655.6" x2="1467" y2="655.6" stroke="#666" stroke-width="0.6"/>
<text class="R" x="1458.7" y="657.6" font-size="5.9" text-anchor="end" fill="#444">0</text>
<line x1="1465" y1="551.4" x2="1467" y2="551.4" stroke="#666" stroke-width="0.6"/>
<text class="R" x="1458.7" y="553.4" font-size="5.9" text-anchor="end" fill="#444">50</text>
<line x1="1465" y1="447.2" x2="1467" y2="447.2" stroke="#666" stroke-width="0.6"/>
<text class="R" x="1458.7" y="449.2" font-size="5.9" text-anchor="end" fill="#444">100</text>
<line x1="1465" y1="343" x2="1467" y2="343" stroke="#666" stroke-width="0.6"/>
<text class="R" x="1458.7" y="345" font-size="5.9" text-anchor="end" fill="#444">150</text>
<line x1="1513.3" y1="671.6" x2="1513.3" y2="673.6" stroke="#666" stroke-width="0.6"/>
<text class="R" x="1513.3" y="680.8" font-size="6.8" text-anchor="middle" fill="#444">0.0</text>
<line x1="1580.4" y1="671.6" x2="1580.4" y2="673.6" stroke="#666" stroke-width="0.6"/>
<text class="R" x="1580.4" y="680.8" font-size="6.8" text-anchor="middle" fill="#444">2.5</text>
<line x1="1647.5" y1="671.6" x2="1647.5" y2="673.6" stroke="#666" stroke-width="0.6"/>
<text class="R" x="1647.5" y="680.8" font-size="6.8" text-anchor="middle" fill="#444">5.0</text>
<line x1="1714.6" y1="671.6" x2="1714.6" y2="673.6" stroke="#666" stroke-width="0.6"/>
<text class="R" x="1714.6" y="680.8" font-size="6.8" text-anchor="middle" fill="#444">7.5</text>
<line x1="1781.7" y1="671.6" x2="1781.7" y2="673.6" stroke="#666" stroke-width="0.6"/>
<text class="R" x="1781.7" y="680.8" font-size="6.8" text-anchor="middle" fill="#444">10.0</text>
<text class="Rb" x="1639.8" y="692" font-size="8" text-anchor="middle" fill="#222">avg_log2FC</text>
<text class="Rb" x="1446.5" y="504.2" font-size="8" text-anchor="middle" fill="#222" transform="rotate(-90 1446.5 504.2)">neg_log10_P</text>
<g fill="#4a8fcd" fill-opacity="0.72"><circle cx="1521.32" cy="636.95" r="1.1"/><circle cx="1521.25" cy="612.38" r="1.1"/><circle cx="1522.15" cy="634.35" r="1.1"/><circle cx="1518.79" cy="647.99" r="1.1"/><circle cx="1526.38" cy="628.33" r="1.1"/><circle cx="1517.3" cy="650.92" r="1.1"/><circle cx="1519.87" cy="651.01" r="1.1"/><circle cx="1518.13" cy="625.04" r="1.1"/><circle cx="1524.47" cy="609.04" r="1.1"/><circle cx="1524.08" cy="627.09" r="1.1"/><circle cx="1516.56" cy="648.93" r="1.1"/><circle cx="1517.68" cy="633.36" r="1.1"/><circle cx="1517.39" cy="647.8" r="1.1"/><circle cx="1517.74" cy="652.53" r="1.1"/><circle cx="1524.28" cy="637.5" r="1.1"/><circle cx="1522.88" cy="633.81" r="1.1"/><circle cx="1522.93" cy="634.74" r="1.1"/><circle cx="1518.81" cy="636.73" r="1.1"/><circle cx="1524.37" cy="608.14" r="1.1"/><circle cx="1524.28" cy="617.11" r="1.1"/><circle cx="1517.82" cy="642.97" r="1.1"/><circle cx="1517" cy="644.04" r="1.1"/><circle cx="1521.34" cy="621.16" r="1.1"/><circle cx="1520.93" cy="616.76" r="1.1"/><circle cx="1523.97" cy="610.44" r="1.1"/><circle cx="1516.75" cy="653" r="1.1"/><circle cx="1521.36" cy="613.18" r="1.1"/><circle cx="1520.54" cy="609.15" r="1.1"/><circle cx="1518.73" cy="651.5" r="1.1"/><circle cx="1520" cy="620.5" r="1.1"/><circle cx="1517.4" cy="651.11" r="1.1"/><circle cx="1523.14" cy="610.09" r="1.1"/><circle cx="1517.16" cy="650.2" r="1.1"/><circle cx="1516.53" cy="650.71" r="1.1"/><circle cx="1519.25" cy="619.49" r="1.1"/><circle cx="1521.06" cy="631.86" r="1.1"/><circle cx="1520.28" cy="647.78" r="1.1"/><circle cx="1519.2" cy="649.8" r="1.1"/><circle cx="1517.92" cy="650.25" r="1.1"/><circle cx="1517.61" cy="646.98" r="1.1"/><circle cx="1523.4" cy="609.69" r="1.1"/><circle cx="1522.83" cy="643.42" r="1.1"/><circle cx="1518.26" cy="647.06" r="1.1"/><circle cx="1523.39" cy="616.33" r="1.1"/><circle cx="1521.09" cy="650.73" r="1.1"/><circle cx="1517.55" cy="646.96" r="1.1"/><circle cx="1520.58" cy="620.82" r="1.1"/><circle cx="1517.04" cy="643.74" r="1.1"/><circle cx="1518.59" cy="651.03" r="1.1"/><circle cx="1519.81" cy="645.85" r="1.1"/><circle cx="1519.68" cy="640.57" r="1.1"/><circle cx="1521.18" cy="610.38" r="1.1"/><circle cx="1526.62" cy="631.1" r="1.1"/><circle cx="1517" cy="648.06" r="1.1"/><circle cx="1524.51" cy="613.28" r="1.1"/><circle cx="1517.37" cy="645.6" r="1.1"/><circle cx="1529.06" cy="622.61" r="1.1"/><circle cx="1521.97" cy="647.57" r="1.1"/><circle cx="1522.73" cy="614.77" r="1.1"/><circle cx="1517.54" cy="638.37" r="1.1"/><circle cx="1520.33" cy="652.34" r="1.1"/><circle cx="1520.54" cy="646.02" r="1.1"/><circle cx="1521.69" cy="645.31" r="1.1"/><circle cx="1519.72" cy="630.01" r="1.1"/><circle cx="1520.05" cy="648.32" r="1.1"/><circle cx="1516.95" cy="651.61" r="1.1"/><circle cx="1526.18" cy="631.85" r="1.1"/><circle cx="1519.69" cy="629.12" r="1.1"/><circle cx="1519.52" cy="612.77" r="1.1"/><circle cx="1516.96" cy="652.78" r="1.1"/><circle cx="1517.42" cy="637.26" r="1.1"/><circle cx="1517.95" cy="648.29" r="1.1"/><circle cx="1518.25" cy="631.22" r="1.1"/><circle cx="1523.69" cy="640.98" r="1.1"/><circle cx="1522.19" cy="609.14" r="1.1"/><circle cx="1524.06" cy="625.16" r="1.1"/><circle cx="1516.56" cy="649.5" r="1.1"/><circle cx="1519.89" cy="652.76" r="1.1"/><circle cx="1530.18" cy="624.65" r="1.1"/><circle cx="1518.49" cy="652.7" r="1.1"/><circle cx="1523.52" cy="635.56" r="1.1"/><circle cx="1524.16" cy="642.81" r="1.1"/><circle cx="1518.32" cy="651.44" r="1.1"/><circle cx="1528.46" cy="622.74" r="1.1"/><circle cx="1525.44" cy="622.73" r="1.1"/><circle cx="1527.67" cy="619.7" r="1.1"/><circle cx="1521.53" cy="641.43" r="1.1"/><circle cx="1525.19" cy="613.71" r="1.1"/><circle cx="1523.37" cy="638.56" r="1.1"/><circle cx="1522.6" cy="615.82" r="1.1"/><circle cx="1520.84" cy="628.58" r="1.1"/><circle cx="1523.2" cy="630.7" r="1.1"/><circle cx="1518.83" cy="651.31" r="1.1"/><circle cx="1523.6" cy="608.39" r="1.1"/><circle cx="1521.33" cy="623.2" r="1.1"/><circle cx="1523.73" cy="622.84" r="1.1"/><circle cx="1524.23" cy="637.5" r="1.1"/><circle cx="1519.47" cy="651.21" r="1.1"/><circle cx="1518.36" cy="652.53" r="1.1"/><circle cx="1518.57" cy="635.62" r="1.1"/><circle cx="1522.84" cy="624.78" r="1.1"/><circle cx="1528.1" cy="629.11" r="1.1"/><circle cx="1516.77" cy="645.35" r="1.1"/><circle cx="1520.94" cy="643.55" r="1.1"/><circle cx="1517.12" cy="647.35" r="1.1"/><circle cx="1523.03" cy="613.44" r="1.1"/><circle cx="1524.88" cy="637.43" r="1.1"/><circle cx="1521.1" cy="642.48" r="1.1"/><circle cx="1518.4" cy="647.5" r="1.1"/><circle cx="1527.43" cy="619" r="1.1"/><circle cx="1520.8" cy="614.87" r="1.1"/><circle cx="1519.86" cy="630.68" r="1.1"/><circle cx="1518.41" cy="649.63" r="1.1"/><circle cx="1526.02" cy="617.29" r="1.1"/><circle cx="1529.76" cy="624.11" r="1.1"/><circle cx="1517.37" cy="644.53" r="1.1"/><circle cx="1518.75" cy="637.03" r="1.1"/><circle cx="1518.39" cy="646.93" r="1.1"/><circle cx="1522.17" cy="628.54" r="1.1"/><circle cx="1522.54" cy="642.96" r="1.1"/><circle cx="1520.86" cy="609.05" r="1.1"/><circle cx="1516.43" cy="651.46" r="1.1"/><circle cx="1518.66" cy="615.29" r="1.1"/><circle cx="1523.8" cy="624.24" r="1.1"/><circle cx="1522.03" cy="643.22" r="1.1"/><circle cx="1516.57" cy="652.74" r="1.1"/><circle cx="1517.32" cy="636.84" r="1.1"/><circle cx="1519.72" cy="617.7" r="1.1"/><circle cx="1516.58" cy="649.48" r="1.1"/><circle cx="1521.62" cy="628.36" r="1.1"/><circle cx="1524.36" cy="628.32" r="1.1"/><circle cx="1528.02" cy="618.93" r="1.1"/><circle cx="1519.29" cy="625.51" r="1.1"/><circle cx="1518.18" cy="635.9" r="1.1"/><circle cx="1517.72" cy="652.88" r="1.1"/><circle cx="1519.17" cy="623.95" r="1.1"/><circle cx="1518.3" cy="644.7" r="1.1"/><circle cx="1523.17" cy="624.84" r="1.1"/><circle cx="1525.61" cy="629.11" r="1.1"/><circle cx="1523.08" cy="639.61" r="1.1"/><circle cx="1518.93" cy="613.41" r="1.1"/><circle cx="1523.27" cy="611.9" r="1.1"/><circle cx="1518.15" cy="649.83" r="1.1"/><circle cx="1528.13" cy="628.55" r="1.1"/><circle cx="1520.71" cy="640.35" r="1.1"/><circle cx="1524.74" cy="614.93" r="1.1"/><circle cx="1521.13" cy="611.23" r="1.1"/><circle cx="1519.18" cy="627.23" r="1.1"/><circle cx="1527.39" cy="623.54" r="1.1"/><circle cx="1525.41" cy="627.73" r="1.1"/><circle cx="1521.78" cy="646.96" r="1.1"/><circle cx="1524.61" cy="609.14" r="1.1"/><circle cx="1525" cy="632.95" r="1.1"/><circle cx="1523.29" cy="642.75" r="1.1"/><circle cx="1520.58" cy="616.25" r="1.1"/><circle cx="1517.86" cy="651.24" r="1.1"/><circle cx="1524.89" cy="632.3" r="1.1"/><circle cx="1517.43" cy="635.32" r="1.1"/><circle cx="1518.57" cy="618.83" r="1.1"/><circle cx="1519.22" cy="619.34" r="1.1"/><circle cx="1522.31" cy="642.14" r="1.1"/><circle cx="1516.87" cy="649.49" r="1.1"/><circle cx="1523.87" cy="633.94" r="1.1"/><circle cx="1524.07" cy="617.13" r="1.1"/><circle cx="1521.32" cy="611.15" r="1.1"/><circle cx="1519.04" cy="610.95" r="1.1"/><circle cx="1519.14" cy="646.66" r="1.1"/><circle cx="1521.26" cy="643.99" r="1.1"/><circle cx="1522.67" cy="627.87" r="1.1"/><circle cx="1522.62" cy="616.93" r="1.1"/><circle cx="1518.75" cy="643.11" r="1.1"/><circle cx="1526.52" cy="616.83" r="1.1"/><circle cx="1521.33" cy="647.15" r="1.1"/><circle cx="1521.39" cy="609.84" r="1.1"/><circle cx="1518.77" cy="631.18" r="1.1"/><circle cx="1521.48" cy="633" r="1.1"/><circle cx="1517.78" cy="629.57" r="1.1"/><circle cx="1521.33" cy="609.78" r="1.1"/><circle cx="1523.27" cy="639.3" r="1.1"/><circle cx="1521.58" cy="631.68" r="1.1"/><circle cx="1518.26" cy="625.17" r="1.1"/><circle cx="1520.54" cy="632.86" r="1.1"/><circle cx="1524.64" cy="610.51" r="1.1"/><circle cx="1519.11" cy="644.83" r="1.1"/><circle cx="1518.03" cy="649.92" r="1.1"/><circle cx="1527.06" cy="618.47" r="1.1"/><circle cx="1519.23" cy="635.83" r="1.1"/><circle cx="1519.51" cy="647.75" r="1.1"/><circle cx="1519.16" cy="612.32" r="1.1"/><circle cx="1518.31" cy="620.46" r="1.1"/><circle cx="1517.34" cy="647.66" r="1.1"/><circle cx="1520.59" cy="625.38" r="1.1"/><circle cx="1520.97" cy="641.28" r="1.1"/><circle cx="1519.52" cy="650.6" r="1.1"/><circle cx="1518.4" cy="650.05" r="1.1"/><circle cx="1517.41" cy="645.56" r="1.1"/><circle cx="1520.72" cy="633.27" r="1.1"/><circle cx="1519.39" cy="640.39" r="1.1"/><circle cx="1518.27" cy="633.32" r="1.1"/><circle cx="1519.7" cy="647.29" r="1.1"/><circle cx="1522.75" cy="627.89" r="1.1"/><circle cx="1523.1" cy="616.5" r="1.1"/><circle cx="1519.68" cy="616.19" r="1.1"/><circle cx="1526.99" cy="622.53" r="1.1"/><circle cx="1520.23" cy="613.61" r="1.1"/><circle cx="1523.34" cy="642.98" r="1.1"/><circle cx="1522.65" cy="646.78" r="1.1"/><circle cx="1519.11" cy="614.46" r="1.1"/><circle cx="1520.71" cy="645.99" r="1.1"/><circle cx="1517.02" cy="645.21" r="1.1"/><circle cx="1521.31" cy="617.56" r="1.1"/><circle cx="1518.88" cy="619.88" r="1.1"/><circle cx="1522.08" cy="639.2" r="1.1"/><circle cx="1516.75" cy="652.76" r="1.1"/><circle cx="1529.15" cy="625.62" r="1.1"/><circle cx="1519.19" cy="609.84" r="1.1"/><circle cx="1524.16" cy="634.45" r="1.1"/><circle cx="1523.24" cy="634.59" r="1.1"/><circle cx="1516.75" cy="647.84" r="1.1"/><circle cx="1516.49" cy="650.56" r="1.1"/><circle cx="1521.75" cy="632.23" r="1.1"/><circle cx="1518.34" cy="631.39" r="1.1"/><circle cx="1517.2" cy="648" r="1.1"/><circle cx="1527.78" cy="617.11" r="1.1"/><circle cx="1519.02" cy="612.23" r="1.1"/><circle cx="1520.46" cy="651.79" r="1.1"/><circle cx="1523.66" cy="636.51" r="1.1"/><circle cx="1519.47" cy="642.48" r="1.1"/><circle cx="1520.53" cy="633.99" r="1.1"/><circle cx="1517.72" cy="629.79" r="1.1"/><circle cx="1528.13" cy="624.64" r="1.1"/><circle cx="1518.43" cy="648.11" r="1.1"/><circle cx="1521.49" cy="622.61" r="1.1"/><circle cx="1517.08" cy="647.62" r="1.1"/><circle cx="1517.46" cy="634.13" r="1.1"/><circle cx="1524.59" cy="614.15" r="1.1"/><circle cx="1528.35" cy="624.45" r="1.1"/><circle cx="1521.13" cy="628.35" r="1.1"/><circle cx="1522.06" cy="629.86" r="1.1"/><circle cx="1523.22" cy="609.01" r="1.1"/><circle cx="1522.45" cy="645.26" r="1.1"/><circle cx="1526.44" cy="622.34" r="1.1"/><circle cx="1521.22" cy="618.53" r="1.1"/><circle cx="1525.36" cy="613.96" r="1.1"/><circle cx="1526.94" cy="624.97" r="1.1"/><circle cx="1521.4" cy="621.22" r="1.1"/><circle cx="1518.37" cy="623.5" r="1.1"/><circle cx="1519.59" cy="641.86" r="1.1"/><circle cx="1517.26" cy="652.88" r="1.1"/><circle cx="1524.03" cy="627.87" r="1.1"/><circle cx="1522.39" cy="646.26" r="1.1"/><circle cx="1520.63" cy="626.47" r="1.1"/><circle cx="1523.51" cy="626.79" r="1.1"/><circle cx="1520.26" cy="633.14" r="1.1"/><circle cx="1521.88" cy="608.01" r="1.1"/><circle cx="1526.77" cy="624.63" r="1.1"/><circle cx="1518.96" cy="609.16" r="1.1"/><circle cx="1525.37" cy="629.06" r="1.1"/><circle cx="1518.56" cy="645.32" r="1.1"/><circle cx="1516.79" cy="652.07" r="1.1"/><circle cx="1517.37" cy="640.4" r="1.1"/><circle cx="1522.31" cy="645.54" r="1.1"/><circle cx="1521.65" cy="632.31" r="1.1"/><circle cx="1521.7" cy="609.91" r="1.1"/><circle cx="1521.9" cy="608.29" r="1.1"/><circle cx="1518.63" cy="618.81" r="1.1"/><circle cx="1525.42" cy="629.96" r="1.1"/><circle cx="1520.19" cy="652.2" r="1.1"/><circle cx="1518.41" cy="648.85" r="1.1"/><circle cx="1518.6" cy="648.53" r="1.1"/><circle cx="1517.94" cy="629.27" r="1.1"/><circle cx="1520.83" cy="611.17" r="1.1"/><circle cx="1522.47" cy="633.44" r="1.1"/><circle cx="1518.4" cy="640.84" r="1.1"/><circle cx="1523.33" cy="627.03" r="1.1"/><circle cx="1521.09" cy="644.26" r="1.1"/><circle cx="1516.87" cy="643.75" r="1.1"/><circle cx="1516.81" cy="645.77" r="1.1"/><circle cx="1520.11" cy="648.96" r="1.1"/><circle cx="1524.17" cy="639.77" r="1.1"/><circle cx="1518.33" cy="622.13" r="1.1"/><circle cx="1524.17" cy="608.66" r="1.1"/><circle cx="1520.29" cy="651.49" r="1.1"/><circle cx="1520.33" cy="638" r="1.1"/><circle cx="1519.74" cy="609.56" r="1.1"/><circle cx="1526.78" cy="633.61" r="1.1"/><circle cx="1522.33" cy="623.5" r="1.1"/><circle cx="1523.37" cy="609.24" r="1.1"/><circle cx="1518.26" cy="629.65" r="1.1"/><circle cx="1521.69" cy="628.61" r="1.1"/><circle cx="1516.73" cy="647.31" r="1.1"/><circle cx="1518.03" cy="633.38" r="1.1"/><circle cx="1522.35" cy="637.39" r="1.1"/><circle cx="1518.68" cy="636.81" r="1.1"/><circle cx="1520.93" cy="630.72" r="1.1"/><circle cx="1522.78" cy="620.53" r="1.1"/><circle cx="1524.05" cy="608.14" r="1.1"/><circle cx="1519.73" cy="622.88" r="1.1"/><circle cx="1520.6" cy="650.33" r="1.1"/><circle cx="1523.88" cy="620.19" r="1.1"/><circle cx="1518.27" cy="641.11" r="1.1"/><circle cx="1523.71" cy="625.48" r="1.1"/><circle cx="1523.61" cy="630.25" r="1.1"/><circle cx="1519.3" cy="621.86" r="1.1"/><circle cx="1522.93" cy="645.62" r="1.1"/><circle cx="1525" cy="612.87" r="1.1"/><circle cx="1516.42" cy="652.33" r="1.1"/><circle cx="1518.8" cy="644.76" r="1.1"/><circle cx="1518.25" cy="628.66" r="1.1"/><circle cx="1517.78" cy="632.72" r="1.1"/><circle cx="1519.07" cy="651.13" r="1.1"/><circle cx="1523.12" cy="632.28" r="1.1"/><circle cx="1519.9" cy="640.51" r="1.1"/><circle cx="1517.98" cy="647.06" r="1.1"/><circle cx="1527.36" cy="622.32" r="1.1"/><circle cx="1516.62" cy="651.47" r="1.1"/><circle cx="1523.63" cy="618.83" r="1.1"/><circle cx="1519.51" cy="621.03" r="1.1"/><circle cx="1518.5" cy="638.23" r="1.1"/><circle cx="1520.88" cy="618.79" r="1.1"/><circle cx="1529.95" cy="627.11" r="1.1"/><circle cx="1520.1" cy="642.54" r="1.1"/><circle cx="1528.62" cy="622.25" r="1.1"/><circle cx="1519.37" cy="638.08" r="1.1"/><circle cx="1520.32" cy="650.83" r="1.1"/><circle cx="1516.54" cy="651.35" r="1.1"/><circle cx="1521.52" cy="631.62" r="1.1"/><circle cx="1520.31" cy="625.47" r="1.1"/><circle cx="1518.54" cy="620.67" r="1.1"/><circle cx="1519.99" cy="646.96" r="1.1"/><circle cx="1517.26" cy="651.27" r="1.1"/><circle cx="1525.43" cy="623.38" r="1.1"/><circle cx="1517.27" cy="644.28" r="1.1"/><circle cx="1521.98" cy="641.17" r="1.1"/><circle cx="1517.43" cy="640.8" r="1.1"/><circle cx="1523.77" cy="624.21" r="1.1"/><circle cx="1525.56" cy="612.71" r="1.1"/><circle cx="1521.09" cy="613" r="1.1"/><circle cx="1520.3" cy="619.16" r="1.1"/><circle cx="1518.91" cy="642.87" r="1.1"/><circle cx="1524.81" cy="611.78" r="1.1"/><circle cx="1518.27" cy="645.64" r="1.1"/><circle cx="1518.94" cy="640.84" r="1.1"/><circle cx="1519.31" cy="639.52" r="1.1"/><circle cx="1519.19" cy="647.63" r="1.1"/><circle cx="1522.76" cy="619.49" r="1.1"/><circle cx="1522.71" cy="617.33" r="1.1"/><circle cx="1520.33" cy="648.28" r="1.1"/><circle cx="1520.02" cy="614.84" r="1.1"/><circle cx="1517.94" cy="652.68" r="1.1"/><circle cx="1522.29" cy="632.6" r="1.1"/><circle cx="1522.3" cy="609.95" r="1.1"/><circle cx="1518.56" cy="619.09" r="1.1"/><circle cx="1525.1" cy="632.47" r="1.1"/><circle cx="1516.55" cy="651.2" r="1.1"/><circle cx="1528.44" cy="622.73" r="1.1"/><circle cx="1518.83" cy="651.18" r="1.1"/><circle cx="1519.94" cy="649.38" r="1.1"/><circle cx="1519.55" cy="627.35" r="1.1"/><circle cx="1520.82" cy="646.7" r="1.1"/><circle cx="1524.45" cy="633.69" r="1.1"/><circle cx="1518.92" cy="639.58" r="1.1"/><circle cx="1522.44" cy="609.85" r="1.1"/><circle cx="1521.47" cy="635.02" r="1.1"/><circle cx="1525.69" cy="623.59" r="1.1"/><circle cx="1520.88" cy="612.91" r="1.1"/><circle cx="1523.96" cy="617.89" r="1.1"/><circle cx="1525.24" cy="616.37" r="1.1"/><circle cx="1526.58" cy="617.47" r="1.1"/><circle cx="1522.31" cy="610.45" r="1.1"/><circle cx="1523.79" cy="633.58" r="1.1"/><circle cx="1521.43" cy="619.21" r="1.1"/><circle cx="1517.76" cy="638.41" r="1.1"/><circle cx="1529.86" cy="622.51" r="1.1"/><circle cx="1517.71" cy="640.4" r="1.1"/><circle cx="1518.4" cy="647.29" r="1.1"/><circle cx="1523.46" cy="643.92" r="1.1"/><circle cx="1517.21" cy="651.86" r="1.1"/><circle cx="1519.11" cy="650.3" r="1.1"/><circle cx="1519.24" cy="620.64" r="1.1"/><circle cx="1517.85" cy="651.78" r="1.1"/><circle cx="1527.41" cy="630.63" r="1.1"/><circle cx="1516.52" cy="652.39" r="1.1"/><circle cx="1517.26" cy="648" r="1.1"/><circle cx="1520.6" cy="646.14" r="1.1"/><circle cx="1519.07" cy="630.1" r="1.1"/><circle cx="1517.55" cy="647.98" r="1.1"/><circle cx="1520.28" cy="648.42" r="1.1"/><circle cx="1519.98" cy="643.11" r="1.1"/><circle cx="1521.96" cy="618.39" r="1.1"/><circle cx="1522.27" cy="645.17" r="1.1"/><circle cx="1520.39" cy="612.95" r="1.1"/><circle cx="1527.48" cy="632.44" r="1.1"/><circle cx="1518.51" cy="635.55" r="1.1"/><circle cx="1520.33" cy="652.09" r="1.1"/><circle cx="1521.06" cy="619.25" r="1.1"/><circle cx="1521.54" cy="633.4" r="1.1"/><circle cx="1523.39" cy="644.62" r="1.1"/><circle cx="1519.52" cy="626.91" r="1.1"/><circle cx="1517.72" cy="652.87" r="1.1"/><circle cx="1522.85" cy="640.58" r="1.1"/><circle cx="1524.26" cy="624" r="1.1"/><circle cx="1516.94" cy="648.94" r="1.1"/><circle cx="1518.02" cy="642.69" r="1.1"/><circle cx="1522.01" cy="615.49" r="1.1"/><circle cx="1529.7" cy="627.96" r="1.1"/><circle cx="1519.52" cy="644.93" r="1.1"/><circle cx="1520.16" cy="649.16" r="1.1"/><circle cx="1519.34" cy="652.99" r="1.1"/><circle cx="1525.54" cy="616.78" r="1.1"/><circle cx="1517.13" cy="651.25" r="1.1"/><circle cx="1518.53" cy="623.82" r="1.1"/><circle cx="1520.64" cy="635.66" r="1.1"/><circle cx="1521.93" cy="610.59" r="1.1"/><circle cx="1520.21" cy="616.16" r="1.1"/><circle cx="1521.43" cy="619.91" r="1.1"/><circle cx="1518.97" cy="612.81" r="1.1"/><circle cx="1519.5" cy="617.88" r="1.1"/><circle cx="1521.8" cy="632.64" r="1.1"/><circle cx="1520.64" cy="648.93" r="1.1"/><circle cx="1518.29" cy="643.12" r="1.1"/><circle cx="1517.25" cy="651.42" r="1.1"/><circle cx="1523.15" cy="636.27" r="1.1"/><circle cx="1521.63" cy="641.09" r="1.1"/><circle cx="1517.74" cy="650.57" r="1.1"/><circle cx="1526.14" cy="636.52" r="1.1"/><circle cx="1523.78" cy="617.69" r="1.1"/><circle cx="1517.34" cy="652.85" r="1.1"/><circle cx="1519.72" cy="624.17" r="1.1"/><circle cx="1521.22" cy="631.62" r="1.1"/><circle cx="1520.3" cy="652.88" r="1.1"/><circle cx="1519.47" cy="619.36" r="1.1"/><circle cx="1519.81" cy="629.03" r="1.1"/><circle cx="1520.45" cy="640.38" r="1.1"/><circle cx="1518.39" cy="643.67" r="1.1"/><circle cx="1521.78" cy="639.67" r="1.1"/><circle cx="1517.44" cy="645.33" r="1.1"/><circle cx="1520.66" cy="623.03" r="1.1"/><circle cx="1521.84" cy="611.19" r="1.1"/><circle cx="1520.7" cy="623.44" r="1.1"/><circle cx="1518.76" cy="617.85" r="1.1"/><circle cx="1516.7" cy="649.48" r="1.1"/><circle cx="1525.75" cy="625.86" r="1.1"/><circle cx="1518.14" cy="648.16" r="1.1"/><circle cx="1523.03" cy="617.3" r="1.1"/><circle cx="1517" cy="651.03" r="1.1"/><circle cx="1516.83" cy="648.94" r="1.1"/><circle cx="1517.35" cy="639.02" r="1.1"/><circle cx="1520.98" cy="612.59" r="1.1"/><circle cx="1522.88" cy="634.17" r="1.1"/><circle cx="1526.76" cy="621.13" r="1.1"/><circle cx="1518.83" cy="639.95" r="1.1"/><circle cx="1517.18" cy="638.78" r="1.1"/><circle cx="1522.21" cy="639.29" r="1.1"/><circle cx="1523.12" cy="609.05" r="1.1"/><circle cx="1524.06" cy="626.77" r="1.1"/><circle cx="1517.18" cy="652.75" r="1.1"/><circle cx="1521.12" cy="641.84" r="1.1"/><circle cx="1517.67" cy="650.56" r="1.1"/><circle cx="1524.59" cy="634.28" r="1.1"/><circle cx="1523.34" cy="617.95" r="1.1"/><circle cx="1520.21" cy="648.9" r="1.1"/><circle cx="1522.06" cy="613.59" r="1.1"/><circle cx="1519.92" cy="641.4" r="1.1"/><circle cx="1519.71" cy="649.45" r="1.1"/><circle cx="1521.21" cy="608.77" r="1.1"/><circle cx="1527.77" cy="623.89" r="1.1"/><circle cx="1521.93" cy="647.55" r="1.1"/><circle cx="1519" cy="628.47" r="1.1"/><circle cx="1517.04" cy="651.22" r="1.1"/><circle cx="1524.28" cy="631.01" r="1.1"/><circle cx="1523.61" cy="642.39" r="1.1"/><circle cx="1519.68" cy="641.02" r="1.1"/><circle cx="1521.25" cy="650.02" r="1.1"/><circle cx="1520.91" cy="649.65" r="1.1"/><circle cx="1522.2" cy="632.63" r="1.1"/><circle cx="1519.25" cy="631.81" r="1.1"/><circle cx="1526.31" cy="613.23" r="1.1"/><circle cx="1523.29" cy="618.37" r="1.1"/><circle cx="1520.25" cy="650.06" r="1.1"/><circle cx="1522.73" cy="644.06" r="1.1"/><circle cx="1519.6" cy="645.93" r="1.1"/><circle cx="1519.34" cy="617.64" r="1.1"/><circle cx="1517.82" cy="632.42" r="1.1"/><circle cx="1516.71" cy="652.49" r="1.1"/><circle cx="1524.17" cy="608.76" r="1.1"/><circle cx="1520.24" cy="626.86" r="1.1"/><circle cx="1526.12" cy="626.2" r="1.1"/><circle cx="1520.97" cy="640.14" r="1.1"/><circle cx="1518.37" cy="619.12" r="1.1"/><circle cx="1518.63" cy="647.46" r="1.1"/><circle cx="1517.88" cy="649.41" r="1.1"/><circle cx="1518.54" cy="631.35" r="1.1"/><circle cx="1519.02" cy="633.78" r="1.1"/><circle cx="1519.92" cy="631.43" r="1.1"/><circle cx="1517.94" cy="627.72" r="1.1"/><circle cx="1518.75" cy="626.21" r="1.1"/><circle cx="1522" cy="610.36" r="1.1"/><circle cx="1520.02" cy="636.14" r="1.1"/><circle cx="1524.77" cy="628.63" r="1.1"/><circle cx="1525.88" cy="621.61" r="1.1"/><circle cx="1526.92" cy="635.4" r="1.1"/><circle cx="1526.08" cy="617.22" r="1.1"/><circle cx="1519.79" cy="638.92" r="1.1"/><circle cx="1527.04" cy="631.53" r="1.1"/><circle cx="1521.63" cy="633.48" r="1.1"/><circle cx="1524.89" cy="637.88" r="1.1"/><circle cx="1517.04" cy="642.74" r="1.1"/><circle cx="1528.66" cy="623.34" r="1.1"/><circle cx="1523.98" cy="623" r="1.1"/><circle cx="1520.37" cy="621.94" r="1.1"/><circle cx="1517.94" cy="630.17" r="1.1"/><circle cx="1518.09" cy="650" r="1.1"/><circle cx="1520.11" cy="634.6" r="1.1"/><circle cx="1518.95" cy="652.04" r="1.1"/><circle cx="1518.85" cy="633.47" r="1.1"/><circle cx="1518.82" cy="643.34" r="1.1"/><circle cx="1516.86" cy="646.12" r="1.1"/><circle cx="1525.99" cy="613.12" r="1.1"/><circle cx="1528.11" cy="626.49" r="1.1"/><circle cx="1523.59" cy="638.37" r="1.1"/><circle cx="1520.69" cy="646.65" r="1.1"/><circle cx="1527.03" cy="631.49" r="1.1"/><circle cx="1519.83" cy="650.79" r="1.1"/><circle cx="1518.56" cy="650.02" r="1.1"/><circle cx="1518.83" cy="610.85" r="1.1"/><circle cx="1517.9" cy="645.81" r="1.1"/><circle cx="1517.08" cy="642.57" r="1.1"/><circle cx="1524.7" cy="614.04" r="1.1"/><circle cx="1519.08" cy="639.45" r="1.1"/><circle cx="1517.8" cy="630.56" r="1.1"/><circle cx="1519.91" cy="652.51" r="1.1"/><circle cx="1519.57" cy="643.27" r="1.1"/><circle cx="1525.62" cy="611.83" r="1.1"/><circle cx="1518.36" cy="636.01" r="1.1"/><circle cx="1523.06" cy="643.78" r="1.1"/><circle cx="1519.46" cy="613.94" r="1.1"/><circle cx="1520.67" cy="617.24" r="1.1"/><circle cx="1518.12" cy="636.02" r="1.1"/><circle cx="1526.99" cy="614.91" r="1.1"/><circle cx="1519.69" cy="647.37" r="1.1"/><circle cx="1521.37" cy="647.75" r="1.1"/><circle cx="1516.54" cy="652.08" r="1.1"/><circle cx="1520.49" cy="623.33" r="1.1"/><circle cx="1525.18" cy="613.74" r="1.1"/><circle cx="1518.8" cy="624" r="1.1"/><circle cx="1529.83" cy="624.91" r="1.1"/><circle cx="1517.5" cy="637.29" r="1.1"/><circle cx="1517.84" cy="646.59" r="1.1"/><circle cx="1519.32" cy="624.14" r="1.1"/><circle cx="1517.33" cy="648.12" r="1.1"/><circle cx="1526.86" cy="626.54" r="1.1"/><circle cx="1521.53" cy="640.53" r="1.1"/><circle cx="1522.58" cy="614.64" r="1.1"/><circle cx="1517.84" cy="646.38" r="1.1"/><circle cx="1522.86" cy="612.24" r="1.1"/><circle cx="1520.4" cy="644.53" r="1.1"/><circle cx="1520.94" cy="651.03" r="1.1"/><circle cx="1520.9" cy="637.51" r="1.1"/><circle cx="1517.62" cy="633.25" r="1.1"/><circle cx="1519.65" cy="629.85" r="1.1"/><circle cx="1521.45" cy="645.54" r="1.1"/><circle cx="1517.21" cy="651.11" r="1.1"/><circle cx="1519.79" cy="621.74" r="1.1"/><circle cx="1519.72" cy="644.44" r="1.1"/><circle cx="1521.43" cy="647.93" r="1.1"/><circle cx="1519.01" cy="608.72" r="1.1"/><circle cx="1523.49" cy="636.53" r="1.1"/><circle cx="1524.44" cy="640" r="1.1"/><circle cx="1518.29" cy="634.73" r="1.1"/><circle cx="1523.36" cy="632.02" r="1.1"/><circle cx="1521.36" cy="641.09" r="1.1"/><circle cx="1522.58" cy="620.26" r="1.1"/><circle cx="1525.27" cy="634.46" r="1.1"/><circle cx="1523.08" cy="625.52" r="1.1"/><circle cx="1519.4" cy="610.81" r="1.1"/><circle cx="1519.13" cy="620.44" r="1.1"/><circle cx="1519.24" cy="629.43" r="1.1"/><circle cx="1523.48" cy="637.5" r="1.1"/><circle cx="1526.04" cy="620.06" r="1.1"/><circle cx="1518.99" cy="646.12" r="1.1"/><circle cx="1519.49" cy="646.67" r="1.1"/><circle cx="1517.48" cy="634.77" r="1.1"/><circle cx="1524.78" cy="630" r="1.1"/><circle cx="1526.68" cy="631.2" r="1.1"/><circle cx="1516.99" cy="648.16" r="1.1"/><circle cx="1517.84" cy="652.76" r="1.1"/><circle cx="1520.04" cy="637.77" r="1.1"/><circle cx="1521.55" cy="645.07" r="1.1"/><circle cx="1520.29" cy="651.51" r="1.1"/><circle cx="1522.24" cy="631.38" r="1.1"/><circle cx="1519.72" cy="619.79" r="1.1"/><circle cx="1517.53" cy="649.3" r="1.1"/><circle cx="1517.18" cy="652.26" r="1.1"/><circle cx="1522.53" cy="628.77" r="1.1"/><circle cx="1519.9" cy="645" r="1.1"/><circle cx="1519.91" cy="651.08" r="1.1"/><circle cx="1517.38" cy="648.45" r="1.1"/><circle cx="1519.72" cy="648.85" r="1.1"/><circle cx="1525.34" cy="617.63" r="1.1"/><circle cx="1517.63" cy="651.81" r="1.1"/><circle cx="1517.95" cy="640.89" r="1.1"/><circle cx="1518.97" cy="609.72" r="1.1"/><circle cx="1523.98" cy="635.22" r="1.1"/><circle cx="1519.33" cy="608.81" r="1.1"/><circle cx="1523.35" cy="636.82" r="1.1"/><circle cx="1516.91" cy="652.33" r="1.1"/><circle cx="1519.15" cy="614.32" r="1.1"/><circle cx="1518.62" cy="639.64" r="1.1"/><circle cx="1517.42" cy="638.23" r="1.1"/><circle cx="1520.49" cy="652.44" r="1.1"/><circle cx="1525.56" cy="621.33" r="1.1"/><circle cx="1517.6" cy="646.34" r="1.1"/><circle cx="1519.01" cy="632.22" r="1.1"/><circle cx="1525.69" cy="636.53" r="1.1"/><circle cx="1518.74" cy="640.9" r="1.1"/><circle cx="1521.86" cy="609.09" r="1.1"/><circle cx="1517.52" cy="652.32" r="1.1"/><circle cx="1518.07" cy="627.31" r="1.1"/><circle cx="1521.53" cy="641.79" r="1.1"/><circle cx="1522.77" cy="615.76" r="1.1"/><circle cx="1521.43" cy="614.53" r="1.1"/><circle cx="1523.62" cy="639.64" r="1.1"/><circle cx="1522.81" cy="640.16" r="1.1"/><circle cx="1518.02" cy="646.88" r="1.1"/><circle cx="1519.02" cy="648.03" r="1.1"/><circle cx="1517.14" cy="648.71" r="1.1"/><circle cx="1518.72" cy="646.92" r="1.1"/><circle cx="1519.19" cy="643.24" r="1.1"/><circle cx="1522.19" cy="608.39" r="1.1"/><circle cx="1519.49" cy="615.86" r="1.1"/><circle cx="1517.28" cy="640.08" r="1.1"/><circle cx="1521.09" cy="625.15" r="1.1"/><circle cx="1516.83" cy="644.62" r="1.1"/><circle cx="1517.45" cy="648.09" r="1.1"/><circle cx="1524.51" cy="639.64" r="1.1"/><circle cx="1520.03" cy="623.9" r="1.1"/><circle cx="1517.59" cy="641.03" r="1.1"/><circle cx="1520.45" cy="611.67" r="1.1"/><circle cx="1525.38" cy="621.2" r="1.1"/><circle cx="1518.71" cy="613.36" r="1.1"/><circle cx="1518.83" cy="642.68" r="1.1"/><circle cx="1520.24" cy="651.23" r="1.1"/><circle cx="1522.03" cy="642.55" r="1.1"/><circle cx="1517.63" cy="633.8" r="1.1"/><circle cx="1518.22" cy="639.59" r="1.1"/><circle cx="1516.64" cy="652.3" r="1.1"/><circle cx="1517.77" cy="630.07" r="1.1"/><circle cx="1519.05" cy="643.09" r="1.1"/><circle cx="1518.17" cy="632.61" r="1.1"/><circle cx="1519.95" cy="624.35" r="1.1"/><circle cx="1525.02" cy="623.35" r="1.1"/><circle cx="1517.09" cy="649.27" r="1.1"/><circle cx="1521.02" cy="644.39" r="1.1"/><circle cx="1519.37" cy="639.09" r="1.1"/><circle cx="1519.64" cy="615.68" r="1.1"/><circle cx="1518.4" cy="643.91" r="1.1"/><circle cx="1516.74" cy="646.87" r="1.1"/><circle cx="1518.48" cy="652.64" r="1.1"/><circle cx="1525.66" cy="631.53" r="1.1"/><circle cx="1520.01" cy="609.42" r="1.1"/><circle cx="1529.07" cy="626.24" r="1.1"/><circle cx="1520.21" cy="646.85" r="1.1"/><circle cx="1529.62" cy="626.44" r="1.1"/><circle cx="1519.7" cy="615.54" r="1.1"/><circle cx="1518.2" cy="628.19" r="1.1"/><circle cx="1519.56" cy="638.08" r="1.1"/><circle cx="1517.51" cy="651.84" r="1.1"/><circle cx="1519.71" cy="642.43" r="1.1"/><circle cx="1517.33" cy="644.41" r="1.1"/><circle cx="1520.1" cy="639.22" r="1.1"/><circle cx="1519.62" cy="648.62" r="1.1"/><circle cx="1516.95" cy="645.97" r="1.1"/><circle cx="1519.23" cy="641.85" r="1.1"/><circle cx="1518.99" cy="649.15" r="1.1"/><circle cx="1523.6" cy="624.62" r="1.1"/><circle cx="1518.06" cy="624.69" r="1.1"/><circle cx="1519.11" cy="639.71" r="1.1"/><circle cx="1517.61" cy="651.76" r="1.1"/><circle cx="1517.98" cy="651.97" r="1.1"/><circle cx="1521.52" cy="630.54" r="1.1"/><circle cx="1518" cy="642.54" r="1.1"/><circle cx="1517.25" cy="652.66" r="1.1"/><circle cx="1522.3" cy="614.23" r="1.1"/><circle cx="1520.48" cy="645.12" r="1.1"/><circle cx="1518.55" cy="647.95" r="1.1"/><circle cx="1528.66" cy="629.07" r="1.1"/><circle cx="1520.65" cy="640.96" r="1.1"/><circle cx="1523.57" cy="611.34" r="1.1"/><circle cx="1523.85" cy="628.45" r="1.1"/><circle cx="1519.65" cy="638.84" r="1.1"/><circle cx="1521.97" cy="644.55" r="1.1"/><circle cx="1520.78" cy="614.91" r="1.1"/><circle cx="1518.77" cy="613.21" r="1.1"/><circle cx="1518.46" cy="649.64" r="1.1"/><circle cx="1518.59" cy="643.24" r="1.1"/><circle cx="1519.34" cy="609.34" r="1.1"/><circle cx="1517.34" cy="647.72" r="1.1"/><circle cx="1519.61" cy="625.73" r="1.1"/><circle cx="1518.01" cy="652.99" r="1.1"/><circle cx="1527.99" cy="633.46" r="0.9"/><circle cx="1536.06" cy="629.27" r="0.9"/><circle cx="1536.22" cy="626.98" r="0.9"/><circle cx="1540.46" cy="626.45" r="0.9"/><circle cx="1533.14" cy="609.31" r="0.9"/><circle cx="1538.01" cy="635.44" r="0.9"/><circle cx="1534.87" cy="636.84" r="0.9"/><circle cx="1539.32" cy="620.79" r="0.9"/><circle cx="1531.65" cy="643.3" r="0.9"/><circle cx="1534.43" cy="629.39" r="0.9"/><circle cx="1528.64" cy="634.48" r="0.9"/><circle cx="1536.45" cy="618.54" r="0.9"/><circle cx="1527.43" cy="640.04" r="0.9"/><circle cx="1526.74" cy="636.35" r="0.9"/><circle cx="1526.38" cy="628.42" r="0.9"/><circle cx="1524.72" cy="647.34" r="0.9"/><circle cx="1531.92" cy="645.71" r="0.9"/><circle cx="1529.17" cy="645.26" r="0.9"/><circle cx="1535.41" cy="617.57" r="0.9"/><circle cx="1534.71" cy="643.17" r="0.9"/><circle cx="1525.37" cy="613.47" r="0.9"/><circle cx="1531.14" cy="639.34" r="0.9"/><circle cx="1533.49" cy="616.55" r="0.9"/><circle cx="1529.72" cy="619.93" r="0.9"/><circle cx="1531.42" cy="619.94" r="0.9"/><circle cx="1535.82" cy="635.98" r="0.9"/><circle cx="1544.77" cy="614.61" r="0.9"/><circle cx="1532.38" cy="626.17" r="0.9"/><circle cx="1538.04" cy="620.31" r="0.9"/><circle cx="1543.91" cy="615.1" r="0.9"/><circle cx="1528.4" cy="644.74" r="0.9"/><circle cx="1529.04" cy="621.89" r="0.9"/><circle cx="1524.18" cy="642.24" r="0.9"/><circle cx="1543.07" cy="625.41" r="0.9"/><circle cx="1527.67" cy="609.24" r="0.9"/><circle cx="1533.3" cy="621.12" r="0.9"/><circle cx="1532.38" cy="623.48" r="0.9"/><circle cx="1531.31" cy="647.95" r="0.9"/><circle cx="1524.49" cy="645.03" r="0.9"/><circle cx="1534.73" cy="637.99" r="0.9"/><circle cx="1527.35" cy="608.27" r="0.9"/><circle cx="1524.41" cy="636.14" r="0.9"/><circle cx="1533.4" cy="627.21" r="0.9"/><circle cx="1529.04" cy="634.32" r="0.9"/><circle cx="1544.36" cy="616.38" r="0.9"/><circle cx="1529.73" cy="638.08" r="0.9"/><circle cx="1539.97" cy="624.05" r="0.9"/><circle cx="1534.76" cy="608.8" r="0.9"/><circle cx="1536.17" cy="620.85" r="0.9"/><circle cx="1527.57" cy="616.39" r="0.9"/><circle cx="1525.35" cy="642.65" r="0.9"/><circle cx="1530.73" cy="610.79" r="0.9"/><circle cx="1526.22" cy="629.49" r="0.9"/><circle cx="1524.3" cy="636.41" r="0.9"/><circle cx="1526.86" cy="626.23" r="0.9"/><circle cx="1529.76" cy="623.74" r="0.9"/><circle cx="1530.55" cy="640.44" r="0.9"/><circle cx="1528.2" cy="634.63" r="0.9"/><circle cx="1524.66" cy="647.85" r="0.9"/><circle cx="1532.04" cy="612.51" r="0.9"/><circle cx="1525.97" cy="646.71" r="0.9"/><circle cx="1542.31" cy="629.7" r="0.9"/><circle cx="1535.37" cy="641.51" r="0.9"/><circle cx="1531.62" cy="629.66" r="0.9"/><circle cx="1533.66" cy="616.11" r="0.9"/><circle cx="1529.73" cy="647.58" r="0.9"/><circle cx="1537.45" cy="622.41" r="0.9"/><circle cx="1537.62" cy="638.36" r="0.9"/><circle cx="1509.29" cy="648.3" r="1"/><circle cx="1500.86" cy="652.55" r="1"/><circle cx="1506.5" cy="656.4" r="1"/><circle cx="1492.54" cy="656.45" r="1"/><circle cx="1494.38" cy="656.49" r="1"/><circle cx="1499.18" cy="653.64" r="1"/><circle cx="1498.2" cy="655.45" r="1"/><circle cx="1492.21" cy="656.42" r="1"/><circle cx="1511.19" cy="656.5" r="1"/><circle cx="1502.55" cy="652.58" r="1"/><circle cx="1507.85" cy="652.81" r="1"/><circle cx="1499.99" cy="653.03" r="1"/><circle cx="1508.55" cy="652.3" r="1"/><circle cx="1511.72" cy="656.47" r="1"/><circle cx="1511.01" cy="655.6" r="1"/><circle cx="1506.11" cy="656.26" r="1"/><circle cx="1510.19" cy="656.5" r="1"/><circle cx="1503.54" cy="656.33" r="1"/><circle cx="1499.77" cy="656.01" r="1"/><circle cx="1505.14" cy="652.19" r="1"/><circle cx="1499.29" cy="654.61" r="1"/><circle cx="1499.08" cy="656.26" r="1"/><circle cx="1510.1" cy="656" r="1"/><circle cx="1493.88" cy="656.21" r="1"/><circle cx="1506.83" cy="656.34" r="1"/><circle cx="1506.86" cy="654.8" r="1"/><circle cx="1505.6" cy="656.4" r="1"/><circle cx="1494.12" cy="656.47" r="1"/><circle cx="1499.01" cy="655.8" r="1"/><circle cx="1492.19" cy="655.78" r="1"/><circle cx="1500.07" cy="656.15" r="1"/><circle cx="1502.74" cy="650.58" r="1"/><circle cx="1496.09" cy="652.85" r="1"/><circle cx="1498.42" cy="653.73" r="1"/><circle cx="1494.17" cy="652.1" r="1"/><circle cx="1500.6" cy="650.91" r="1"/><circle cx="1496.39" cy="655.96" r="1"/><circle cx="1506.12" cy="656.4" r="1"/><circle cx="1497.47" cy="654.47" r="1"/><circle cx="1510.95" cy="655.98" r="1"/><circle cx="1495.67" cy="656.13" r="1"/><circle cx="1511.79" cy="656.42" r="1"/><circle cx="1504.69" cy="655.87" r="1"/><circle cx="1504.88" cy="656.35" r="1"/><circle cx="1504.33" cy="651.24" r="1"/><circle cx="1509.13" cy="653.91" r="1"/><circle cx="1502.1" cy="654.92" r="1"/><circle cx="1494.28" cy="653.57" r="1"/><circle cx="1505.8" cy="655.47" r="1"/><circle cx="1505.31" cy="655.67" r="1"/><circle cx="1499.69" cy="656.35" r="1"/><circle cx="1504.01" cy="654.76" r="1"/><circle cx="1502.3" cy="656.5" r="1"/><circle cx="1504.55" cy="655.55" r="1"/><circle cx="1503.87" cy="654.6" r="1"/><circle cx="1510.63" cy="656.42" r="1"/><circle cx="1501.37" cy="650.27" r="1"/><circle cx="1506.76" cy="656.08" r="1"/><circle cx="1506.74" cy="649.02" r="1"/><circle cx="1500.04" cy="652.29" r="1"/><circle cx="1494.53" cy="651.98" r="1"/><circle cx="1501.82" cy="656.33" r="1"/><circle cx="1508.8" cy="653.71" r="1"/><circle cx="1510.75" cy="651.06" r="1"/><circle cx="1507.95" cy="655" r="1"/><circle cx="1511.87" cy="656.49" r="1"/><circle cx="1509.4" cy="652.93" r="1"/><circle cx="1497.01" cy="653.42" r="1"/><circle cx="1501.08" cy="655.18" r="1"/><circle cx="1509.31" cy="656.36" r="1"/><circle cx="1497.59" cy="654.71" r="1"/><circle cx="1493.47" cy="655.5" r="1"/><circle cx="1507.74" cy="655.16" r="1"/><circle cx="1496.84" cy="653.52" r="1"/><circle cx="1509.1" cy="652.18" r="1"/><circle cx="1502.99" cy="651.23" r="1"/><circle cx="1507.94" cy="656.43" r="1"/><circle cx="1499.32" cy="656.48" r="1"/><circle cx="1492.74" cy="656.21" r="1"/><circle cx="1509.3" cy="651.21" r="1"/><circle cx="1494.35" cy="656.44" r="1"/><circle cx="1499.77" cy="652.55" r="1"/><circle cx="1504.34" cy="651.03" r="1"/><circle cx="1493.44" cy="652.27" r="1"/><circle cx="1496.13" cy="654.92" r="1"/><circle cx="1509.53" cy="652.71" r="1"/><circle cx="1495.94" cy="654.68" r="1"/><circle cx="1500.62" cy="656.5" r="1"/><circle cx="1498.79" cy="656.18" r="1"/><circle cx="1504.59" cy="656.21" r="1"/><circle cx="1504.06" cy="653.68" r="1"/><circle cx="1495.61" cy="656.47" r="1"/><circle cx="1505.88" cy="655.39" r="1"/><circle cx="1494.58" cy="656.48" r="1"/><circle cx="1510.82" cy="653.97" r="1"/><circle cx="1499.15" cy="656.4" r="1"/><circle cx="1511.9" cy="652.93" r="1"/><circle cx="1506.73" cy="655.9" r="1"/><circle cx="1498.21" cy="655.91" r="1"/><circle cx="1494.93" cy="655" r="1"/><circle cx="1500.49" cy="652.77" r="1"/><circle cx="1500.18" cy="655.65" r="1"/><circle cx="1502.13" cy="650.88" r="1"/><circle cx="1498.93" cy="654.12" r="1"/><circle cx="1496.7" cy="655.18" r="1"/><circle cx="1497.7" cy="652.64" r="1"/><circle cx="1497.73" cy="652.83" r="1"/><circle cx="1505.53" cy="655.47" r="1"/><circle cx="1510.67" cy="655.69" r="1"/><circle cx="1506.87" cy="654.34" r="1"/><circle cx="1500.97" cy="656.49" r="1"/><circle cx="1500.38" cy="656.24" r="1"/><circle cx="1500.82" cy="650.98" r="1"/><circle cx="1497.86" cy="654.3" r="1"/><circle cx="1505.44" cy="656.28" r="1"/><circle cx="1500.23" cy="656.46" r="1"/><circle cx="1509.91" cy="656.23" r="1"/><circle cx="1500.41" cy="656.08" r="1"/><circle cx="1508.41" cy="651.1" r="1"/><circle cx="1503.81" cy="654.97" r="1"/><circle cx="1493.99" cy="653.08" r="1"/><circle cx="1493.77" cy="656.15" r="1"/><circle cx="1499.49" cy="653.89" r="1"/><circle cx="1505.38" cy="655.99" r="1"/><circle cx="1509.96" cy="649.04" r="1"/><circle cx="1492.46" cy="655.19" r="1"/><circle cx="1501.38" cy="656" r="1"/><circle cx="1501.3" cy="656.14" r="1"/><circle cx="1505.42" cy="654.4" r="1"/><circle cx="1511.41" cy="648.16" r="1"/><circle cx="1511.85" cy="655.62" r="1"/><circle cx="1508.57" cy="653.73" r="1"/><circle cx="1506.02" cy="649.04" r="1"/><circle cx="1493.33" cy="655.87" r="1"/><circle cx="1500.03" cy="654.41" r="1"/><circle cx="1496.36" cy="651.54" r="1"/><circle cx="1496.19" cy="656.08" r="1"/><circle cx="1494.86" cy="656.04" r="1"/><circle cx="1506.84" cy="656.48" r="1"/><circle cx="1495.34" cy="654.86" r="1"/><circle cx="1504.46" cy="653.13" r="1"/><circle cx="1497.07" cy="653.38" r="1"/><circle cx="1506.62" cy="652.44" r="1"/><circle cx="1494.39" cy="655.81" r="1"/><circle cx="1492.32" cy="653.7" r="1"/><circle cx="1510.89" cy="649.87" r="1"/><circle cx="1492.48" cy="656.2" r="1"/><circle cx="1502.72" cy="655.11" r="1"/><circle cx="1494.22" cy="653.98" r="1"/><circle cx="1498.03" cy="655.49" r="1"/><circle cx="1494.49" cy="655.38" r="1"/><circle cx="1494.59" cy="656.49" r="1"/><circle cx="1502.24" cy="656.19" r="1"/><circle cx="1507.55" cy="656.26" r="1"/><circle cx="1500.28" cy="656.5" r="1"/><circle cx="1496.35" cy="655.8" r="1"/><circle cx="1503.16" cy="655.53" r="1"/><circle cx="1509.01" cy="656.47" r="1"/><circle cx="1509" cy="656.42" r="1"/><circle cx="1511.41" cy="654.73" r="1"/><circle cx="1500.13" cy="654.73" r="1"/><circle cx="1509.28" cy="648.91" r="1"/><circle cx="1500.27" cy="656.5" r="1"/><circle cx="1495.07" cy="653.61" r="1"/><circle cx="1506.69" cy="653.21" r="1"/><circle cx="1495.13" cy="655.52" r="1"/><circle cx="1492.57" cy="656.48" r="1"/><circle cx="1498.02" cy="651.45" r="1"/><circle cx="1504.86" cy="651.73" r="1"/><circle cx="1492.92" cy="656.03" r="1"/><circle cx="1483" cy="629.5" r="0.9"/><circle cx="1493" cy="635.6" r="0.9"/><circle cx="1497" cy="641" r="0.9"/><circle cx="1503" cy="637" r="0.9"/><circle cx="1505" cy="646" r="0.9"/><circle cx="1489" cy="648" r="0.9"/><circle cx="1500" cy="645" r="0.9"/><circle cx="1509" cy="642" r="0.9"/></g>
<circle cx="1722" cy="336" r="0.9" fill="#555"/>
<circle cx="1700" cy="350.5" r="0.9" fill="#555"/>
<circle cx="1798.3" cy="368" r="0.9" fill="#555"/>
<circle cx="1655.8" cy="463.9" r="0.9" fill="#555"/>
<circle cx="1687" cy="470.3" r="0.9" fill="#555"/>
<circle cx="1671" cy="513" r="0.9" fill="#555"/>
<circle cx="1547.3" cy="589.8" r="0.9" fill="#555"/>
<circle cx="1569.7" cy="594.9" r="0.9" fill="#555"/>
<circle cx="1588.4" cy="607.1" r="0.9" fill="#555"/>
<circle cx="1579" cy="611.5" r="0.9" fill="#555"/>
<circle cx="1551" cy="606.6" r="0.9" fill="#555"/>
<text class="R" x="1730" y="346.3" font-size="9.6" text-anchor="middle" fill="#333">AZIN1</text>
<text class="R" x="1692.5" y="361.3" font-size="9.6" text-anchor="middle" fill="#333">CLN3</text>
<text class="R" x="1790.5" y="364.3" font-size="9.6" text-anchor="middle" fill="#333">ARG1</text>
<text class="R" x="1648.7" y="460.1" font-size="9.6" text-anchor="middle" fill="#333">ATP2B4</text>
<text class="R" x="1695" y="481.3" font-size="9.6" text-anchor="middle" fill="#333">OAT</text>
<text class="R" x="1662.2" y="524.2" font-size="9.6" text-anchor="middle" fill="#333">ODC1</text>
<text class="R" x="1541.8" y="583.6" font-size="9.6" text-anchor="middle" fill="#333">SYNE1</text>
<text class="R" x="1584.3" y="590.5" font-size="9.6" text-anchor="middle" fill="#333">PGLYRP1</text>
<text class="R" x="1527" y="596.7" font-size="9.6" text-anchor="middle" fill="#333">EMB</text>
<text class="R" x="1567.5" y="605.2" font-size="9.6" text-anchor="middle" fill="#333">DACH1</text>
<text class="R" x="1606" y="603.6" font-size="9.6" text-anchor="middle" fill="#333">CAMP</text>
<text class="R" x="1523.5" y="609.1" font-size="9.6" text-anchor="middle" fill="#333">PADI4</text>
<text class="R" x="1571" y="622.5" font-size="9.6" text-anchor="middle" fill="#333">RETN</text>
<text class="R" x="1526.8" y="623.3" font-size="9.6" text-anchor="middle" fill="#333">LTF</text>
<text class="R" x="1550" y="635.6" font-size="9.6" text-anchor="middle" fill="#333">ATP8B4</text>
<line x1="1508.4" y1="335.5" x2="1508.4" y2="671.6" stroke="#222" stroke-width="0.9" stroke-dasharray="2.6,2"/>
<line x1="1519.3" y1="335.5" x2="1519.3" y2="671.6" stroke="#222" stroke-width="0.9" stroke-dasharray="2.6,2"/>
<line x1="1467" y1="653.6" x2="1814.3" y2="653.6" stroke="#333" stroke-width="1.1"/>
<text class="Rb" x="1416.5" y="730.5" font-size="24.5">F</text>
<line x1="1591.4" y1="710.8" x2="1591.4" y2="973" stroke="#333" stroke-width="0.7"/>
<line x1="1591.4" y1="971.2" x2="1829.4" y2="971.2" stroke="#333" stroke-width="0.9"/>
<line x1="1589" y1="971.2" x2="1591.4" y2="971.2" stroke="#333" stroke-width="0.6"/>
<text class="S" x="1587.5" y="972.9" font-size="5" text-anchor="end" fill="#555">0</text>
<line x1="1589" y1="880.5" x2="1591.4" y2="880.5" stroke="#333" stroke-width="0.6"/>
<text class="S" x="1587.5" y="882.2" font-size="5" text-anchor="end" fill="#555">200</text>
<line x1="1589" y1="789.8" x2="1591.4" y2="789.8" stroke="#333" stroke-width="0.6"/>
<text class="S" x="1587.5" y="791.5" font-size="5" text-anchor="end" fill="#555">400</text>
<text class="S" x="1539" y="847.9" font-size="6" text-anchor="middle" fill="#444" transform="rotate(-90 1539 847.9)">Intersection Size</text>
<rect x="1632.9" y="744.45" width="35.7" height="226.75" fill="#3a3a3a"/>
<text class="S" x="1650.75" y="740.95" font-size="3.6" text-anchor="middle" fill="#555">500</text>
<rect x="1692.4" y="772.11" width="35.7" height="199.09" fill="#3a3a3a"/>
<text class="S" x="1710.25" y="768.61" font-size="3.6" text-anchor="middle" fill="#555">439</text>
<rect x="1752.6" y="943.54" width="35.4" height="27.66" fill="#3a3a3a"/>
<text class="S" x="1770.3" y="940.04" font-size="3.6" text-anchor="middle" fill="#555">64</text>
<rect x="1590.3" y="1023.8" width="239.1" height="47.7" fill="#f7f7f7"/>
<circle cx="1650.5" cy="999.7" r="3.2" fill="#e6e6e6"/>
<circle cx="1710" cy="999.7" r="3.2" fill="#333"/>
<circle cx="1769.5" cy="999.7" r="3.2" fill="#333"/>
<circle cx="1650.5" cy="1048" r="3.2" fill="#333"/>
<circle cx="1710" cy="1048" r="3.2" fill="#e6e6e6"/>
<circle cx="1769.5" cy="1048" r="3.2" fill="#333"/>
<line x1="1769.5" y1="999.7" x2="1769.5" y2="1048" stroke="#333" stroke-width="2.3"/>
<rect x="1463.4" y="990.3" width="70.3" height="19.1" fill="#08306b"/>
<rect x="1454.4" y="1037.9" width="79.3" height="19.1" fill="#6baed6"/>
<text class="S" x="1542.7" y="1001.6" font-size="5.5" fill="#444">HAS_up_genes</text>
<text class="S" x="1538.4" y="1049.9" font-size="5.5" fill="#444">HAS_related_genes</text>
<line x1="1451.5" y1="1071.5" x2="1536.2" y2="1071.5" stroke="#444" stroke-width="0.7"/>
<line x1="1477.4" y1="1071.5" x2="1477.4" y2="1073.5" stroke="#444" stroke-width="0.6"/>
<text class="S" x="1477.4" y="1079.2" font-size="4.6" text-anchor="middle" fill="#555">400</text>
<line x1="1505.6" y1="1071.5" x2="1505.6" y2="1073.5" stroke="#444" stroke-width="0.6"/>
<text class="S" x="1505.6" y="1079.2" font-size="4.6" text-anchor="middle" fill="#555">200</text>
<line x1="1533.7" y1="1071.5" x2="1533.7" y2="1073.5" stroke="#444" stroke-width="0.6"/>
<text class="S" x="1533.7" y="1079.2" font-size="4.6" text-anchor="middle" fill="#555">0</text>
<text class="S" x="1493.7" y="1087.5" font-size="6.3" text-anchor="middle" fill="#333">Set Size</text>
</svg>
</body></html>
